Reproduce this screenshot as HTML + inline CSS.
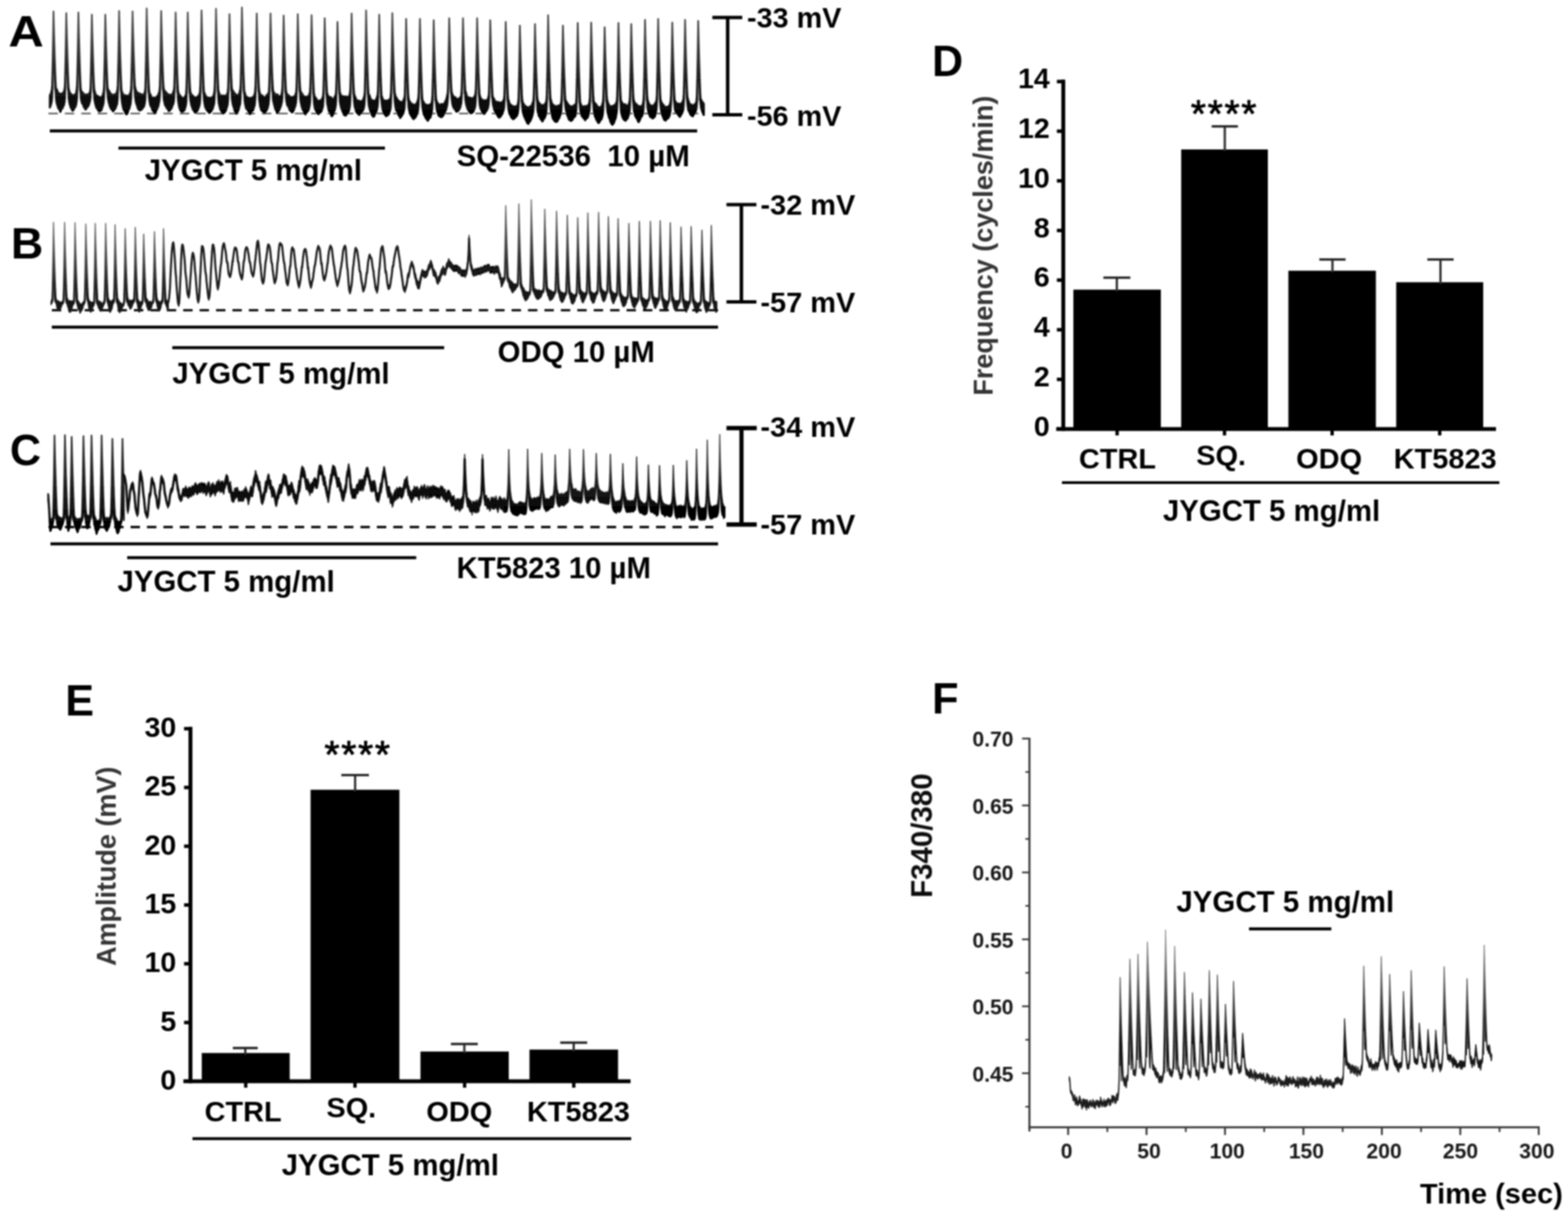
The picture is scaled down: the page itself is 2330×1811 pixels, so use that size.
<!DOCTYPE html>
<html lang="en"><head><meta charset="utf-8"><title>Figure</title>
<style>
html,body{margin:0;padding:0;background:#fff}
body{width:2330px;height:1811px;overflow:hidden}
svg{display:block;font-family:"Liberation Sans", sans-serif}
</style></head><body>
<svg width="2330" height="1811" viewBox="0 0 2330 1811">
<defs><filter id="soft" filterUnits="userSpaceOnUse" x="0" y="0" width="2330" height="1811"><feGaussianBlur stdDeviation="0.9"/></filter><linearGradient id="gA" gradientUnits="userSpaceOnUse" x1="0" y1="12" x2="0" y2="175"><stop offset="0" stop-color="#5a5a5a"/><stop offset="0.75" stop-color="#161616"/><stop offset="1" stop-color="#000"/></linearGradient><linearGradient id="gB1" gradientUnits="userSpaceOnUse" x1="0" y1="330" x2="0" y2="475"><stop offset="0" stop-color="#7a7a7a"/><stop offset="0.75" stop-color="#161616"/><stop offset="1" stop-color="#111"/></linearGradient><linearGradient id="gB3" gradientUnits="userSpaceOnUse" x1="0" y1="297" x2="0" y2="465"><stop offset="0" stop-color="#7a7a7a"/><stop offset="0.75" stop-color="#161616"/><stop offset="1" stop-color="#111"/></linearGradient><linearGradient id="gC1" gradientUnits="userSpaceOnUse" x1="0" y1="645" x2="0" y2="785"><stop offset="0" stop-color="#3a3a3a"/><stop offset="0.75" stop-color="#161616"/><stop offset="1" stop-color="#000"/></linearGradient><linearGradient id="gC3" gradientUnits="userSpaceOnUse" x1="0" y1="650" x2="0" y2="760"><stop offset="0" stop-color="#5a5a5a"/><stop offset="0.75" stop-color="#161616"/><stop offset="1" stop-color="#000"/></linearGradient><linearGradient id="gF" gradientUnits="userSpaceOnUse" x1="0" y1="1390" x2="0" y2="1605"><stop offset="0" stop-color="#9a9a9a"/><stop offset="0.75" stop-color="#161616"/><stop offset="1" stop-color="#1c1c1c"/></linearGradient></defs>
<rect width="2330" height="1811" fill="#fff"/>
<g id="fig" filter="url(#soft)">
<line x1="72" y1="168.6" x2="1040" y2="168.6" stroke="#555" stroke-width="2.4" stroke-dasharray="14 10.4"/>
<path d="M74.0 142.2L74.5 140.3L75.0 140.1L75.5 140.2L76.0 136.9L76.5 135.0L77.0 133.2L77.5 126.4L78.0 105.4L78.5 81.1L79.0 51.2L79.5 17.0L80.0 37.9L80.5 57.0L81.0 74.8L81.5 91.6L82.0 106.3L82.5 119.4L83.0 129.3L83.5 131.8L84.0 133.9L84.5 132.8L85.0 134.3L85.5 134.8L86.0 137.0L86.5 138.0L87.0 138.2L87.5 139.0L88.0 138.7L88.5 139.3L89.0 139.9L89.5 139.0L90.0 141.1L90.5 141.1L91.0 140.9L91.5 139.3L92.0 140.1L92.5 138.9L93.0 138.6L93.5 137.5L94.0 137.2L94.5 137.4L95.0 135.7L95.5 134.0L96.0 131.6L96.5 125.7L97.0 105.3L97.5 81.7L98.0 52.0L98.5 19.5L99.0 39.6L99.5 58.6L100.0 76.1L100.5 93.0L101.0 108.0L101.5 120.1L102.0 130.5L102.5 132.7L103.0 135.7L103.5 136.2L104.0 138.3L104.5 138.0L105.0 140.0L105.5 139.7L106.0 140.1L106.5 140.0L107.0 141.5L107.5 141.4L108.0 142.1L108.5 142.0L109.0 141.3L109.5 141.5L110.0 141.9L110.5 141.3L111.0 140.5L111.5 140.0L112.0 139.8L112.5 139.7L113.0 137.8L113.5 134.9L114.0 131.4L114.5 124.8L115.0 105.6L115.5 80.8L116.0 51.8L116.5 18.7L117.0 39.6L117.5 59.1L118.0 77.5L118.5 93.2L119.0 108.3L119.5 121.4L120.0 131.0L120.5 133.9L121.0 135.9L121.5 135.9L122.0 138.4L122.5 137.1L123.0 137.4L123.5 137.7L124.0 140.1L124.5 140.8L125.0 140.6L125.5 140.0L126.0 140.9L126.5 142.1L127.0 141.1L127.5 140.8L128.0 141.1L128.5 141.0L129.0 139.9L129.5 141.6L130.0 141.5L130.5 140.8L131.0 140.6L131.5 140.8L132.0 139.6L132.5 138.4L133.0 137.8L133.5 136.4L134.0 136.4L134.5 128.9L135.0 109.3L135.5 84.3L136.0 55.6L136.5 21.8L137.0 43.1L137.5 61.6L138.0 79.0L138.5 95.3L139.0 110.4L139.5 122.8L140.0 131.5L140.5 134.6L141.0 135.9L141.5 137.9L142.0 139.5L142.5 140.1L143.0 141.8L143.5 141.7L144.0 142.0L144.5 142.3L145.0 142.4L145.5 142.6L146.0 143.2L146.5 143.5L147.0 143.6L147.5 143.9L148.0 145.1L148.5 145.2L149.0 145.5L149.5 145.3L150.0 144.2L150.5 145.3L151.0 144.1L151.5 143.6L152.0 142.8L152.5 141.3L153.0 139.4L153.5 138.3L154.0 135.0L154.5 129.5L155.0 108.8L155.5 84.6L156.0 54.8L156.5 21.8L157.0 41.7L157.5 60.9L158.0 78.2L158.5 94.2L159.0 108.2L159.5 121.2L160.0 131.3L160.5 131.6L161.0 134.1L161.5 134.5L162.0 135.4L162.5 135.2L163.0 136.1L163.5 137.5L164.0 139.6L164.5 139.5L165.0 139.4L165.5 140.9L166.0 139.8L166.5 140.5L167.0 141.2L167.5 141.6L168.0 141.3L168.5 143.0L169.0 141.1L169.5 140.4L170.0 141.4L170.5 140.6L171.0 139.7L171.5 140.7L172.0 139.7L172.5 139.8L173.0 138.9L173.5 136.3L174.0 134.6L174.5 132.4L175.0 126.4L175.5 104.6L176.0 80.1L176.5 50.1L177.0 16.3L177.5 38.0L178.0 58.1L178.5 76.7L179.0 93.8L179.5 108.8L180.0 122.1L180.5 132.2L181.0 136.2L181.5 137.2L182.0 137.1L182.5 140.1L183.0 140.3L183.5 140.9L184.0 142.7L184.5 141.3L185.0 140.9L185.5 141.2L186.0 142.8L186.5 142.2L187.0 142.6L187.5 143.2L188.0 142.4L188.5 141.6L189.0 143.0L189.5 143.1L190.0 143.3L190.5 143.8L191.0 142.8L191.5 141.7L192.0 142.1L192.5 140.0L193.0 138.6L193.5 138.8L194.0 136.3L194.5 133.4L195.0 126.4L195.5 105.0L196.0 80.6L196.5 50.6L197.0 17.0L197.5 38.1L198.0 57.0L198.5 74.2L199.0 90.6L199.5 105.7L200.0 118.1L200.5 127.4L201.0 129.9L201.5 132.1L202.0 134.6L202.5 134.5L203.0 135.8L203.5 137.1L204.0 137.8L204.5 138.1L205.0 138.0L205.5 137.8L206.0 138.0L206.5 138.6L207.0 139.2L207.5 140.7L208.0 139.5L208.5 139.2L209.0 141.4L209.5 140.9L210.0 140.4L210.5 140.1L211.0 140.1L211.5 140.7L212.0 140.8L212.5 142.3L213.0 141.7L213.5 141.9L214.0 139.4L214.5 139.2L215.0 136.4L215.5 135.5L216.0 129.5L216.5 107.2L217.0 81.1L217.5 48.6L218.0 12.5L218.5 34.7L219.0 55.6L219.5 74.8L220.0 92.7L220.5 108.8L221.0 122.7L221.5 132.1L222.0 136.1L222.5 139.0L223.0 139.8L223.5 140.6L224.0 140.4L224.5 143.1L225.0 143.5L225.5 144.5L226.0 145.3L226.5 145.7L227.0 145.2L227.5 146.4L228.0 146.3L228.5 146.6L229.0 144.5L229.5 146.3L230.0 145.7L230.5 147.0L231.0 146.8L231.5 145.3L232.0 144.4L232.5 144.2L233.0 143.2L233.5 144.0L234.0 142.6L234.5 141.3L235.0 141.0L235.5 139.2L236.0 138.6L236.5 136.4L237.0 134.4L237.5 127.4L238.0 107.9L238.5 82.2L239.0 51.3L239.5 16.3L240.0 37.5L240.5 56.9L241.0 75.0L241.5 91.6L242.0 106.1L242.5 119.5L243.0 128.8L243.5 132.6L244.0 133.1L244.5 134.8L245.0 136.6L245.5 136.4L246.0 136.0L246.5 136.4L247.0 137.2L247.5 137.8L248.0 138.9L248.5 140.3L249.0 139.5L249.5 140.7L250.0 140.1L250.5 140.7L251.0 141.2L251.5 140.3L252.0 142.0L252.5 141.0L253.0 142.1L253.5 141.1L254.0 143.1L254.5 140.9L255.0 142.1L255.5 141.6L256.0 139.9L256.5 138.9L257.0 137.5L257.5 136.8L258.0 134.4L258.5 133.9L259.0 126.4L259.5 107.1L260.0 82.2L260.5 52.8L261.0 18.7L261.5 40.2L262.0 59.9L262.5 78.0L263.0 94.4L263.5 110.3L264.0 123.1L264.5 132.3L265.0 137.3L265.5 137.8L266.0 139.1L266.5 140.2L267.0 141.3L267.5 141.8L268.0 142.4L268.5 142.6L269.0 143.0L269.5 145.2L270.0 146.3L270.5 145.2L271.0 145.3L271.5 147.0L272.0 145.6L272.5 147.0L273.0 146.6L273.5 145.0L274.0 145.0L274.5 143.6L275.0 144.8L275.5 141.7L276.0 141.5L276.5 139.3L277.0 131.2L277.5 111.2L278.0 82.6L278.5 53.8L279.0 18.7L279.5 40.4L280.0 59.5L280.5 77.9L281.0 94.6L281.5 110.7L282.0 124.1L282.5 132.8L283.0 136.4L283.5 137.8L284.0 139.8L284.5 140.3L285.0 140.6L285.5 141.2L286.0 142.0L286.5 143.0L287.0 142.3L287.5 143.5L288.0 143.7L288.5 144.8L289.0 144.5L289.5 144.9L290.0 144.7L290.5 144.9L291.0 145.0L291.5 144.9L292.0 145.1L292.5 144.8L293.0 143.6L293.5 143.5L294.0 143.2L294.5 142.4L295.0 142.6L295.5 141.5L296.0 139.6L296.5 139.3L297.0 136.5L297.5 129.2L298.0 108.0L298.5 82.5L299.0 51.7L299.5 15.6L300.0 37.9L300.5 58.5L301.0 77.3L301.5 94.0L302.0 110.3L302.5 124.3L303.0 134.8L303.5 137.5L304.0 139.4L304.5 138.9L305.0 140.9L305.5 141.7L306.0 142.4L306.5 144.8L307.0 144.8L307.5 144.9L308.0 144.5L308.5 145.1L309.0 146.0L309.5 144.9L310.0 145.4L310.5 145.1L311.0 145.5L311.5 145.1L312.0 145.7L312.5 146.7L313.0 145.3L313.5 145.7L314.0 146.1L314.5 144.6L315.0 144.4L315.5 145.5L316.0 145.3L316.5 142.8L317.0 142.5L317.5 140.6L318.0 138.3L318.5 135.9L319.0 128.1L319.5 107.1L320.0 81.5L320.5 49.0L321.0 13.2L321.5 35.8L322.0 56.2L322.5 74.6L323.0 92.2L323.5 107.9L324.0 122.4L324.5 132.4L325.0 135.9L325.5 137.4L326.0 138.8L326.5 139.5L327.0 141.6L327.5 141.6L328.0 142.3L328.5 142.0L329.0 142.2L329.5 142.3L330.0 141.8L330.5 142.9L331.0 143.3L331.5 142.1L332.0 143.4L332.5 143.4L333.0 142.0L333.5 142.6L334.0 142.7L334.5 144.1L335.0 143.5L335.5 141.6L336.0 142.9L336.5 141.7L337.0 140.5L337.5 139.5L338.0 138.0L338.5 135.6L339.0 129.6L339.5 108.3L340.0 83.9L340.5 54.9L341.0 21.0L341.5 40.9L342.0 59.8L342.5 78.4L343.0 93.8L343.5 108.4L344.0 119.8L344.5 130.4L345.0 132.4L345.5 134.6L346.0 134.4L346.5 136.5L347.0 135.7L347.5 136.7L348.0 138.3L348.5 138.8L349.0 139.4L349.5 138.9L350.0 140.3L350.5 140.3L351.0 141.7L351.5 141.1L352.0 141.8L352.5 141.9L353.0 142.5L353.5 141.0L354.0 141.8L354.5 140.3L355.0 140.4L355.5 138.6L356.0 136.5L356.5 134.5L357.0 133.0L357.5 125.3L358.0 103.3L358.5 77.0L359.0 46.9L359.5 11.0L360.0 33.4L360.5 55.0L361.0 74.7L361.5 92.5L362.0 108.7L362.5 121.7L363.0 133.7L363.5 137.1L364.0 138.5L364.5 139.0L365.0 141.9L365.5 143.5L366.0 143.8L366.5 144.7L367.0 143.7L367.5 144.7L368.0 144.6L368.5 145.7L369.0 145.6L369.5 145.2L370.0 145.9L370.5 146.8L371.0 147.2L371.5 145.6L372.0 147.4L372.5 146.6L373.0 145.1L373.5 146.4L374.0 146.0L374.5 146.0L375.0 145.2L375.5 144.6L376.0 143.8L376.5 144.9L377.0 142.4L377.5 141.6L378.0 140.6L378.5 139.2L379.0 135.2L379.5 127.5L380.0 108.7L380.5 82.9L381.0 53.1L381.5 20.0L382.0 40.9L382.5 60.6L383.0 78.2L383.5 94.3L384.0 109.6L384.5 122.0L385.0 131.8L385.5 135.0L386.0 137.8L386.5 138.9L387.0 140.9L387.5 141.9L388.0 142.8L388.5 141.0L389.0 142.4L389.5 142.7L390.0 143.0L390.5 142.2L391.0 143.4L391.5 144.5L392.0 145.2L392.5 145.6L393.0 145.0L393.5 145.5L394.0 144.4L394.5 143.8L395.0 143.1L395.5 143.0L396.0 141.3L396.5 140.9L397.0 140.5L397.5 140.9L398.0 140.7L398.5 138.9L399.0 138.0L399.5 136.3L400.0 127.5L400.5 107.4L401.0 83.4L401.5 53.5L402.0 20.0L402.5 40.7L403.0 60.0L403.5 78.4L404.0 94.8L404.5 109.4L405.0 121.0L405.5 130.7L406.0 135.1L406.5 136.4L407.0 137.0L407.5 138.3L408.0 138.2L408.5 139.9L409.0 140.3L409.5 140.5L410.0 140.5L410.5 140.9L411.0 140.9L411.5 140.0L412.0 140.2L412.5 141.2L413.0 140.9L413.5 143.3L414.0 143.5L414.5 143.2L415.0 143.9L415.5 144.3L416.0 143.2L416.5 143.7L417.0 143.3L417.5 142.1L418.0 140.2L418.5 139.0L419.0 135.6L419.5 130.5L420.0 110.0L420.5 85.8L421.0 56.4L421.5 23.0L422.0 43.1L422.5 62.6L423.0 80.3L423.5 96.3L424.0 110.7L424.5 123.8L425.0 134.1L425.5 136.3L426.0 138.5L426.5 139.1L427.0 141.0L427.5 140.7L428.0 142.6L428.5 142.2L429.0 141.5L429.5 141.8L430.0 142.8L430.5 145.4L431.0 143.9L431.5 144.6L432.0 145.5L432.5 144.4L433.0 145.4L433.5 144.3L434.0 144.1L434.5 144.0L435.0 144.8L435.5 145.7L436.0 143.9L436.5 143.4L437.0 144.7L437.5 142.7L438.0 142.8L438.5 142.5L439.0 140.1L439.5 138.2L440.0 137.5L440.5 129.3L441.0 108.3L441.5 84.3L442.0 54.9L442.5 21.0L443.0 41.5L443.5 60.2L444.0 77.9L444.5 94.5L445.0 109.0L445.5 121.4L446.0 130.1L446.5 133.8L447.0 136.2L447.5 137.3L448.0 137.7L448.5 139.5L449.0 138.7L449.5 140.5L450.0 142.0L450.5 142.5L451.0 142.0L451.5 143.3L452.0 143.4L452.5 143.7L453.0 143.7L453.5 144.9L454.0 144.3L454.5 145.3L455.0 143.6L455.5 144.4L456.0 144.8L456.5 144.6L457.0 144.0L457.5 142.8L458.0 143.5L458.5 142.5L459.0 141.2L459.5 140.9L460.0 138.0L460.5 136.6L461.0 129.2L461.5 109.7L462.0 84.9L462.5 55.8L463.0 22.5L463.5 44.1L464.0 63.8L464.5 82.4L465.0 98.3L465.5 113.8L466.0 127.3L466.5 137.9L467.0 139.6L467.5 143.0L468.0 143.2L468.5 144.3L469.0 145.7L469.5 145.9L470.0 146.1L470.5 148.2L471.0 147.9L471.5 149.7L472.0 150.3L472.5 149.7L473.0 150.3L473.5 149.9L474.0 149.6L474.5 149.1L475.0 149.7L475.5 149.5L476.0 149.4L476.5 148.8L477.0 149.2L477.5 147.8L478.0 148.6L478.5 147.4L479.0 145.1L479.5 144.6L480.0 142.1L480.5 135.1L481.0 113.8L481.5 90.2L482.0 60.3L482.5 27.0L483.0 48.1L483.5 66.9L484.0 84.6L484.5 99.9L485.0 115.0L485.5 127.4L486.0 137.8L486.5 138.6L487.0 141.3L487.5 142.0L488.0 142.0L488.5 144.5L489.0 143.8L489.5 144.2L490.0 144.7L490.5 144.6L491.0 144.1L491.5 146.2L492.0 144.3L492.5 146.2L493.0 145.8L493.5 147.8L494.0 147.1L494.5 147.3L495.0 148.3L495.5 147.7L496.0 146.5L496.5 146.8L497.0 143.8L497.5 143.2L498.0 143.6L498.5 140.6L499.0 139.5L499.5 131.1L500.0 113.7L500.5 90.1L501.0 63.3L501.5 32.7L502.0 52.0L502.5 69.8L503.0 85.4L503.5 100.4L504.0 114.4L504.5 127.4L505.0 135.7L505.5 138.8L506.0 139.0L506.5 140.7L507.0 141.9L507.5 142.3L508.0 142.3L508.5 142.5L509.0 143.8L509.5 143.0L510.0 143.6L510.5 144.2L511.0 143.9L511.5 143.0L512.0 144.2L512.5 145.1L513.0 144.0L513.5 143.7L514.0 145.3L514.5 143.8L515.0 143.2L515.5 144.0L516.0 143.6L516.5 144.6L517.0 145.4L517.5 144.4L518.0 144.0L518.5 143.0L519.0 142.4L519.5 139.5L520.0 137.9L520.5 131.6L521.0 110.4L521.5 85.2L522.0 54.6L522.5 20.0L523.0 42.6L523.5 62.6L524.0 80.9L524.5 97.3L525.0 112.3L525.5 126.2L526.0 135.7L526.5 139.9L527.0 141.4L527.5 143.4L528.0 143.7L528.5 144.8L529.0 147.0L529.5 147.7L530.0 148.7L530.5 148.9L531.0 149.1L531.5 149.2L532.0 149.8L532.5 150.2L533.0 149.4L533.5 149.3L534.0 150.4L534.5 150.1L535.0 151.0L535.5 151.4L536.0 150.9L536.5 150.7L537.0 150.3L537.5 150.1L538.0 149.4L538.5 149.2L539.0 150.3L539.5 149.0L540.0 146.8L540.5 145.3L541.0 143.2L541.5 141.5L542.0 135.0L542.5 111.0L543.0 84.9L543.5 53.1L544.0 15.6L544.5 38.3L545.0 59.7L545.5 78.7L546.0 96.7L546.5 112.4L547.0 126.8L547.5 136.6L548.0 139.6L548.5 141.1L549.0 141.4L549.5 142.4L550.0 144.5L550.5 145.7L551.0 147.0L551.5 147.8L552.0 148.6L552.5 148.4L553.0 148.5L553.5 149.3L554.0 150.5L554.5 150.5L555.0 150.7L555.5 149.4L556.0 150.0L556.5 150.1L557.0 151.1L557.5 149.3L558.0 148.4L558.5 148.6L559.0 147.3L559.5 145.8L560.0 145.2L560.5 142.2L561.0 140.9L561.5 134.5L562.0 112.8L562.5 87.8L563.0 56.6L563.5 21.8L564.0 43.9L564.5 64.6L565.0 83.6L565.5 101.4L566.0 117.2L566.5 131.1L567.0 141.0L567.5 143.9L568.0 144.2L568.5 145.8L569.0 146.7L569.5 148.9L570.0 149.1L570.5 149.0L571.0 150.1L571.5 149.8L572.0 149.1L572.5 150.1L573.0 149.4L573.5 150.3L574.0 150.3L574.5 149.3L575.0 150.7L575.5 150.3L576.0 149.5L576.5 149.0L577.0 148.9L577.5 149.9L578.0 147.9L578.5 148.4L579.0 147.8L579.5 147.0L580.0 146.1L580.5 142.8L581.0 134.8L581.5 112.4L582.0 86.8L582.5 54.9L583.0 19.5L583.5 41.6L584.0 61.9L584.5 80.1L585.0 96.7L585.5 111.8L586.0 125.6L586.5 136.2L587.0 138.7L587.5 140.8L588.0 142.7L588.5 144.9L589.0 145.6L589.5 145.1L590.0 147.1L590.5 147.1L591.0 149.2L591.5 149.6L592.0 149.4L592.5 150.7L593.0 149.8L593.5 150.5L594.0 150.5L594.5 152.1L595.0 152.3L595.5 152.6L596.0 152.3L596.5 151.4L597.0 152.1L597.5 152.4L598.0 152.5L598.5 151.4L599.0 149.7L599.5 149.2L600.0 147.5L600.5 145.7L601.0 145.0L601.5 138.4L602.0 116.7L602.5 92.5L603.0 62.9L603.5 28.0L604.0 50.3L604.5 71.0L605.0 89.0L605.5 106.7L606.0 122.0L606.5 134.8L607.0 144.1L607.5 147.0L608.0 149.8L608.5 150.4L609.0 150.3L609.5 152.2L610.0 153.1L610.5 152.4L611.0 153.7L611.5 154.5L612.0 154.6L612.5 154.6L613.0 155.6L613.5 156.5L614.0 154.7L614.5 156.2L615.0 157.4L615.5 155.5L616.0 155.9L616.5 155.8L617.0 157.0L617.5 155.5L618.0 155.1L618.5 155.7L619.0 153.1L619.5 152.4L620.0 150.8L620.5 150.8L621.0 147.6L621.5 146.5L622.0 138.8L622.5 119.2L623.0 93.0L623.5 63.2L624.0 28.0L624.5 49.4L625.0 69.4L625.5 87.7L626.0 104.6L626.5 120.8L627.0 134.6L627.5 145.9L628.0 148.3L628.5 150.9L629.0 150.5L629.5 151.5L630.0 152.2L630.5 153.3L631.0 154.3L631.5 154.7L632.0 155.6L632.5 155.0L633.0 156.5L633.5 155.7L634.0 156.4L634.5 156.0L635.0 157.6L635.5 156.4L636.0 156.9L636.5 155.9L637.0 155.9L637.5 156.1L638.0 157.1L638.5 155.4L639.0 156.1L639.5 156.2L640.0 154.3L640.5 154.5L641.0 153.5L641.5 151.4L642.0 147.7L642.5 142.2L643.0 120.2L643.5 95.4L644.0 64.8L644.5 30.0L645.0 52.1L645.5 72.2L646.0 90.4L646.5 106.5L647.0 121.9L647.5 134.8L648.0 146.5L648.5 148.1L649.0 150.5L649.5 152.2L650.0 152.5L650.5 153.1L651.0 153.3L651.5 154.6L652.0 156.0L652.5 156.1L653.0 157.3L653.5 155.7L654.0 156.2L654.5 156.6L655.0 154.9L655.5 155.1L656.0 154.3L656.5 155.1L657.0 156.1L657.5 155.2L658.0 154.5L658.5 154.7L659.0 154.2L659.5 154.1L660.0 153.5L660.5 153.6L661.0 152.1L661.5 151.0L662.0 149.4L662.5 148.8L663.0 148.5L663.5 145.5L664.0 144.0L664.5 140.6L665.0 139.7L665.5 132.0L666.0 111.6L666.5 88.7L667.0 59.9L667.5 27.0L668.0 46.0L668.5 64.3L669.0 81.9L669.5 98.3L670.0 111.8L670.5 125.0L671.0 134.5L671.5 137.2L672.0 139.5L672.5 139.8L673.0 141.7L673.5 142.7L674.0 142.6L674.5 143.7L675.0 145.0L675.5 145.2L676.0 146.3L676.5 145.3L677.0 144.5L677.5 145.9L678.0 146.6L678.5 147.0L679.0 147.6L679.5 147.2L680.0 147.0L680.5 147.7L681.0 146.5L681.5 146.8L682.0 146.4L682.5 146.6L683.0 146.2L683.5 144.7L684.0 145.4L684.5 144.0L685.0 142.3L685.5 139.8L686.0 131.5L686.5 111.4L687.0 87.7L687.5 59.3L688.0 27.0L688.5 47.1L689.0 65.3L689.5 83.0L690.0 99.2L690.5 113.6L691.0 125.5L691.5 134.0L692.0 136.2L692.5 137.2L693.0 138.8L693.5 141.5L694.0 142.6L694.5 143.6L695.0 143.8L695.5 145.2L696.0 144.8L696.5 144.8L697.0 145.8L697.5 145.1L698.0 144.7L698.5 145.0L699.0 145.0L699.5 146.3L700.0 147.1L700.5 147.6L701.0 145.8L701.5 147.2L702.0 148.1L702.5 147.8L703.0 145.5L703.5 145.7L704.0 145.3L704.5 143.8L705.0 144.5L705.5 141.6L706.0 141.3L706.5 138.5L707.0 131.8L707.5 113.1L708.0 88.2L708.5 60.0L709.0 27.0L709.5 47.3L710.0 66.7L710.5 84.5L711.0 101.7L711.5 115.5L712.0 128.8L712.5 138.3L713.0 141.4L713.5 142.9L714.0 145.5L714.5 145.5L715.0 146.2L715.5 147.5L716.0 148.4L716.5 147.7L717.0 148.3L717.5 148.8L718.0 149.3L718.5 150.9L719.0 151.1L719.5 150.8L720.0 150.6L720.5 148.7L721.0 150.3L721.5 150.0L722.0 149.4L722.5 149.0L723.0 148.7L723.5 149.3L724.0 148.2L724.5 147.9L725.0 146.4L725.5 144.2L726.0 143.3L726.5 137.2L727.0 116.7L727.5 92.8L728.0 63.2L728.5 30.0L729.0 50.6L729.5 69.9L730.0 87.5L730.5 103.4L731.0 117.6L731.5 131.1L732.0 141.2L732.5 143.7L733.0 145.0L733.5 146.1L734.0 146.6L734.5 146.9L735.0 149.3L735.5 150.3L736.0 150.6L736.5 150.8L737.0 151.7L737.5 151.4L738.0 151.0L738.5 151.8L739.0 151.6L739.5 152.1L740.0 151.6L740.5 153.0L741.0 153.5L741.5 151.7L742.0 152.7L742.5 153.5L743.0 152.9L743.5 152.4L744.0 152.8L744.5 152.2L745.0 153.1L745.5 152.2L746.0 152.4L746.5 152.1L747.0 150.8L747.5 149.6L748.0 149.1L748.5 148.0L749.0 146.3L749.5 139.1L750.0 120.4L750.5 95.1L751.0 65.7L751.5 32.7L752.0 53.9L752.5 73.1L753.0 91.1L753.5 108.1L754.0 123.0L754.5 136.4L755.0 145.4L755.5 148.5L756.0 149.4L756.5 151.2L757.0 152.9L757.5 154.0L758.0 154.9L758.5 155.7L759.0 156.0L759.5 155.7L760.0 155.9L760.5 157.2L761.0 158.7L761.5 157.5L762.0 157.4L762.5 158.6L763.0 159.6L763.5 158.6L764.0 158.8L764.5 158.2L765.0 158.8L765.5 159.0L766.0 157.6L766.5 158.6L767.0 158.6L767.5 158.0L768.0 158.0L768.5 157.5L769.0 155.8L769.5 153.3L770.0 151.5L770.5 145.9L771.0 126.5L771.5 101.4L772.0 71.6L772.5 38.0L773.0 58.1L773.5 76.3L774.0 93.7L774.5 109.6L775.0 124.5L775.5 137.9L776.0 147.8L776.5 149.7L777.0 153.1L777.5 153.2L778.0 155.0L778.5 154.3L779.0 156.1L779.5 156.8L780.0 157.6L780.5 157.7L781.0 157.2L781.5 158.0L782.0 159.9L782.5 159.9L783.0 158.9L783.5 160.4L784.0 159.3L784.5 159.2L785.0 160.6L785.5 160.1L786.0 159.6L786.5 159.5L787.0 160.2L787.5 157.8L788.0 158.8L788.5 159.4L789.0 159.7L789.5 157.2L790.0 156.3L790.5 156.1L791.0 153.7L791.5 152.3L792.0 151.2L792.5 149.7L793.0 143.2L793.5 124.2L794.0 99.0L794.5 69.3L795.0 35.8L795.5 55.9L796.0 74.5L796.5 92.7L797.0 108.3L797.5 123.1L798.0 133.9L798.5 145.6L799.0 148.2L799.5 149.8L800.0 151.4L800.5 152.3L801.0 152.8L801.5 152.8L802.0 153.5L802.5 154.3L803.0 155.9L803.5 155.9L804.0 157.0L804.5 156.3L805.0 157.2L805.5 155.9L806.0 156.5L806.5 155.9L807.0 156.2L807.5 157.0L808.0 156.4L808.5 156.2L809.0 156.2L809.5 154.3L810.0 154.6L810.5 154.1L811.0 152.2L811.5 150.9L812.0 148.8L812.5 140.4L813.0 117.1L813.5 90.8L814.0 58.6L814.5 22.6L815.0 45.5L815.5 66.5L816.0 86.1L816.5 103.2L817.0 119.3L817.5 134.1L818.0 145.0L818.5 147.8L819.0 148.9L819.5 151.8L820.0 152.5L820.5 153.9L821.0 155.1L821.5 155.0L822.0 155.2L822.5 156.0L823.0 157.3L823.5 156.9L824.0 157.0L824.5 157.7L825.0 157.4L825.5 158.0L826.0 157.6L826.5 159.0L827.0 158.9L827.5 158.8L828.0 158.6L828.5 158.3L829.0 156.7L829.5 156.8L830.0 157.7L830.5 157.5L831.0 158.3L831.5 156.2L832.0 156.5L832.5 156.6L833.0 155.4L833.5 152.9L834.0 151.4L834.5 143.2L835.0 123.9L835.5 99.3L836.0 70.6L836.5 38.0L837.0 58.4L837.5 76.8L838.0 94.0L838.5 109.2L839.0 123.7L839.5 137.0L840.0 145.6L840.5 148.8L841.0 150.0L841.5 151.3L842.0 151.0L842.5 152.1L843.0 154.1L843.5 154.6L844.0 153.9L844.5 156.3L845.0 155.8L845.5 156.2L846.0 157.2L846.5 157.0L847.0 158.9L847.5 159.1L848.0 157.8L848.5 158.1L849.0 159.2L849.5 158.7L850.0 158.4L850.5 157.7L851.0 158.2L851.5 159.6L852.0 157.8L852.5 157.5L853.0 155.8L853.5 156.1L854.0 155.9L854.5 155.9L855.0 156.5L855.5 155.8L856.0 151.9L856.5 145.8L857.0 123.3L857.5 99.6L858.0 68.6L858.5 34.0L859.0 55.8L859.5 75.1L860.0 93.7L860.5 110.1L861.0 125.4L861.5 139.2L862.0 149.8L862.5 153.3L863.0 154.1L863.5 155.1L864.0 156.6L864.5 157.6L865.0 158.6L865.5 159.1L866.0 158.5L866.5 158.7L867.0 158.0L867.5 157.8L868.0 159.0L868.5 157.9L869.0 157.9L869.5 159.1L870.0 157.7L870.5 157.5L871.0 159.0L871.5 157.8L872.0 159.1L872.5 159.1L873.0 159.0L873.5 156.2L874.0 156.2L874.5 155.8L875.0 154.5L875.5 152.5L876.0 149.8L876.5 144.4L877.0 122.3L877.5 97.9L878.0 67.7L878.5 33.5L879.0 54.6L879.5 74.5L880.0 91.9L880.5 109.4L881.0 125.1L881.5 138.3L882.0 146.6L882.5 150.9L883.0 151.7L883.5 152.7L884.0 154.3L884.5 154.4L885.0 153.8L885.5 155.0L886.0 155.0L886.5 155.5L887.0 157.9L887.5 157.6L888.0 157.8L888.5 159.2L889.0 159.4L889.5 159.7L890.0 160.0L890.5 159.1L891.0 161.2L891.5 159.7L892.0 161.2L892.5 158.7L893.0 158.4L893.5 159.2L894.0 158.2L894.5 156.0L895.0 154.4L895.5 153.1L896.0 150.5L896.5 142.6L897.0 123.6L897.5 98.6L898.0 71.8L898.5 40.5L899.0 60.6L899.5 79.2L900.0 96.6L900.5 111.5L901.0 125.8L901.5 138.4L902.0 146.8L902.5 149.2L903.0 150.4L903.5 153.1L904.0 154.2L904.5 154.1L905.0 155.5L905.5 157.3L906.0 157.7L906.5 157.8L907.0 157.8L907.5 158.5L908.0 157.9L908.5 158.5L909.0 158.2L909.5 157.9L910.0 157.1L910.5 158.3L911.0 157.2L911.5 158.1L912.0 156.9L912.5 156.3L913.0 156.9L913.5 155.9L914.0 156.7L914.5 154.7L915.0 154.3L915.5 152.4L916.0 152.2L916.5 150.1L917.0 142.5L917.5 123.1L918.0 98.5L918.5 67.7L919.0 34.0L919.5 55.0L920.0 74.7L920.5 93.5L921.0 109.5L921.5 124.0L922.0 135.9L922.5 146.6L923.0 149.6L923.5 151.8L924.0 153.2L924.5 152.0L925.0 153.5L925.5 153.8L926.0 154.5L926.5 154.7L927.0 155.7L927.5 155.5L928.0 155.8L928.5 155.2L929.0 154.6L929.5 155.8L930.0 158.2L930.5 158.2L931.0 156.6L931.5 158.0L932.0 157.1L932.5 157.8L933.0 156.6L933.5 156.6L934.0 154.8L934.5 154.4L935.0 151.6L935.5 150.5L936.0 143.3L936.5 123.7L937.0 98.5L937.5 68.4L938.0 35.8L938.5 56.4L939.0 75.3L939.5 93.3L940.0 110.0L940.5 124.8L941.0 138.0L941.5 147.0L942.0 149.2L942.5 150.1L943.0 151.7L943.5 153.4L944.0 154.2L944.5 155.8L945.0 154.6L945.5 154.0L946.0 155.7L946.5 156.8L947.0 156.2L947.5 157.9L948.0 156.6L948.5 158.5L949.0 159.6L949.5 158.4L950.0 157.8L950.5 159.1L951.0 159.4L951.5 159.2L952.0 157.7L952.5 158.6L953.0 158.2L953.5 158.2L954.0 157.4L954.5 157.0L955.0 154.6L955.5 153.0L956.0 150.0L956.5 142.7L957.0 122.2L957.5 96.3L958.0 64.5L958.5 29.6L959.0 52.0L959.5 71.4L960.0 89.4L960.5 106.6L961.0 121.1L961.5 134.4L962.0 145.6L962.5 148.4L963.0 150.1L963.5 152.1L964.0 152.3L964.5 154.7L965.0 154.2L965.5 156.3L966.0 156.0L966.5 158.4L967.0 156.8L967.5 157.5L968.0 156.9L968.5 156.8L969.0 157.9L969.5 158.0L970.0 156.9L970.5 157.6L971.0 157.0L971.5 156.5L972.0 157.0L972.5 154.2L973.0 155.5L973.5 154.9L974.0 154.1L974.5 151.3L975.0 150.7L975.5 148.5L976.0 141.6L976.5 119.3L977.0 93.7L977.5 62.8L978.0 28.0L978.5 50.1L979.0 70.1L979.5 89.0L980.0 106.0L980.5 121.1L981.0 135.8L981.5 146.5L982.0 149.3L982.5 150.2L983.0 151.8L983.5 152.2L984.0 154.0L984.5 154.3L985.0 155.4L985.5 155.4L986.0 155.5L986.5 156.1L987.0 158.2L987.5 159.0L988.0 159.8L988.5 159.0L989.0 159.2L989.5 158.6L990.0 159.9L990.5 158.7L991.0 159.5L991.5 160.4L992.0 159.7L992.5 158.2L993.0 158.7L993.5 158.4L994.0 158.8L994.5 156.2L995.0 157.0L995.5 155.2L996.0 151.9L996.5 149.8L997.0 141.7L997.5 121.1L998.0 97.3L998.5 67.9L999.0 33.5L999.5 55.1L1000.0 75.2L1000.5 93.6L1001.0 109.5L1001.5 124.4L1002.0 136.6L1002.5 146.7L1003.0 149.4L1003.5 152.7L1004.0 151.9L1004.5 151.5L1005.0 153.6L1005.5 153.2L1006.0 153.4L1006.5 153.8L1007.0 154.8L1007.5 153.8L1008.0 154.9L1008.5 155.3L1009.0 153.9L1009.5 154.6L1010.0 154.2L1010.5 154.7L1011.0 156.3L1011.5 155.7L1012.0 153.8L1012.5 154.9L1013.0 152.7L1013.5 152.8L1014.0 151.5L1014.5 149.9L1015.0 149.4L1015.5 146.2L1016.0 140.1L1016.5 119.0L1017.0 92.7L1017.5 63.9L1018.0 29.6L1018.5 51.2L1019.0 71.4L1019.5 89.3L1020.0 105.5L1020.5 120.2L1021.0 133.7L1021.5 142.6L1022.0 146.1L1022.5 147.3L1023.0 149.3L1023.5 150.3L1024.0 152.3L1024.5 152.6L1025.0 155.3L1025.5 155.3L1026.0 155.8L1026.5 156.6L1027.0 156.4L1027.5 155.1L1028.0 156.5L1028.5 156.8L1029.0 157.0L1029.5 157.2L1030.0 156.9L1030.5 156.9L1031.0 155.3L1031.5 156.7L1032.0 156.2L1032.5 154.8L1033.0 155.2L1033.5 154.6L1034.0 152.4L1034.5 152.2L1035.0 148.2L1035.5 142.5L1036.0 120.9L1036.5 94.3L1037.0 65.6L1037.5 31.0L1038.0 52.2L1038.5 71.6L1039.0 89.7L1039.5 106.4L1040.0 121.8L1040.5 135.1L1041.0 144.9L1041.5 147.7L1042.0 147.8L1042.5 150.1L1043.0 150.0L1043.5 152.4L1044.0 151.4L1044.5 152.4L1045.0 152.3L1045.5 154.3L1046.0 154.4L1046.0 171.0L1045.5 169.7L1045.0 170.4L1044.5 167.7L1044.0 167.0L1043.5 166.5L1043.0 164.1L1042.5 162.0L1042.0 162.1L1041.5 158.9L1041.0 154.6L1040.5 150.9L1040.0 148.3L1039.5 133.1L1039.0 113.2L1038.5 90.0L1038.0 64.2L1037.5 35.0L1037.0 82.0L1036.5 120.2L1036.0 148.4L1035.5 156.4L1035.0 161.5L1034.5 163.5L1034.0 165.1L1033.5 166.8L1033.0 166.4L1032.5 168.6L1032.0 168.9L1031.5 169.3L1031.0 169.9L1030.5 171.6L1030.0 171.8L1029.5 173.0L1029.0 172.5L1028.5 172.6L1028.0 171.8L1027.5 171.7L1027.0 171.7L1026.5 169.9L1026.0 170.3L1025.5 169.7L1025.0 167.5L1024.5 166.7L1024.0 166.2L1023.5 165.2L1023.0 164.4L1022.5 162.9L1022.0 159.1L1021.5 155.6L1021.0 149.3L1020.5 146.4L1020.0 131.8L1019.5 112.4L1019.0 89.7L1018.5 63.1L1018.0 33.6L1017.5 80.1L1017.0 120.3L1016.5 146.7L1016.0 156.4L1015.5 162.3L1015.0 164.2L1014.5 165.7L1014.0 167.7L1013.5 168.1L1013.0 169.5L1012.5 170.5L1012.0 170.9L1011.5 170.8L1011.0 173.2L1010.5 172.3L1010.0 173.8L1009.5 173.3L1009.0 171.7L1008.5 171.8L1008.0 171.5L1007.5 170.4L1007.0 169.2L1006.5 168.7L1006.0 168.7L1005.5 168.1L1005.0 167.4L1004.5 166.4L1004.0 166.8L1003.5 163.7L1003.0 163.5L1002.5 159.6L1002.0 153.8L1001.5 150.3L1001.0 135.6L1000.5 116.5L1000.0 93.3L999.5 66.9L999.0 37.5L998.5 83.9L998.0 121.4L997.5 149.1L997.0 157.4L996.5 163.6L996.0 167.5L995.5 169.8L995.0 172.1L994.5 172.4L994.0 174.3L993.5 174.1L993.0 175.8L992.5 175.1L992.0 174.8L991.5 176.5L991.0 177.0L990.5 177.5L990.0 177.6L989.5 179.2L989.0 179.3L988.5 177.6L988.0 178.3L987.5 178.6L987.0 176.7L986.5 177.8L986.0 175.6L985.5 175.1L985.0 173.2L984.5 172.6L984.0 171.1L983.5 169.7L983.0 168.5L982.5 165.1L982.0 162.6L981.5 158.7L981.0 152.1L980.5 148.6L980.0 133.5L979.5 113.2L979.0 89.1L978.5 62.4L978.0 32.0L977.5 79.7L977.0 119.1L976.5 147.7L976.0 158.0L975.5 163.6L975.0 166.1L974.5 167.8L974.0 170.6L973.5 172.5L973.0 173.5L972.5 174.2L972.0 174.4L971.5 174.9L971.0 174.3L970.5 175.7L970.0 174.8L969.5 176.2L969.0 175.1L968.5 174.5L968.0 174.6L967.5 173.2L967.0 173.9L966.5 173.9L966.0 174.0L965.5 172.0L965.0 170.9L964.5 169.7L964.0 169.5L963.5 167.6L963.0 164.6L962.5 161.9L962.0 160.2L961.5 150.8L961.0 148.0L960.5 133.6L960.0 113.2L959.5 90.1L959.0 64.1L958.5 33.6L958.0 81.1L957.5 121.3L957.0 149.9L956.5 159.3L956.0 164.8L955.5 167.4L955.0 169.6L954.5 171.9L954.0 171.5L953.5 173.7L953.0 172.9L952.5 174.4L952.0 174.8L951.5 177.3L951.0 177.5L950.5 179.6L950.0 180.2L949.5 180.2L949.0 181.7L948.5 181.3L948.0 179.6L947.5 179.5L947.0 177.5L946.5 176.0L946.0 175.9L945.5 175.6L945.0 173.6L944.5 173.8L944.0 172.5L943.5 171.5L943.0 169.1L942.5 166.9L942.0 165.2L941.5 160.0L941.0 153.3L940.5 150.3L940.0 135.7L939.5 116.0L939.0 93.2L938.5 68.1L938.0 39.8L937.5 84.3L937.0 122.2L936.5 149.5L936.0 161.2L935.5 166.1L935.0 168.2L934.5 171.3L934.0 171.8L933.5 172.9L933.0 175.7L932.5 176.1L932.0 176.5L931.5 177.1L931.0 176.2L930.5 178.7L930.0 178.3L929.5 179.6L929.0 179.3L928.5 178.7L928.0 177.6L927.5 178.4L927.0 177.3L926.5 177.4L926.0 176.5L925.5 175.6L925.0 174.7L924.5 172.9L924.0 171.3L923.5 169.7L923.0 167.4L922.5 162.8L922.0 153.0L921.5 150.1L921.0 135.7L920.5 116.6L920.0 92.9L919.5 66.9L919.0 38.0L918.5 83.8L918.0 122.7L917.5 150.2L917.0 161.5L916.5 167.4L916.0 170.3L915.5 173.0L915.0 175.9L914.5 177.2L914.0 177.3L913.5 179.0L913.0 181.1L912.5 182.7L912.0 182.8L911.5 183.3L911.0 184.9L910.5 184.3L910.0 185.6L909.5 184.6L909.0 184.7L908.5 184.0L908.0 182.9L907.5 181.0L907.0 181.5L906.5 179.0L906.0 176.9L905.5 176.3L905.0 175.2L904.5 173.9L904.0 171.6L903.5 168.9L903.0 167.7L902.5 165.2L902.0 160.3L901.5 153.2L901.0 150.5L900.5 136.3L900.0 118.5L899.5 96.5L899.0 72.0L898.5 44.5L898.0 87.2L897.5 126.0L897.0 149.9L896.5 162.5L896.0 168.3L895.5 171.7L895.0 173.9L894.5 175.1L894.0 177.2L893.5 177.7L893.0 176.9L892.5 177.5L892.0 179.1L891.5 180.5L891.0 180.0L890.5 182.3L890.0 182.2L889.5 183.0L889.0 181.8L888.5 182.1L888.0 181.8L887.5 179.6L887.0 178.5L886.5 178.7L886.0 178.1L885.5 176.1L885.0 174.6L884.5 174.3L884.0 173.2L883.5 171.4L883.0 168.2L882.5 165.4L882.0 162.2L881.5 154.0L881.0 151.5L880.5 135.9L880.0 115.2L879.5 92.8L879.0 66.6L878.5 37.5L878.0 84.0L877.5 122.4L877.0 150.5L876.5 159.4L876.0 164.9L875.5 166.9L875.0 168.7L874.5 171.8L874.0 172.4L873.5 174.5L873.0 174.9L872.5 175.7L872.0 175.5L871.5 176.3L871.0 176.0L870.5 177.2L870.0 176.5L869.5 178.9L869.0 178.2L868.5 176.4L868.0 176.7L867.5 176.3L867.0 175.2L866.5 174.0L866.0 174.6L865.5 173.4L865.0 173.1L864.5 171.3L864.0 171.9L863.5 168.5L863.0 168.1L862.5 164.9L862.0 162.3L861.5 155.0L861.0 151.9L860.5 136.8L860.0 117.2L859.5 93.6L859.0 67.8L858.5 38.0L858.0 85.0L857.5 124.3L857.0 152.0L856.5 162.8L856.0 167.2L855.5 170.7L855.0 172.3L854.5 173.3L854.0 173.0L853.5 174.1L853.0 174.4L852.5 174.5L852.0 175.9L851.5 176.2L851.0 177.8L850.5 177.7L850.0 178.9L849.5 179.1L849.0 179.4L848.5 179.8L848.0 178.2L847.5 179.3L847.0 178.9L846.5 177.6L846.0 178.4L845.5 177.0L845.0 177.2L844.5 175.1L844.0 174.1L843.5 172.8L843.0 171.9L842.5 170.5L842.0 167.1L841.5 165.6L841.0 164.3L840.5 161.5L840.0 157.1L839.5 152.0L839.0 148.9L838.5 134.5L838.0 116.3L837.5 94.4L837.0 69.9L836.5 42.0L836.0 86.3L835.5 122.8L835.0 149.4L834.5 159.9L834.0 166.2L833.5 168.7L833.0 170.6L832.5 171.1L832.0 173.1L831.5 173.4L831.0 176.0L830.5 175.4L830.0 176.9L829.5 178.1L829.0 177.5L828.5 180.3L828.0 179.5L827.5 180.9L827.0 181.5L826.5 181.4L826.0 181.0L825.5 179.5L825.0 179.8L824.5 179.2L824.0 180.5L823.5 178.4L823.0 177.2L822.5 177.9L822.0 175.7L821.5 176.6L821.0 174.2L820.5 173.6L820.0 170.2L819.5 168.0L819.0 166.7L818.5 162.5L818.0 158.9L817.5 150.8L817.0 147.3L816.5 131.3L816.0 110.8L815.5 85.9L815.0 58.0L814.5 26.6L814.0 75.8L813.5 116.8L813.0 147.2L812.5 158.3L812.0 165.6L811.5 169.1L811.0 171.3L810.5 172.7L810.0 173.0L809.5 175.5L809.0 175.5L808.5 175.7L808.0 177.2L807.5 177.1L807.0 178.8L806.5 179.9L806.0 180.7L805.5 180.2L805.0 178.0L804.5 177.2L804.0 177.7L803.5 177.7L803.0 176.3L802.5 175.2L802.0 173.4L801.5 173.6L801.0 171.7L800.5 172.5L800.0 169.7L799.5 167.5L799.0 166.6L798.5 162.8L798.0 151.4L797.5 149.0L797.0 134.3L796.5 115.6L796.0 92.6L795.5 67.7L795.0 39.8L794.5 85.3L794.0 123.1L793.5 150.2L793.0 159.6L792.5 165.2L792.0 167.7L791.5 169.9L791.0 172.7L790.5 173.6L790.0 175.7L789.5 176.6L789.0 177.6L788.5 178.9L788.0 180.3L787.5 178.9L787.0 180.9L786.5 179.9L786.0 182.1L785.5 184.1L785.0 184.1L784.5 184.0L784.0 182.9L783.5 183.4L783.0 182.3L782.5 180.7L782.0 179.2L781.5 179.1L781.0 178.0L780.5 176.4L780.0 175.9L779.5 173.8L779.0 173.8L778.5 172.0L778.0 171.0L777.5 168.0L777.0 167.6L776.5 164.2L776.0 159.9L775.5 153.2L775.0 150.1L774.5 135.3L774.0 116.4L773.5 94.2L773.0 69.8L772.5 42.0L772.0 87.5L771.5 125.2L771.0 152.5L770.5 160.7L770.0 164.9L769.5 168.4L769.0 169.4L768.5 171.8L768.0 171.9L767.5 173.0L767.0 172.7L766.5 174.0L766.0 174.6L765.5 174.4L765.0 174.7L764.5 175.6L764.0 176.7L763.5 175.6L763.0 176.6L762.5 177.2L762.0 177.0L761.5 175.6L761.0 175.7L760.5 175.7L760.0 174.8L759.5 173.1L759.0 173.3L758.5 170.7L758.0 171.0L757.5 169.7L757.0 168.7L756.5 166.2L756.0 165.2L755.5 162.4L755.0 157.7L754.5 151.7L754.0 148.7L753.5 133.9L753.0 113.8L752.5 91.0L752.0 65.6L751.5 36.7L751.0 81.6L750.5 118.9L750.0 146.3L749.5 155.3L749.0 161.2L748.5 162.9L748.0 165.1L747.5 165.7L747.0 167.9L746.5 169.6L746.0 169.1L745.5 170.4L745.0 171.5L744.5 172.6L744.0 173.3L743.5 172.3L743.0 173.7L742.5 173.6L742.0 175.0L741.5 174.6L741.0 174.7L740.5 172.5L740.0 172.5L739.5 172.8L739.0 171.5L738.5 170.2L738.0 169.4L737.5 169.3L737.0 167.2L736.5 168.2L736.0 165.9L735.5 165.4L735.0 164.5L734.5 163.5L734.0 162.0L733.5 159.2L733.0 157.8L732.5 155.4L732.0 151.0L731.5 146.3L731.0 143.1L730.5 129.0L730.0 110.1L729.5 87.7L729.0 62.2L728.5 34.0L728.0 79.0L727.5 116.5L727.0 142.9L726.5 151.7L726.0 156.3L725.5 159.0L725.0 160.9L724.5 162.0L724.0 162.6L723.5 164.2L723.0 165.0L722.5 164.8L722.0 165.2L721.5 165.8L721.0 168.3L720.5 168.2L720.0 168.9L719.5 168.3L719.0 169.4L718.5 168.2L718.0 168.1L717.5 166.8L717.0 167.1L716.5 166.5L716.0 165.9L715.5 164.2L715.0 163.3L714.5 162.0L714.0 161.3L713.5 159.4L713.0 157.2L712.5 154.1L712.0 144.5L711.5 141.0L711.0 127.3L710.5 107.1L710.0 84.6L709.5 58.9L709.0 31.0L708.5 75.9L708.0 111.9L707.5 138.9L707.0 149.4L706.5 155.9L706.0 159.4L705.5 160.8L705.0 162.1L704.5 163.1L704.0 165.3L703.5 165.5L703.0 166.6L702.5 166.1L702.0 167.4L701.5 166.8L701.0 167.9L700.5 168.0L700.0 168.5L699.5 167.5L699.0 168.1L698.5 167.7L698.0 166.6L697.5 166.6L697.0 166.0L696.5 164.2L696.0 164.3L695.5 163.1L695.0 162.3L694.5 161.7L694.0 160.1L693.5 157.6L693.0 156.6L692.5 154.5L692.0 151.3L691.5 148.9L691.0 140.6L690.5 139.0L690.0 124.7L689.5 105.5L689.0 83.1L688.5 58.7L688.0 31.0L687.5 75.0L687.0 111.3L686.5 138.3L686.0 146.6L685.5 154.1L685.0 155.3L684.5 157.2L684.0 160.2L683.5 159.6L683.0 161.2L682.5 163.2L682.0 163.3L681.5 164.1L681.0 164.2L680.5 165.2L680.0 164.4L679.5 165.9L679.0 166.1L678.5 165.9L678.0 165.9L677.5 165.2L677.0 164.5L676.5 163.1L676.0 162.6L675.5 161.6L675.0 160.9L674.5 161.2L674.0 160.3L673.5 159.1L673.0 157.5L672.5 156.4L672.0 153.6L671.5 149.9L671.0 145.7L670.5 140.0L670.0 136.8L669.5 123.5L669.0 104.1L668.5 81.9L668.0 57.5L667.5 31.0L667.0 75.5L666.5 112.0L666.0 138.1L665.5 147.4L665.0 152.5L664.5 156.5L664.0 158.7L663.5 160.2L663.0 163.0L662.5 163.9L662.0 164.1L661.5 166.6L661.0 166.9L660.5 167.4L660.0 168.4L659.5 169.8L659.0 171.6L658.5 171.3L658.0 172.0L657.5 173.2L657.0 173.4L656.5 173.7L656.0 174.3L655.5 174.0L655.0 173.1L654.5 173.7L654.0 173.1L653.5 173.4L653.0 171.1L652.5 172.1L652.0 172.2L651.5 171.5L651.0 168.3L650.5 168.9L650.0 166.6L649.5 165.7L649.0 162.9L648.5 160.4L648.0 154.4L647.5 150.7L647.0 148.6L646.5 133.3L646.0 114.0L645.5 90.8L645.0 64.1L644.5 34.0L644.0 81.3L643.5 120.2L643.0 149.0L642.5 159.8L642.0 164.3L641.5 168.5L641.0 170.4L640.5 170.9L640.0 174.2L639.5 174.6L639.0 175.1L638.5 175.7L638.0 175.8L637.5 176.8L637.0 177.0L636.5 178.3L636.0 179.3L635.5 179.6L635.0 178.8L634.5 178.2L634.0 177.0L633.5 176.1L633.0 175.8L632.5 175.9L632.0 174.0L631.5 173.6L631.0 172.3L630.5 171.4L630.0 170.1L629.5 170.0L629.0 166.5L628.5 164.5L628.0 161.6L627.5 158.5L627.0 150.5L626.5 147.4L626.0 131.3L625.5 111.2L625.0 87.9L624.5 61.4L624.0 32.0L623.5 79.6L623.0 117.7L622.5 146.1L622.0 157.1L621.5 162.1L621.0 165.5L620.5 166.7L620.0 169.2L619.5 169.9L619.0 171.4L618.5 172.6L618.0 173.5L617.5 174.3L617.0 175.0L616.5 173.9L616.0 175.5L615.5 176.5L615.0 176.3L614.5 177.2L614.0 175.4L613.5 176.3L613.0 174.0L612.5 174.7L612.0 174.0L611.5 172.4L611.0 172.2L610.5 171.4L610.0 170.9L609.5 169.4L609.0 168.8L608.5 166.8L608.0 163.8L607.5 162.3L607.0 158.8L606.5 150.5L606.0 148.3L605.5 133.2L605.0 112.3L604.5 89.3L604.0 62.3L603.5 32.0L603.0 79.1L602.5 116.9L602.0 144.5L601.5 154.9L601.0 161.9L600.5 163.6L600.0 165.8L599.5 168.0L599.0 169.2L598.5 169.7L598.0 170.1L597.5 171.6L597.0 172.7L596.5 173.0L596.0 172.3L595.5 174.0L595.0 175.2L594.5 175.4L594.0 173.9L593.5 172.3L593.0 172.6L592.5 170.6L592.0 171.0L591.5 169.5L591.0 168.6L590.5 166.6L590.0 165.2L589.5 165.4L589.0 164.3L588.5 163.9L588.0 160.6L587.5 158.4L587.0 154.8L586.5 150.3L586.0 141.9L585.5 139.1L585.0 124.1L584.5 104.1L584.0 80.9L583.5 53.9L583.0 23.5L582.5 72.1L582.0 115.5L581.5 141.3L581.0 154.2L580.5 161.0L580.0 163.0L579.5 164.6L579.0 166.3L578.5 168.5L578.0 168.6L577.5 170.4L577.0 170.8L576.5 170.4L576.0 171.3L575.5 172.1L575.0 172.3L574.5 172.4L574.0 171.9L573.5 172.8L573.0 171.4L572.5 171.5L572.0 170.4L571.5 169.9L571.0 169.7L570.5 167.6L570.0 167.5L569.5 166.4L569.0 164.4L568.5 162.9L568.0 159.7L567.5 156.7L567.0 152.7L566.5 147.2L566.0 144.3L565.5 128.5L565.0 107.5L564.5 83.4L564.0 56.0L563.5 25.8L563.0 73.2L562.5 115.3L562.0 141.9L561.5 154.9L561.0 159.3L560.5 161.6L560.0 163.7L559.5 165.1L559.0 167.4L558.5 167.2L558.0 168.4L557.5 168.9L557.0 170.5L556.5 172.4L556.0 172.6L555.5 173.0L555.0 173.8L554.5 173.6L554.0 172.7L553.5 171.9L553.0 171.8L552.5 171.2L552.0 169.2L551.5 168.2L551.0 165.8L550.5 166.2L550.0 163.9L549.5 162.9L549.0 160.8L548.5 159.1L548.0 156.7L547.5 152.0L547.0 143.6L546.5 140.4L546.0 124.8L545.5 103.3L545.0 79.1L544.5 50.8L544.0 19.6L543.5 70.3L543.0 110.8L542.5 140.7L542.0 149.4L541.5 156.9L541.0 159.0L540.5 161.5L540.0 162.0L539.5 164.4L539.0 163.6L538.5 164.2L538.0 165.6L537.5 167.4L537.0 167.4L536.5 167.4L536.0 168.5L535.5 168.4L535.0 168.9L534.5 170.4L534.0 170.2L533.5 170.9L533.0 168.9L532.5 169.0L532.0 168.7L531.5 169.1L531.0 167.8L530.5 167.6L530.0 167.3L529.5 166.9L529.0 165.5L528.5 163.2L528.0 161.5L527.5 160.3L527.0 158.2L526.5 154.5L526.0 149.3L525.5 142.1L525.0 138.9L524.5 124.1L524.0 104.5L523.5 81.2L523.0 54.7L522.5 24.0L522.0 71.0L521.5 110.0L521.0 138.6L520.5 151.7L520.0 157.8L519.5 160.7L519.0 162.9L518.5 164.7L518.0 166.6L517.5 166.8L517.0 167.5L516.5 168.2L516.0 169.4L515.5 169.8L515.0 169.1L514.5 170.5L514.0 171.6L513.5 172.0L513.0 170.8L512.5 170.3L512.0 171.4L511.5 169.2L511.0 170.7L510.5 169.2L510.0 167.3L509.5 167.3L509.0 166.1L508.5 164.2L508.0 162.5L507.5 162.3L507.0 160.0L506.5 159.0L506.0 156.1L505.5 154.0L505.0 150.6L504.5 141.7L504.0 138.3L503.5 124.4L503.0 106.6L502.5 86.6L502.0 63.1L501.5 36.7L501.0 78.3L500.5 112.4L500.0 137.9L499.5 150.5L499.0 156.6L498.5 159.5L498.0 161.7L497.5 163.9L497.0 164.9L496.5 165.5L496.0 168.2L495.5 169.7L495.0 170.1L494.5 171.4L494.0 171.6L493.5 172.8L493.0 172.8L492.5 172.5L492.0 170.6L491.5 170.6L491.0 168.1L490.5 168.1L490.0 166.4L489.5 165.9L489.0 165.8L488.5 164.7L488.0 162.6L487.5 159.8L487.0 157.3L486.5 155.4L486.0 151.9L485.5 143.1L485.0 140.8L484.5 125.8L484.0 107.4L483.5 84.9L483.0 59.8L482.5 31.0L482.0 76.2L481.5 114.1L481.0 141.3L480.5 151.3L480.0 157.6L479.5 160.4L479.0 161.1L478.5 162.8L478.0 165.0L477.5 165.7L477.0 166.5L476.5 166.2L476.0 166.0L475.5 167.6L475.0 166.2L474.5 167.1L474.0 168.6L473.5 169.6L473.0 169.8L472.5 168.2L472.0 167.8L471.5 168.3L471.0 167.9L470.5 167.0L470.0 165.4L469.5 164.7L469.0 163.8L468.5 162.1L468.0 161.9L467.5 158.7L467.0 156.6L466.5 152.1L466.0 142.8L465.5 139.7L465.0 124.4L464.5 105.3L464.0 81.8L463.5 55.9L463.0 26.5L462.5 71.9L462.0 109.0L461.5 136.2L461.0 149.9L460.5 155.1L460.0 157.8L459.5 160.1L459.0 162.0L458.5 164.0L458.0 163.9L457.5 165.5L457.0 165.7L456.5 165.4L456.0 167.0L455.5 167.8L455.0 167.9L454.5 168.8L454.0 170.1L453.5 170.0L453.0 169.0L452.5 168.3L452.0 168.1L451.5 166.7L451.0 164.4L450.5 163.6L450.0 163.3L449.5 162.8L449.0 160.5L448.5 159.5L448.0 157.7L447.5 154.7L447.0 152.9L446.5 150.0L446.0 145.8L445.5 136.7L445.0 134.8L444.5 120.4L444.0 100.7L443.5 78.2L443.0 53.2L442.5 25.0L442.0 70.9L441.5 108.2L441.0 135.9L440.5 146.1L440.0 152.6L439.5 154.4L439.0 157.2L438.5 158.7L438.0 159.8L437.5 160.6L437.0 163.4L436.5 163.3L436.0 164.1L435.5 166.1L435.0 166.5L434.5 167.1L434.0 167.1L433.5 166.6L433.0 166.6L432.5 164.9L432.0 165.3L431.5 164.0L431.0 164.2L430.5 163.8L430.0 163.4L429.5 160.2L429.0 159.9L428.5 158.8L428.0 157.6L427.5 157.2L427.0 157.1L426.5 155.8L426.0 152.6L425.5 150.8L425.0 146.2L424.5 139.1L424.0 136.4L423.5 122.1L423.0 103.0L422.5 80.6L422.0 54.8L421.5 27.0L421.0 72.3L420.5 109.7L420.0 136.4L419.5 146.4L419.0 151.9L418.5 153.4L418.0 155.7L417.5 157.6L417.0 158.7L416.5 160.1L416.0 161.2L415.5 162.9L415.0 162.4L414.5 164.6L414.0 164.9L413.5 165.2L413.0 167.8L412.5 168.0L412.0 167.9L411.5 168.2L411.0 164.8L410.5 164.9L410.0 163.7L409.5 161.8L409.0 162.4L408.5 160.7L408.0 157.9L407.5 156.7L407.0 154.7L406.5 152.4L406.0 150.7L405.5 147.2L405.0 137.7L404.5 135.3L404.0 120.9L403.5 101.3L403.0 78.1L402.5 52.5L402.0 24.0L401.5 69.6L401.0 107.5L400.5 134.4L400.0 145.3L399.5 151.7L399.0 155.9L398.5 157.4L398.0 159.7L397.5 161.3L397.0 162.5L396.5 163.5L396.0 164.2L395.5 165.2L395.0 165.5L394.5 166.1L394.0 166.9L393.5 168.0L393.0 167.7L392.5 167.7L392.0 167.0L391.5 166.6L391.0 166.5L390.5 165.8L390.0 165.2L389.5 164.5L389.0 164.4L388.5 164.2L388.0 163.2L387.5 161.2L387.0 159.3L386.5 158.7L386.0 154.2L385.5 151.4L385.0 147.1L384.5 137.4L384.0 135.4L383.5 120.2L383.0 101.1L382.5 78.6L382.0 52.7L381.5 24.0L381.0 69.1L380.5 106.9L380.0 135.3L379.5 145.7L379.0 152.2L378.5 156.6L378.0 158.2L377.5 158.6L377.0 161.3L376.5 163.4L376.0 163.6L375.5 164.7L375.0 163.9L374.5 164.7L374.0 165.4L373.5 167.7L373.0 168.0L372.5 169.1L372.0 168.5L371.5 169.0L371.0 169.7L370.5 168.0L370.0 166.8L369.5 166.1L369.0 165.9L368.5 164.4L368.0 163.3L367.5 163.3L367.0 161.9L366.5 160.6L366.0 161.7L365.5 160.4L365.0 158.8L364.5 156.0L364.0 154.2L363.5 150.4L363.0 143.3L362.5 138.1L362.0 136.4L361.5 120.3L361.0 99.2L360.5 74.2L360.0 45.8L359.5 15.0L359.0 67.6L358.5 108.0L358.0 133.7L357.5 147.9L357.0 154.1L356.5 156.5L356.0 157.5L355.5 159.5L355.0 161.9L354.5 163.3L354.0 164.9L353.5 165.1L353.0 166.5L352.5 167.9L352.0 167.2L351.5 168.3L351.0 169.2L350.5 167.7L350.0 167.4L349.5 166.0L349.0 166.0L348.5 163.7L348.0 162.2L347.5 160.3L347.0 158.5L346.5 157.6L346.0 155.8L345.5 153.2L345.0 150.4L344.5 146.7L344.0 136.2L343.5 133.9L343.0 119.5L342.5 101.0L342.0 77.6L341.5 52.5L341.0 25.0L340.5 70.7L340.0 107.6L339.5 134.9L339.0 148.3L338.5 154.4L338.0 157.1L337.5 158.7L337.0 160.1L336.5 161.3L336.0 163.9L335.5 164.8L335.0 165.0L334.5 165.9L334.0 167.3L333.5 167.5L333.0 166.7L332.5 168.0L332.0 168.6L331.5 168.8L331.0 168.0L330.5 168.4L330.0 167.9L329.5 166.1L329.0 164.9L328.5 164.6L328.0 164.4L327.5 161.2L327.0 162.0L326.5 159.4L326.0 157.6L325.5 155.4L325.0 153.5L324.5 148.2L324.0 138.8L323.5 135.5L323.0 119.9L322.5 98.9L322.0 75.3L321.5 48.2L321.0 17.2L320.5 65.9L320.0 107.0L319.5 136.0L319.0 144.7L318.5 152.3L318.0 155.5L317.5 156.9L317.0 158.1L316.5 160.9L316.0 161.7L315.5 161.7L315.0 163.8L314.5 164.7L314.0 164.6L313.5 165.7L313.0 166.8L312.5 166.7L312.0 167.4L311.5 167.8L311.0 167.9L310.5 167.7L310.0 166.9L309.5 165.4L309.0 165.8L308.5 165.4L308.0 163.8L307.5 164.1L307.0 162.9L306.5 162.5L306.0 161.8L305.5 160.1L305.0 159.4L304.5 157.6L304.0 154.8L303.5 151.8L303.0 147.9L302.5 140.4L302.0 137.4L301.5 121.2L301.0 101.2L300.5 77.3L300.0 50.1L299.5 19.6L299.0 68.4L298.5 107.6L298.0 136.8L297.5 148.6L297.0 153.8L296.5 156.8L296.0 158.1L295.5 159.5L295.0 161.0L294.5 162.3L294.0 162.9L293.5 164.6L293.0 165.2L292.5 164.7L292.0 166.4L291.5 166.6L291.0 167.3L290.5 166.0L290.0 167.6L289.5 166.6L289.0 166.6L288.5 165.3L288.0 164.8L287.5 162.6L287.0 162.4L286.5 162.8L286.0 161.5L285.5 158.7L285.0 158.0L284.5 157.6L284.0 154.9L283.5 152.2L283.0 150.2L282.5 145.6L282.0 140.0L281.5 137.4L281.0 121.5L280.5 101.5L280.0 78.1L279.5 52.4L279.0 22.7L278.5 74.0L278.0 112.5L277.5 138.1L277.0 151.1L276.5 155.6L276.0 157.4L275.5 159.7L275.0 160.9L274.5 163.3L274.0 163.2L273.5 164.1L273.0 165.0L272.5 165.5L272.0 165.1L271.5 165.4L271.0 166.5L270.5 166.8L270.0 166.6L269.5 165.5L269.0 164.7L268.5 164.2L268.0 164.4L267.5 162.9L267.0 161.5L266.5 160.3L266.0 158.3L265.5 155.5L265.0 152.6L264.5 148.9L264.0 139.2L263.5 136.7L263.0 120.8L262.5 101.3L262.0 78.3L261.5 52.1L261.0 22.7L260.5 69.1L260.0 106.6L259.5 133.8L259.0 143.5L258.5 150.0L258.0 152.9L257.5 154.8L257.0 155.2L256.5 157.0L256.0 157.6L255.5 160.2L255.0 160.4L254.5 160.4L254.0 162.6L253.5 162.9L253.0 163.4L252.5 162.9L252.0 164.9L251.5 164.0L251.0 164.9L250.5 165.4L250.0 162.6L249.5 162.2L249.0 160.8L248.5 161.7L248.0 161.0L247.5 160.6L247.0 157.6L246.5 158.0L246.0 157.9L245.5 156.4L245.0 155.7L244.5 153.8L244.0 150.5L243.5 149.3L243.0 143.3L242.5 135.3L242.0 132.7L241.5 118.3L241.0 98.5L240.5 75.4L240.0 49.5L239.5 20.3L239.0 67.7L238.5 106.9L238.0 134.9L237.5 143.3L237.0 149.3L236.5 151.9L236.0 154.1L235.5 156.8L235.0 158.5L234.5 159.6L234.0 160.2L233.5 162.4L233.0 162.7L232.5 163.4L232.0 164.7L231.5 167.1L231.0 166.7L230.5 166.2L230.0 167.3L229.5 168.5L229.0 168.3L228.5 166.2L228.0 165.4L227.5 164.3L227.0 164.6L226.5 163.9L226.0 162.8L225.5 160.4L225.0 158.9L224.5 158.6L224.0 158.2L223.5 155.4L223.0 155.7L222.5 152.4L222.0 150.2L221.5 145.2L221.0 139.2L220.5 136.6L220.0 120.6L219.5 99.3L219.0 74.9L218.5 47.2L218.0 16.5L217.5 65.7L217.0 106.8L216.5 136.1L216.0 146.6L215.5 151.7L215.0 154.4L214.5 156.6L214.0 158.5L213.5 158.8L213.0 159.3L212.5 160.4L212.0 160.5L211.5 160.6L211.0 162.6L210.5 161.7L210.0 161.3L209.5 163.2L209.0 163.8L208.5 163.7L208.0 163.5L207.5 164.3L207.0 163.8L206.5 162.3L206.0 162.2L205.5 162.5L205.0 161.6L204.5 160.4L204.0 158.0L203.5 157.1L203.0 155.5L202.5 154.1L202.0 152.6L201.5 150.3L201.0 146.4L200.5 142.5L200.0 133.5L199.5 131.5L199.0 116.5L198.5 97.0L198.0 75.0L197.5 49.8L197.0 21.0L196.5 66.6L196.0 104.5L195.5 132.5L195.0 144.8L194.5 150.7L194.0 155.2L193.5 156.7L193.0 157.7L192.5 161.3L192.0 161.9L191.5 162.0L191.0 163.5L190.5 164.9L190.0 167.3L189.5 168.6L189.0 169.2L188.5 169.6L188.0 170.1L187.5 170.0L187.0 169.3L186.5 168.8L186.0 167.6L185.5 165.6L185.0 164.5L184.5 164.3L184.0 163.9L183.5 162.7L183.0 160.7L182.5 159.6L182.0 156.2L181.5 154.4L181.0 150.4L180.5 146.1L180.0 137.6L179.5 134.8L179.0 119.9L178.5 99.7L178.0 76.2L177.5 49.8L177.0 20.3L176.5 66.2L176.0 104.2L175.5 131.7L175.0 145.3L174.5 150.9L174.0 155.1L173.5 156.1L173.0 157.1L172.5 158.6L172.0 160.7L171.5 161.0L171.0 161.9L170.5 162.9L170.0 163.2L169.5 163.4L169.0 164.6L168.5 164.2L168.0 165.7L167.5 164.9L167.0 163.8L166.5 163.1L166.0 162.3L165.5 162.6L165.0 160.8L164.5 161.2L164.0 160.1L163.5 157.6L163.0 158.1L162.5 155.0L162.0 153.9L161.5 152.5L161.0 149.6L160.5 147.7L160.0 143.2L159.5 136.6L159.0 134.0L158.5 120.1L158.0 101.0L157.5 78.9L157.0 53.4L156.5 25.8L156.0 70.8L155.5 108.6L155.0 135.4L154.5 146.7L154.0 152.6L153.5 154.9L153.0 157.0L152.5 158.7L152.0 159.8L151.5 160.9L151.0 163.4L150.5 162.4L150.0 164.6L149.5 164.1L149.0 164.5L148.5 165.4L148.0 165.9L147.5 164.2L147.0 164.7L146.5 165.2L146.0 163.5L145.5 163.6L145.0 162.4L144.5 160.8L144.0 161.4L143.5 160.0L143.0 159.9L142.5 157.7L142.0 156.0L141.5 154.8L141.0 151.7L140.5 149.9L140.0 146.0L139.5 138.0L139.0 136.0L138.5 121.0L138.0 101.6L137.5 79.5L137.0 54.7L136.5 25.8L136.0 71.4L135.5 108.1L135.0 135.2L134.5 144.5L134.0 149.5L133.5 150.9L133.0 153.0L132.5 154.7L132.0 155.7L131.5 157.8L131.0 157.8L130.5 158.4L130.0 158.5L129.5 159.6L129.0 160.7L128.5 160.9L128.0 161.9L127.5 162.8L127.0 161.6L126.5 162.4L126.0 161.2L125.5 159.9L125.0 159.7L124.5 159.0L124.0 157.9L123.5 155.2L123.0 155.2L122.5 154.4L122.0 153.9L121.5 152.5L121.0 150.5L120.5 148.6L120.0 144.5L119.5 136.7L119.0 134.0L118.5 119.1L118.0 100.3L117.5 77.1L117.0 51.4L116.5 22.7L116.0 67.7L115.5 104.7L115.0 132.3L114.5 145.3L114.0 150.6L113.5 154.0L113.0 156.6L112.5 157.5L112.0 159.0L111.5 159.5L111.0 160.2L110.5 161.4L110.0 161.9L109.5 163.3L109.0 163.2L108.5 164.3L108.0 164.7L107.5 163.1L107.0 163.8L106.5 161.1L106.0 160.7L105.5 160.9L105.0 160.0L104.5 157.7L104.0 156.7L103.5 154.7L103.0 152.9L102.5 149.3L102.0 146.5L101.5 135.2L101.0 133.3L100.5 118.4L100.0 98.5L99.5 76.3L99.0 51.1L98.5 23.5L98.0 67.7L97.5 107.5L97.0 132.1L96.5 147.0L96.0 151.6L95.5 154.2L95.0 156.5L94.5 157.0L94.0 158.4L93.5 158.8L93.0 161.2L92.5 159.9L92.0 161.0L91.5 161.8L91.0 162.6L90.5 164.8L90.0 166.0L89.5 166.4L89.0 164.3L88.5 162.4L88.0 162.9L87.5 161.1L87.0 161.6L86.5 160.9L86.0 159.2L85.5 157.6L85.0 155.9L84.5 154.6L84.0 152.5L83.5 149.5L83.0 143.7L82.5 135.0L82.0 132.5L81.5 117.9L81.0 97.9L80.5 75.3L80.0 49.8L79.5 21.0L79.0 67.4L78.5 105.5L78.0 133.2L77.5 144.4L77.0 150.4L76.5 152.4L76.0 154.9L75.5 155.6L75.0 158.4L74.5 158.6L74.0 159.9Z" fill="url(#gA)" stroke="url(#gA)" stroke-width="2.7" stroke-linejoin="round"/>
<line x1="74" y1="194.5" x2="1036" y2="194.5" stroke="#000" stroke-width="4.5"/>
<line x1="176" y1="220" x2="572" y2="220" stroke="#000" stroke-width="4.5"/>
<text transform="translate(12.6 69) scale(1.12 1)" font-size="65" font-weight="bold" fill="#000">A</text>
<text x="215" y="267.5" font-size="43.7" text-anchor="start" fill="#000" font-weight="bold">JYGCT 5 mg/ml</text>
<text x="678.5" y="247" font-size="43.8" text-anchor="start" fill="#000" font-weight="bold">SQ-22536&#160;&#160;10 µM</text>
<line x1="1058.5" y1="26" x2="1103" y2="26" stroke="#000" stroke-width="5"/>
<line x1="1081.3" y1="26" x2="1081.3" y2="170.4" stroke="#000" stroke-width="5.2"/>
<line x1="1058.5" y1="170.4" x2="1103" y2="170.4" stroke="#000" stroke-width="5"/>
<text x="1110" y="40.5" font-size="42.8" text-anchor="start" fill="#000" font-weight="bold">-33 mV</text>
<text x="1110" y="187" font-size="42.8" text-anchor="start" fill="#000" font-weight="bold">-56 mV</text>
<line x1="77" y1="460.8" x2="1067" y2="460.8" stroke="#000" stroke-width="3.2" stroke-dasharray="14 10.4"/>
<path d="M76.0 447.8L76.5 446.8L77.0 445.0L77.5 443.2L78.0 427.4L78.5 399.8L79.0 367.7L79.5 330.5L80.0 351.1L80.5 369.5L81.0 387.3L81.5 403.6L82.0 418.4L82.5 432.0L83.0 442.1L83.5 443.9L84.0 445.6L84.5 447.1L85.0 446.7L85.5 449.0L86.0 447.9L86.5 447.3L87.0 447.1L87.5 449.0L88.0 448.6L88.5 449.1L89.0 448.8L89.5 449.0L90.0 449.8L90.5 450.4L91.0 448.7L91.5 448.6L92.0 449.8L92.5 448.8L93.0 448.0L93.5 446.2L94.0 444.4L94.5 427.9L95.0 399.8L95.5 367.6L96.0 330.5L96.5 351.1L97.0 370.1L97.5 387.7L98.0 404.9L98.5 420.3L99.0 433.5L99.5 443.4L100.0 443.1L100.5 444.2L101.0 446.1L101.5 447.0L102.0 447.4L102.5 447.9L103.0 446.8L103.5 446.8L104.0 446.7L104.5 447.1L105.0 447.7L105.5 447.5L106.0 449.0L106.5 449.5L107.0 447.3L107.5 448.9L108.0 448.2L108.5 448.2L109.0 446.8L109.5 445.7L110.0 429.3L110.5 402.1L111.0 369.3L111.5 331.0L112.0 351.7L112.5 370.9L113.0 388.6L113.5 404.8L114.0 420.4L114.5 434.1L115.0 445.6L115.5 446.7L116.0 446.9L116.5 447.4L117.0 448.8L117.5 449.2L118.0 450.7L118.5 451.5L119.0 451.8L119.5 451.6L120.0 451.4L120.5 452.8L121.0 452.0L121.5 452.8L122.0 451.1L122.5 452.1L123.0 449.3L123.5 450.4L124.0 449.1L124.5 448.0L125.0 447.6L125.5 445.3L126.0 428.9L126.5 402.6L127.0 369.8L127.5 333.0L128.0 352.9L128.5 370.7L129.0 387.5L129.5 403.5L130.0 417.4L130.5 431.2L131.0 441.1L131.5 443.7L132.0 445.7L132.5 446.3L133.0 447.9L133.5 447.5L134.0 448.8L134.5 448.5L135.0 449.3L135.5 449.0L136.0 449.2L136.5 449.0L137.0 449.2L137.5 449.4L138.0 449.5L138.5 450.3L139.0 449.7L139.5 447.5L140.0 430.5L140.5 403.2L141.0 369.9L141.5 332.0L142.0 352.6L142.5 371.4L143.0 389.2L143.5 406.4L144.0 421.4L144.5 433.9L145.0 445.5L145.5 447.5L146.0 447.6L146.5 448.6L147.0 447.0L147.5 449.0L148.0 448.3L148.5 449.7L149.0 448.5L149.5 448.2L150.0 448.9L150.5 450.5L151.0 450.8L151.5 451.5L152.0 452.0L152.5 450.6L153.0 450.1L153.5 450.1L154.0 448.6L154.5 447.1L155.0 445.5L155.5 429.2L156.0 402.1L156.5 368.8L157.0 332.0L157.5 351.7L158.0 370.1L158.5 387.7L159.0 403.9L159.5 419.8L160.0 432.6L160.5 441.0L161.0 445.0L161.5 444.1L162.0 446.8L162.5 446.3L163.0 447.2L163.5 447.5L164.0 447.3L164.5 448.7L165.0 447.6L165.5 448.8L166.0 448.9L166.5 448.9L167.0 446.0L167.5 447.4L168.0 446.4L168.5 445.0L169.0 443.9L169.5 429.2L170.0 402.1L170.5 369.9L171.0 334.0L171.5 354.0L172.0 372.1L172.5 389.5L173.0 406.1L173.5 420.7L174.0 433.6L174.5 442.1L175.0 443.7L175.5 446.2L176.0 446.3L176.5 446.3L177.0 447.6L177.5 449.6L178.0 450.1L178.5 449.8L179.0 450.2L179.5 449.7L180.0 451.9L180.5 451.5L181.0 453.3L181.5 452.2L182.0 451.8L182.5 452.0L183.0 450.8L183.5 449.8L184.0 447.5L184.5 431.6L185.0 405.9L185.5 375.4L186.0 340.0L186.5 359.0L187.0 376.2L187.5 392.3L188.0 406.8L188.5 420.7L189.0 433.0L189.5 440.7L190.0 442.9L190.5 444.8L191.0 445.2L191.5 445.9L192.0 446.3L192.5 447.6L193.0 446.5L193.5 446.3L194.0 447.2L194.5 446.5L195.0 447.5L195.5 446.5L196.0 446.0L196.5 446.6L197.0 446.3L197.5 447.0L198.0 446.0L198.5 444.5L199.0 443.2L199.5 428.7L200.0 402.9L200.5 372.6L201.0 338.0L201.5 356.9L202.0 375.2L202.5 392.1L203.0 407.8L203.5 421.9L204.0 434.3L204.5 443.3L205.0 446.1L205.5 446.2L206.0 446.1L206.5 447.0L207.0 448.8L207.5 448.9L208.0 451.0L208.5 449.0L209.0 449.5L209.5 448.9L210.0 448.1L210.5 448.7L211.0 448.1L211.5 446.5L212.0 431.8L212.5 408.1L213.0 379.9L213.5 348.0L214.0 365.2L214.5 381.0L215.0 395.9L215.5 409.7L216.0 422.4L216.5 433.7L217.0 442.7L217.5 443.0L218.0 444.0L218.5 444.8L219.0 445.0L219.5 447.0L220.0 448.0L220.5 448.3L221.0 448.6L221.5 449.2L222.0 448.8L222.5 449.7L223.0 447.5L223.5 450.0L224.0 448.6L224.5 449.2L225.0 450.2L225.5 449.4L226.0 449.1L226.5 447.7L227.0 446.8L227.5 444.7L228.0 430.8L228.5 406.4L229.0 377.3L229.5 344.5L230.0 362.3L230.5 378.7L231.0 394.2L231.5 409.1L232.0 422.4L232.5 434.0L233.0 441.9L233.5 443.3L234.0 445.8L234.5 446.8L235.0 447.0L235.5 447.5L236.0 447.9L236.5 448.0L237.0 448.6L237.5 449.4L238.0 449.1L238.5 449.2L239.0 449.7L239.5 447.0L240.0 447.5L240.5 445.9L241.0 444.8L241.5 429.5L242.0 404.8L242.5 374.9L243.0 340.0L243.5 358.9L244.0 376.9L244.5 393.6L245.0 409.1L245.5 423.3L246.0 435.5L246.5 444.6L247.0 445.9L247.5 446.3L248.0 447.9L248.5 447.2L249.0 449.1L249.5 447.8L250.0 448.0L250.0 461.0L249.5 460.8L249.0 458.8L248.5 458.7L248.0 456.4L247.5 455.2L247.0 454.4L246.5 452.1L246.0 451.8L245.5 450.8L245.0 449.0L244.5 443.0L244.0 416.7L243.5 383.0L243.0 344.0L242.5 413.3L242.0 447.2L241.5 449.1L241.0 450.6L240.5 450.6L240.0 451.2L239.5 453.9L239.0 456.9L238.5 457.6L238.0 460.0L237.5 460.2L237.0 460.9L236.5 461.2L236.0 461.9L235.5 460.8L235.0 459.8L234.5 457.4L234.0 456.4L233.5 453.4L233.0 450.7L232.5 449.4L232.0 448.4L231.5 446.8L231.0 440.8L230.5 416.4L230.0 385.3L229.5 348.5L229.0 413.7L228.5 446.5L228.0 449.3L227.5 450.2L227.0 451.2L226.5 451.3L226.0 452.3L225.5 455.1L225.0 457.1L224.5 456.8L224.0 458.1L223.5 459.2L223.0 457.9L222.5 460.4L222.0 460.4L221.5 460.6L221.0 461.0L220.5 461.1L220.0 460.0L219.5 457.4L219.0 457.2L218.5 456.1L218.0 454.0L217.5 450.8L217.0 449.6L216.5 449.0L216.0 448.3L215.5 447.2L215.0 442.3L214.5 418.5L214.0 388.1L213.5 352.0L213.0 416.1L212.5 448.0L212.0 450.2L211.5 452.0L211.0 452.5L210.5 452.4L210.0 454.5L209.5 457.3L209.0 457.7L208.5 459.5L208.0 460.8L207.5 462.5L207.0 463.5L206.5 463.1L206.0 460.6L205.5 458.0L205.0 456.9L204.5 452.7L204.0 451.0L203.5 449.8L203.0 448.3L202.5 442.4L202.0 415.7L201.5 381.5L201.0 342.0L200.5 411.7L200.0 446.1L199.5 448.6L199.0 449.1L198.5 449.2L198.0 449.8L197.5 451.5L197.0 452.6L196.5 454.2L196.0 454.8L195.5 457.2L195.0 456.4L194.5 457.5L194.0 458.6L193.5 459.2L193.0 458.0L192.5 456.0L192.0 455.5L191.5 454.7L191.0 454.2L190.5 453.7L190.0 450.8L189.5 449.5L189.0 449.5L188.5 448.5L188.0 447.1L187.5 442.3L187.0 416.4L186.5 383.4L186.0 344.0L185.5 414.3L185.0 448.8L184.5 451.3L184.0 453.3L183.5 454.5L183.0 454.5L182.5 455.0L182.0 456.4L181.5 457.6L181.0 459.7L180.5 459.7L180.0 459.6L179.5 461.7L179.0 462.8L178.5 462.8L178.0 464.1L177.5 464.3L177.0 462.0L176.5 460.4L176.0 459.8L175.5 457.2L175.0 454.0L174.5 451.3L174.0 450.6L173.5 449.5L173.0 447.8L172.5 441.1L172.0 413.7L171.5 379.1L171.0 338.0L170.5 410.1L170.0 446.4L169.5 449.5L169.0 449.9L168.5 449.8L168.0 450.3L167.5 453.3L167.0 454.5L166.5 458.1L166.0 459.5L165.5 459.0L165.0 461.8L164.5 461.5L164.0 462.6L163.5 464.1L163.0 462.3L162.5 460.6L162.0 458.7L161.5 456.2L161.0 454.2L160.5 451.8L160.0 450.1L159.5 449.3L159.0 446.8L158.5 440.7L158.0 412.8L157.5 377.5L157.0 336.0L156.5 410.1L156.0 447.7L155.5 450.1L155.0 451.6L154.5 452.0L154.0 452.6L153.5 454.5L153.0 455.6L152.5 456.9L152.0 458.0L151.5 459.5L151.0 460.3L150.5 460.9L150.0 461.5L149.5 462.3L149.0 462.0L148.5 460.8L148.0 460.4L147.5 458.3L147.0 458.2L146.5 457.7L146.0 455.0L145.5 454.4L145.0 453.3L144.5 451.6L144.0 451.2L143.5 449.7L143.0 442.8L142.5 414.6L142.0 378.6L141.5 336.0L141.0 411.6L140.5 449.3L140.0 451.7L139.5 453.6L139.0 454.7L138.5 455.0L138.0 456.1L137.5 457.3L137.0 458.5L136.5 459.1L136.0 461.6L135.5 462.4L135.0 463.7L134.5 463.2L134.0 462.3L133.5 461.9L133.0 460.7L132.5 460.1L132.0 456.4L131.5 453.9L131.0 450.9L130.5 448.5L130.0 446.6L129.5 445.8L129.0 440.0L128.5 412.9L128.0 378.4L127.5 337.0L127.0 410.6L126.5 447.6L126.0 449.6L125.5 451.3L125.0 452.5L124.5 451.9L124.0 452.3L123.5 455.6L123.0 457.8L122.5 458.9L122.0 459.4L121.5 461.5L121.0 461.8L120.5 462.0L120.0 462.7L119.5 464.1L119.0 465.1L118.5 462.7L118.0 461.2L117.5 460.3L117.0 460.2L116.5 458.8L116.0 457.5L115.5 455.8L115.0 453.4L114.5 451.8L114.0 450.3L113.5 448.2L113.0 442.2L112.5 414.1L112.0 377.8L111.5 335.0L111.0 411.1L110.5 448.3L110.0 450.5L109.5 451.9L109.0 451.8L108.5 452.2L108.0 453.6L107.5 455.9L107.0 457.0L106.5 459.1L106.0 460.3L105.5 461.0L105.0 462.9L104.5 463.6L104.0 463.4L103.5 464.0L103.0 462.7L102.5 461.4L102.0 459.2L101.5 457.6L101.0 456.0L100.5 455.2L100.0 452.0L99.5 451.1L99.0 450.9L98.5 449.8L98.0 447.7L97.5 440.7L97.0 412.8L96.5 376.9L96.0 334.5L95.5 408.9L95.0 445.3L94.5 448.8L94.0 450.5L93.5 451.2L93.0 451.9L92.5 452.0L92.0 452.8L91.5 454.2L91.0 456.3L90.5 457.5L90.0 456.8L89.5 458.1L89.0 459.2L88.5 460.6L88.0 460.0L87.5 460.8L87.0 461.7L86.5 460.7L86.0 458.5L85.5 458.8L85.0 457.8L84.5 455.9L84.0 452.5L83.5 450.6L83.0 449.8L82.5 449.5L82.0 448.0L81.5 446.6L81.0 440.5L80.5 412.3L80.0 377.0L79.5 334.5L79.0 409.0L78.5 445.5L78.0 448.4L77.5 449.3L77.0 450.0L76.5 450.8L76.0 452.4Z" fill="url(#gB1)" stroke="url(#gB1)" stroke-width="1.9" stroke-linejoin="round"/>
<path d="M249.0 448.0L249.5 448.0L250.0 445.9L250.5 444.7L251.0 441.3L251.5 437.8L252.0 431.3L252.5 426.4L253.0 415.2L253.5 404.2L254.0 395.9L254.5 386.1L255.0 378.1L255.5 370.3L256.0 366.3L256.5 361.9L257.0 360.3L257.5 359.2L258.0 362.1L258.5 366.9L259.0 373.3L259.5 379.9L260.0 387.8L260.5 396.7L261.0 404.7L261.5 408.4L262.0 416.5L262.5 424.4L263.0 430.0L263.5 436.5L264.0 442.3L264.5 447.2L265.0 448.3L265.5 449.8L266.0 448.5L266.5 443.6L267.0 433.7L267.5 423.0L268.0 412.1L268.5 403.9L269.0 390.3L269.5 377.8L270.0 369.4L270.5 363.8L271.0 362.4L271.5 363.2L272.0 364.5L272.5 367.8L273.0 372.4L273.5 377.2L274.0 381.2L274.5 386.8L275.0 394.9L275.5 403.2L276.0 407.1L276.5 410.3L277.0 414.5L277.5 421.8L278.0 427.6L278.5 432.5L279.0 434.7L279.5 435.7L280.0 436.9L280.5 437.7L281.0 435.9L281.5 431.2L282.0 424.2L282.5 417.7L283.0 411.2L283.5 405.4L284.0 398.5L284.5 390.2L285.0 384.6L285.5 379.5L286.0 376.5L286.5 374.6L287.0 375.8L287.5 377.0L288.0 379.6L288.5 383.6L289.0 388.8L289.5 396.3L290.0 402.3L290.5 405.5L291.0 411.2L291.5 418.8L292.0 424.8L292.5 431.2L293.0 435.5L293.5 441.1L294.0 443.3L294.5 444.9L295.0 443.9L295.5 442.9L296.0 438.1L296.5 430.9L297.0 419.8L297.5 408.4L298.0 402.0L298.5 391.2L299.0 379.5L299.5 371.2L300.0 364.9L300.5 364.7L301.0 365.2L301.5 365.9L302.0 367.6L302.5 370.9L303.0 375.9L303.5 382.0L304.0 387.4L304.5 394.5L305.0 400.3L305.5 404.2L306.0 405.5L306.5 410.5L307.0 416.4L307.5 420.5L308.0 425.4L308.5 429.7L309.0 433.9L309.5 438.1L310.0 440.1L310.5 440.2L311.0 438.7L311.5 434.9L312.0 428.6L312.5 420.9L313.0 410.6L313.5 400.1L314.0 392.7L314.5 383.6L315.0 373.8L315.5 368.1L316.0 362.8L316.5 363.0L317.0 362.7L317.5 365.3L318.0 367.1L318.5 371.9L319.0 377.8L319.5 386.4L320.0 394.4L320.5 399.9L321.0 404.1L321.5 409.3L322.0 413.7L322.5 418.2L323.0 423.0L323.5 425.5L324.0 425.0L324.5 423.6L325.0 420.4L325.5 416.8L326.0 412.5L326.5 408.1L327.0 402.9L327.5 398.1L328.0 393.1L328.5 391.6L329.0 386.3L329.5 380.7L330.0 374.1L330.5 369.5L331.0 364.6L331.5 363.6L332.0 361.4L332.5 360.6L333.0 360.7L333.5 363.0L334.0 366.1L334.5 368.8L335.0 370.5L335.5 373.9L336.0 377.4L336.5 383.4L337.0 387.4L337.5 388.6L338.0 388.6L338.5 393.1L339.0 398.6L339.5 402.8L340.0 405.9L340.5 406.9L341.0 407.6L341.5 408.9L342.0 408.9L342.5 407.5L343.0 405.4L343.5 402.3L344.0 399.6L344.5 395.3L345.0 392.2L345.5 386.6L346.0 387.1L346.5 381.1L347.0 378.1L347.5 374.0L348.0 371.6L348.5 368.6L349.0 366.9L349.5 367.2L350.0 367.2L350.5 368.0L351.0 367.8L351.5 370.2L352.0 372.1L352.5 377.2L353.0 380.9L353.5 387.0L354.0 388.1L354.5 388.9L355.0 392.4L355.5 397.7L356.0 401.7L356.5 403.7L357.0 406.6L357.5 407.0L358.0 409.0L358.5 410.2L359.0 411.6L359.5 412.3L360.0 410.3L360.5 406.9L361.0 401.4L361.5 395.1L362.0 388.7L362.5 386.2L363.0 385.4L363.5 380.0L364.0 374.7L364.5 370.7L365.0 369.1L365.5 367.0L366.0 366.7L366.5 366.5L367.0 367.1L367.5 367.6L368.0 369.4L368.5 372.1L369.0 375.0L369.5 377.6L370.0 381.7L370.5 385.6L371.0 387.8L371.5 388.3L372.0 390.7L372.5 394.3L373.0 397.9L373.5 401.9L374.0 403.3L374.5 405.1L375.0 405.7L375.5 407.1L376.0 408.1L376.5 407.3L377.0 405.0L377.5 401.4L378.0 398.2L378.5 393.0L379.0 387.5L379.5 385.2L380.0 379.2L380.5 375.4L381.0 370.3L381.5 364.9L382.0 360.7L382.5 357.5L383.0 357.6L383.5 356.9L384.0 360.2L384.5 363.1L385.0 369.8L385.5 374.4L386.0 382.5L386.5 389.2L387.0 391.2L387.5 396.8L388.0 401.8L388.5 407.7L389.0 411.6L389.5 415.0L390.0 415.6L390.5 417.1L391.0 416.4L391.5 417.1L392.0 414.8L392.5 411.6L393.0 406.0L393.5 400.6L394.0 395.0L394.5 388.7L395.0 386.6L395.5 383.8L396.0 380.0L396.5 375.5L397.0 372.9L397.5 367.7L398.0 364.6L398.5 362.2L399.0 363.4L399.5 362.7L400.0 363.9L400.5 365.0L401.0 367.5L401.5 370.7L402.0 374.8L402.5 380.5L403.0 385.7L403.5 389.0L404.0 389.4L404.5 391.8L405.0 398.3L405.5 401.2L406.0 405.2L406.5 407.8L407.0 412.0L407.5 414.8L408.0 417.2L408.5 416.5L409.0 415.7L409.5 414.5L410.0 412.7L410.5 410.6L411.0 405.2L411.5 401.0L412.0 393.2L412.5 388.2L413.0 386.1L413.5 380.6L414.0 373.4L414.5 368.5L415.0 364.4L415.5 361.3L416.0 360.3L416.5 360.4L417.0 361.2L417.5 361.9L418.0 361.7L418.5 362.6L419.0 363.7L419.5 366.8L420.0 371.9L420.5 376.2L421.0 381.1L421.5 384.9L422.0 388.7L422.5 389.2L423.0 393.6L423.5 398.6L424.0 402.3L424.5 405.5L425.0 409.9L425.5 413.9L426.0 417.8L426.5 417.9L427.0 419.4L427.5 419.8L428.0 419.6L428.5 416.1L429.0 413.0L429.5 407.9L430.0 403.6L430.5 398.2L431.0 394.8L431.5 394.2L432.0 387.0L432.5 379.3L433.0 373.0L433.5 368.7L434.0 367.2L434.5 366.6L435.0 368.1L435.5 368.3L436.0 369.2L436.5 369.6L437.0 374.1L437.5 378.3L438.0 383.2L438.5 387.3L439.0 392.5L439.5 396.9L440.0 398.0L440.5 402.9L441.0 406.5L441.5 410.3L442.0 412.9L442.5 415.3L443.0 418.2L443.5 420.4L444.0 422.0L444.5 422.7L445.0 420.5L445.5 419.1L446.0 415.3L446.5 413.7L447.0 408.5L447.5 405.0L448.0 400.3L448.5 394.8L449.0 395.8L449.5 389.4L450.0 385.7L450.5 379.8L451.0 377.1L451.5 373.0L452.0 371.2L452.5 369.6L453.0 369.3L453.5 369.4L454.0 369.1L454.5 370.9L455.0 372.7L455.5 377.5L456.0 380.6L456.5 386.6L457.0 390.0L457.5 397.5L458.0 395.9L458.5 402.7L459.0 406.0L459.5 412.0L460.0 414.6L460.5 417.5L461.0 419.6L461.5 421.4L462.0 423.2L462.5 422.4L463.0 420.3L463.5 417.0L464.0 414.9L464.5 414.2L465.0 411.6L465.5 408.9L466.0 403.7L466.5 401.5L467.0 397.0L467.5 393.8L468.0 393.2L468.5 389.9L469.0 386.2L469.5 382.7L470.0 378.9L470.5 374.6L471.0 371.8L471.5 369.4L472.0 367.7L472.5 365.5L473.0 364.4L473.5 365.7L474.0 365.9L474.5 368.1L475.0 368.1L475.5 371.8L476.0 376.1L476.5 382.1L477.0 387.0L477.5 390.8L478.0 389.5L478.5 394.8L479.0 399.2L479.5 403.5L480.0 406.7L480.5 410.0L481.0 412.1L481.5 411.8L482.0 413.1L482.5 412.0L483.0 411.4L483.5 408.5L484.0 407.2L484.5 404.5L485.0 402.6L485.5 398.7L486.0 395.3L486.5 390.7L487.0 389.6L487.5 383.6L488.0 378.4L488.5 374.2L489.0 370.9L489.5 368.9L490.0 367.2L490.5 364.9L491.0 363.9L491.5 364.8L492.0 366.2L492.5 366.3L493.0 367.8L493.5 370.8L494.0 375.7L494.5 379.3L495.0 384.4L495.5 387.1L496.0 392.1L496.5 393.0L497.0 397.1L497.5 400.7L498.0 404.9L498.5 407.5L499.0 412.2L499.5 413.9L500.0 415.9L500.5 418.0L501.0 420.4L501.5 420.8L502.0 419.0L502.5 417.3L503.0 415.7L503.5 413.3L504.0 412.0L504.5 409.0L505.0 407.0L505.5 402.8L506.0 400.1L506.5 396.5L507.0 395.1L507.5 390.5L508.0 387.8L508.5 384.1L509.0 379.3L509.5 374.7L510.0 371.1L510.5 368.7L511.0 367.1L511.5 365.6L512.0 364.8L512.5 364.1L513.0 364.5L513.5 365.9L514.0 370.4L514.5 377.2L515.0 385.2L515.5 391.4L516.0 397.0L516.5 398.5L517.0 405.2L517.5 411.2L518.0 418.3L518.5 423.8L519.0 427.9L519.5 429.3L520.0 430.5L520.5 429.9L521.0 428.1L521.5 424.7L522.0 422.8L522.5 420.2L523.0 416.0L523.5 409.4L524.0 403.3L524.5 396.3L525.0 393.9L525.5 390.3L526.0 384.9L526.5 380.4L527.0 375.9L527.5 372.3L528.0 368.7L528.5 367.2L529.0 368.6L529.5 368.7L530.0 369.8L530.5 369.9L531.0 372.8L531.5 376.3L532.0 380.2L532.5 383.6L533.0 386.4L533.5 391.4L534.0 397.2L534.5 401.6L535.0 401.6L535.5 402.5L536.0 406.0L536.5 410.9L537.0 413.9L537.5 417.3L538.0 418.1L538.5 422.1L539.0 425.5L539.5 428.0L540.0 427.7L540.5 426.9L541.0 425.7L541.5 425.2L542.0 423.2L542.5 421.7L543.0 418.2L543.5 414.9L544.0 410.6L544.5 406.6L545.0 403.6L545.5 403.9L546.0 398.5L546.5 392.9L547.0 387.8L547.5 385.5L548.0 382.9L548.5 380.0L549.0 377.6L549.5 377.4L550.0 379.1L550.5 380.3L551.0 381.4L551.5 381.4L552.0 382.9L552.5 385.5L553.0 390.1L553.5 393.7L554.0 396.5L554.5 400.0L555.0 401.1L555.5 407.4L556.0 410.5L556.5 413.4L557.0 417.1L557.5 421.0L558.0 424.9L558.5 425.3L559.0 425.7L559.5 427.0L560.0 429.4L560.5 429.2L561.0 427.2L561.5 422.2L562.0 418.1L562.5 411.4L563.0 405.9L563.5 398.3L564.0 397.1L564.5 389.7L565.0 383.9L565.5 377.4L566.0 372.7L566.5 368.0L567.0 367.3L567.5 365.4L568.0 365.4L568.5 364.8L569.0 367.3L569.5 370.6L570.0 374.7L570.5 377.4L571.0 381.6L571.5 386.0L572.0 392.9L572.5 399.1L573.0 403.1L573.5 401.6L574.0 404.4L574.5 408.8L575.0 413.3L575.5 417.5L576.0 420.4L576.5 422.3L577.0 424.4L577.5 424.1L578.0 423.8L578.5 423.5L579.0 423.1L579.5 423.0L580.0 419.1L580.5 417.5L581.0 412.6L581.5 411.0L582.0 406.8L582.5 403.3L583.0 398.4L583.5 394.1L584.0 394.5L584.5 393.1L585.0 388.0L585.5 385.0L586.0 381.0L586.5 379.1L587.0 375.9L587.5 374.6L588.0 371.1L588.5 369.2L589.0 366.8L589.5 367.1L590.0 365.3L590.5 364.8L591.0 365.7L591.5 369.0L592.0 372.0L592.5 375.8L593.0 378.9L593.5 382.0L594.0 386.3L594.5 389.6L595.0 395.0L595.5 397.8L596.0 400.0L596.5 404.4L597.0 408.2L597.5 410.3L598.0 413.9L598.5 417.6L599.0 421.7L599.5 424.9L600.0 425.7L600.5 426.3L601.0 426.3L601.5 428.1L602.0 427.0L602.5 426.3L603.0 423.6L603.5 422.7L604.0 420.3L604.5 418.9L605.0 415.8L605.5 412.1L606.0 407.7L606.5 405.3L607.0 406.3L607.5 407.1L608.0 403.2L608.5 401.8L609.0 397.5L609.5 396.0L610.0 392.9L610.5 391.5L611.0 389.9L611.5 388.3L612.0 388.0L612.5 388.9L613.0 390.8L613.5 392.5L614.0 392.8L614.5 394.3L615.0 396.7L615.5 400.3L616.0 403.1L616.5 405.9L617.0 405.3L617.5 406.8L618.0 409.8L618.5 413.6L619.0 414.4L619.5 414.7L620.0 416.0L620.5 418.1L621.0 418.9L621.5 417.9L622.0 418.1L622.5 418.8L623.0 419.1L623.5 417.0L624.0 414.2L624.5 411.8L625.0 410.1L625.5 408.1L626.0 405.2L626.5 403.6L627.0 401.7L627.5 400.2L628.0 401.0L628.5 402.2L629.0 401.8L629.5 402.2L630.0 402.7L630.5 404.9L631.0 403.5L631.5 403.3L632.0 402.5L632.5 403.7L633.0 404.1L633.5 402.8L634.0 402.2L634.5 401.0L635.0 401.1L635.5 398.8L636.0 396.7L636.5 394.2L637.0 393.7L637.5 392.5L638.0 392.4L638.5 391.5L639.0 389.8L639.5 388.2L640.0 386.7L640.5 386.8L641.0 389.1L641.5 390.0L642.0 391.8L642.5 393.0L643.0 395.1L643.5 398.3L644.0 401.1L644.5 401.8L645.0 401.0L645.5 400.6L646.0 401.9L646.5 402.6L647.0 404.2L647.5 404.2L648.0 406.1L648.5 408.3L649.0 411.3L649.5 411.8L650.0 413.2L650.5 413.5L651.0 413.7L651.5 412.1L652.0 410.3L652.5 410.2L653.0 409.2L653.5 409.7L654.0 407.1L654.5 405.3L655.0 403.2L655.5 401.3L656.0 400.9L656.5 399.0L657.0 400.3L657.5 398.4L658.0 397.3L658.5 395.3L659.0 397.1L659.5 398.1L660.0 399.8L660.5 399.0L661.0 400.1L661.5 400.2L662.0 400.0L662.5 396.9L663.0 394.2L663.5 392.2L664.0 390.9L664.5 389.9L665.0 389.5L665.5 389.3L666.0 387.1L666.5 385.0L667.0 384.4L667.5 385.8L668.0 387.7L668.5 389.0L669.0 389.0L669.5 388.6L670.0 388.8L670.5 390.4L671.0 391.1L671.5 391.7L672.0 392.0L672.5 393.1L673.0 393.6L673.5 393.8L674.0 394.5L674.5 394.4L675.0 394.9L675.5 394.7L676.0 394.0L676.5 393.6L677.0 393.7L677.5 394.0L678.0 394.2L678.5 394.3L679.0 394.4L679.5 394.1L680.0 394.7L680.5 395.0L681.0 397.2L681.5 398.0L682.0 397.6L682.5 396.5L683.0 396.4L683.5 397.1L684.0 398.8L684.5 399.2L685.0 401.3L685.5 400.6L686.0 401.0L686.5 400.5L687.0 401.5L687.5 402.4L688.0 402.0L688.5 401.2L689.0 401.0L689.5 400.6L690.0 401.4L690.5 401.6L691.0 403.1L691.5 403.2L692.0 400.8L692.5 400.6L693.0 399.2L693.5 398.7L694.0 394.9L694.5 391.8L695.0 387.6L695.5 383.5L696.0 376.3L696.5 365.6L697.0 349.5L697.5 360.4L698.0 369.6L698.5 376.6L699.0 383.8L699.5 388.7L700.0 391.3L700.5 392.3L701.0 393.5L701.5 395.6L702.0 398.3L702.5 399.6L703.0 400.4L703.5 400.4L704.0 401.2L704.5 401.5L705.0 400.7L705.5 399.1L706.0 399.4L706.5 399.7L707.0 400.3L707.5 399.0L708.0 400.3L708.5 399.2L709.0 399.3L709.5 398.3L710.0 398.4L710.5 398.2L711.0 399.1L711.5 398.8L712.0 398.3L712.5 397.5L713.0 398.4L713.5 399.4L714.0 398.6L714.5 397.4L715.0 396.3L715.5 397.2L716.0 397.6L716.5 397.4L717.0 397.1L717.5 397.1L718.0 396.3L718.5 395.1L719.0 395.6L719.5 395.1L720.0 395.7L720.5 394.1L721.0 395.6L721.5 394.0L722.0 394.7L722.5 394.8L723.0 394.4L723.5 395.0L724.0 393.1L724.5 392.9L725.0 392.5L725.5 393.3L726.0 393.3L726.5 392.8L727.0 392.8L727.5 395.1L728.0 395.9L728.5 397.0L729.0 396.2L729.5 396.2L730.0 396.3L730.5 396.1L731.0 396.4L731.5 395.8L732.0 396.6L732.5 395.5L733.0 395.4L733.5 395.5L734.0 397.2L734.5 398.5L735.0 397.5L735.5 396.7L736.0 395.4L736.5 395.3L737.0 394.7L737.5 395.4L738.0 396.9L738.5 396.1L739.0 395.2L739.5 394.7L740.0 395.6L740.5 396.4L741.0 398.3L741.5 400.0L742.0 404.9L742.5 404.2L743.0 406.5L743.5 406.6L744.0 410.5L744.5 412.8L745.0 414.1L745.5 412.9L746.0 412.6L746.0 421.8L745.5 422.1L745.0 423.3L744.5 421.9L744.0 419.7L743.5 415.8L743.0 415.6L742.5 413.3L742.0 414.1L741.5 409.2L741.0 407.5L740.5 405.6L740.0 404.8L739.5 403.8L739.0 404.3L738.5 405.3L738.0 406.0L737.5 404.5L737.0 403.8L736.5 404.4L736.0 404.5L735.5 405.8L735.0 406.7L734.5 407.6L734.0 406.3L733.5 404.6L733.0 404.5L732.5 404.6L732.0 405.7L731.5 404.9L731.0 405.5L730.5 405.2L730.0 405.4L729.5 405.3L729.0 405.3L728.5 406.1L728.0 405.0L727.5 404.1L727.0 401.9L726.5 401.9L726.0 402.3L725.5 402.4L725.0 401.5L724.5 401.9L724.0 402.2L723.5 404.0L723.0 403.4L722.5 403.8L722.0 403.7L721.5 403.1L721.0 404.6L720.5 403.2L720.0 404.8L719.5 404.1L719.0 404.6L718.5 404.1L718.0 405.3L717.5 406.1L717.0 406.1L716.5 406.4L716.0 406.6L715.5 406.2L715.0 405.3L714.5 406.4L714.0 407.6L713.5 408.4L713.0 407.4L712.5 406.5L712.0 407.2L711.5 407.8L711.0 408.0L710.5 407.2L710.0 407.4L709.5 407.3L709.0 408.2L708.5 408.1L708.0 409.2L707.5 408.0L707.0 409.3L706.5 408.6L706.0 408.3L705.5 408.1L705.0 409.6L704.5 410.4L704.0 410.2L703.5 409.3L703.0 409.3L702.5 408.5L702.0 407.2L701.5 404.5L701.0 402.4L700.5 401.2L700.0 400.2L699.5 397.6L699.0 392.7L698.5 385.5L698.0 378.5L697.5 369.3L697.0 358.4L696.5 374.4L696.0 385.2L695.5 392.3L695.0 396.5L694.5 400.6L694.0 403.8L693.5 407.6L693.0 408.1L692.5 409.4L692.0 409.6L691.5 412.1L691.0 412.0L690.5 410.5L690.0 410.2L689.5 409.4L689.0 409.8L688.5 410.0L688.0 410.9L687.5 411.2L687.0 410.3L686.5 409.3L686.0 409.8L685.5 409.4L685.0 410.1L684.5 408.0L684.0 407.6L683.5 405.9L683.0 405.2L682.5 405.3L682.0 406.3L681.5 406.8L681.0 406.0L680.5 403.7L680.0 403.4L679.5 402.9L679.0 403.2L678.5 403.0L678.0 403.0L677.5 402.8L677.0 402.5L676.5 402.4L676.0 402.8L675.5 403.4L675.0 403.6L674.5 403.2L674.0 403.2L673.5 402.5L673.0 402.3L672.5 401.8L672.0 400.7L671.5 400.4L671.0 399.8L670.5 399.1L670.0 397.5L669.5 397.3L669.0 397.7L668.5 397.7L668.0 396.4L667.5 394.5L667.0 393.1L666.5 393.7L666.0 395.8L665.5 397.9L665.0 398.1L664.5 398.6L664.0 399.5L663.5 400.9L663.0 402.9L662.5 405.6L662.0 408.6L661.5 408.9L661.0 408.7L660.5 407.6L660.0 408.4L659.5 406.7L659.0 405.7L658.5 403.9L658.0 405.9L657.5 407.0L657.0 408.9L656.5 407.6L656.0 409.5L655.5 409.9L655.0 411.8L654.5 413.9L654.0 415.7L653.5 418.3L653.0 417.8L652.5 418.8L652.0 418.9L651.5 420.7L651.0 422.3L650.5 422.0L650.0 421.7L649.5 420.4L649.0 419.9L648.5 416.9L648.0 414.6L647.5 412.7L647.0 412.7L646.5 411.1L646.0 410.5L645.5 409.2L645.0 409.5L644.5 410.4L644.0 409.6L643.5 406.8L643.0 403.6L642.5 401.5L642.0 400.4L641.5 398.5L641.0 397.6L640.5 395.3L640.0 395.2L639.5 396.6L639.0 398.3L638.5 399.9L638.0 400.9L637.5 400.9L637.0 402.1L636.5 402.6L636.0 405.2L635.5 407.3L635.0 409.6L634.5 409.5L634.0 410.7L633.5 411.2L633.0 412.5L632.5 412.1L632.0 410.9L631.5 411.8L631.0 411.9L630.5 413.3L630.0 411.1L629.5 410.7L629.0 410.2L628.5 410.6L628.0 409.4L627.5 408.6L627.0 410.1L626.5 412.0L626.0 413.6L625.5 416.5L625.0 418.5L624.5 421.9L624.0 424.4L623.5 427.2L623.0 429.3L622.5 429.0L622.0 428.3L621.5 428.0L621.0 428.9L620.5 428.0L620.0 425.6L619.5 424.0L619.0 423.4L618.5 422.2L618.0 418.0L617.5 414.7L617.0 413.2L616.5 413.8L616.0 410.5L615.5 407.2L615.0 403.2L614.5 400.5L614.0 398.8L613.5 398.5L613.0 396.6L612.5 394.6L612.0 393.6L611.5 393.8L611.0 395.3L610.5 396.7L610.0 398.0L609.5 401.0L609.0 402.5L608.5 406.9L608.0 408.5L607.5 412.6L607.0 411.7L606.5 410.5L606.0 413.1L605.5 417.8L605.0 421.7L604.5 425.0L604.0 426.6L603.5 429.1L603.0 430.2L602.5 432.9L602.0 433.6L601.5 434.6L601.0 432.8L600.5 432.6L600.0 431.8L599.5 430.9L599.0 427.4L598.5 423.0L598.0 419.0L597.5 414.9L597.0 412.3L596.5 408.0L596.0 403.1L595.5 400.9L595.0 398.0L594.5 392.6L594.0 389.3L593.5 385.0L593.0 381.9L592.5 378.8L592.0 375.0L591.5 371.9L591.0 368.7L590.5 367.8L590.0 368.3L589.5 370.0L589.0 369.8L588.5 372.1L588.0 374.1L587.5 377.6L587.0 378.9L586.5 382.1L586.0 384.0L585.5 388.0L585.0 390.9L584.5 396.1L584.0 397.5L583.5 397.1L583.0 401.5L582.5 406.8L582.0 410.7L581.5 415.3L581.0 417.3L580.5 422.4L580.0 424.3L579.5 428.5L579.0 428.8L578.5 429.3L578.0 429.6L577.5 430.0L577.0 430.2L576.5 427.9L576.0 425.8L575.5 422.5L575.0 417.9L574.5 413.1L574.0 408.2L573.5 404.9L573.0 406.4L572.5 402.0L572.0 395.9L571.5 388.9L571.0 384.5L570.5 380.3L570.0 377.6L569.5 373.6L569.0 370.3L568.5 367.7L568.0 368.3L567.5 368.3L567.0 370.2L566.5 370.9L566.0 375.7L565.5 380.4L565.0 386.8L564.5 392.7L564.0 400.0L563.5 401.4L563.0 409.7L562.5 415.9L562.0 423.3L561.5 427.8L561.0 433.3L560.5 435.3L560.0 435.5L559.5 433.2L559.0 431.9L558.5 431.3L558.0 430.6L557.5 426.4L557.0 422.1L556.5 418.0L556.0 414.7L555.5 411.1L555.0 404.3L554.5 403.2L554.0 399.4L553.5 396.7L553.0 393.1L552.5 388.5L552.0 385.8L551.5 384.4L551.0 384.3L550.5 383.2L550.0 382.1L549.5 380.3L549.0 380.5L548.5 382.9L548.0 385.9L547.5 388.4L547.0 390.7L546.5 395.9L546.0 401.4L545.5 407.2L545.0 406.8L544.5 410.3L544.0 414.7L543.5 419.5L543.0 423.1L542.5 427.0L542.0 428.8L541.5 431.0L541.0 431.7L540.5 433.0L540.0 433.7L539.5 433.9L539.0 431.3L538.5 427.7L538.0 423.5L537.5 422.4L537.0 418.6L536.5 415.1L536.0 409.8L535.5 405.9L535.0 404.8L534.5 404.6L534.0 400.1L533.5 394.3L533.0 389.3L532.5 386.5L532.0 383.1L531.5 379.2L531.0 375.7L530.5 372.8L530.0 372.7L529.5 371.6L529.0 371.5L528.5 370.1L528.0 371.6L527.5 375.2L527.0 378.8L526.5 383.3L526.0 387.7L525.5 393.2L525.0 396.8L524.5 399.2L524.0 406.8L523.5 413.5L523.0 420.8L522.5 425.4L522.0 428.6L521.5 430.8L521.0 434.2L520.5 436.0L520.0 436.6L519.5 435.4L519.0 433.9L518.5 429.7L518.0 423.5L517.5 415.7L517.0 408.9L516.5 401.5L516.0 399.9L515.5 394.3L515.0 388.0L514.5 380.0L514.0 373.3L513.5 368.8L513.0 367.3L512.5 367.0L512.0 367.6L511.5 368.4L511.0 369.9L510.5 371.6L510.0 374.0L509.5 377.5L509.0 382.2L508.5 387.0L508.0 390.7L507.5 393.4L507.0 398.0L506.5 399.4L506.0 403.0L505.5 406.1L505.0 410.7L504.5 413.0L504.0 416.4L503.5 418.0L503.0 420.6L502.5 422.4L502.0 424.2L501.5 426.1L501.0 425.6L500.5 423.1L500.0 420.8L499.5 418.6L499.0 416.5L498.5 411.5L498.0 408.4L497.5 403.8L497.0 400.0L496.5 395.9L496.0 394.9L495.5 390.0L495.0 387.2L494.5 382.1L494.0 378.5L493.5 373.6L493.0 370.7L492.5 369.1L492.0 369.0L491.5 367.6L491.0 366.7L490.5 367.7L490.0 370.1L489.5 371.7L489.0 373.8L488.5 377.1L488.0 381.2L487.5 386.4L487.0 392.5L486.5 393.5L486.0 398.2L485.5 401.5L485.0 405.7L484.5 408.0L484.0 411.1L483.5 412.7L483.0 415.8L482.5 416.5L482.0 417.6L481.5 416.3L481.0 416.4L480.5 414.0L480.0 410.5L479.5 406.8L479.0 402.1L478.5 397.6L478.0 392.3L477.5 393.6L477.0 389.8L476.5 384.9L476.0 379.0L475.5 374.7L475.0 371.0L474.5 371.0L474.0 368.7L473.5 368.5L473.0 367.2L472.5 368.3L472.0 370.5L471.5 372.3L471.0 374.6L470.5 377.4L470.0 381.7L469.5 385.5L469.0 389.0L468.5 392.7L468.0 396.0L467.5 396.6L467.0 399.8L466.5 404.5L466.0 407.2L465.5 412.8L465.0 415.8L464.5 418.7L464.0 419.6L463.5 422.0L463.0 425.4L462.5 427.7L462.0 428.5L461.5 426.7L461.0 424.9L460.5 422.5L460.0 419.3L459.5 416.3L459.0 409.7L458.5 405.9L458.0 398.7L457.5 400.3L457.0 392.8L456.5 389.4L456.0 383.4L455.5 380.3L455.0 375.5L454.5 373.7L454.0 371.9L453.5 372.2L453.0 372.1L452.5 372.4L452.0 374.0L451.5 375.8L451.0 379.9L450.5 382.6L450.0 388.5L449.5 392.2L449.0 398.6L448.5 397.6L448.0 403.2L447.5 408.5L447.0 412.4L446.5 418.0L446.0 420.0L445.5 424.0L445.0 425.6L444.5 428.0L444.0 427.3L443.5 425.7L443.0 423.3L442.5 420.2L442.0 417.5L441.5 414.5L441.0 410.3L440.5 406.1L440.0 400.8L439.5 399.6L439.0 395.2L438.5 390.1L438.0 385.9L437.5 381.1L437.0 376.8L436.5 372.4L436.0 371.9L435.5 371.1L435.0 370.8L434.5 369.4L434.0 370.0L433.5 371.5L433.0 375.8L432.5 382.0L432.0 389.8L431.5 396.9L431.0 397.5L430.5 400.9L430.0 407.0L429.5 411.8L429.0 417.3L428.5 420.9L428.0 424.5L427.5 424.8L427.0 424.3L426.5 422.8L426.0 422.5L425.5 418.3L425.0 414.0L424.5 409.2L424.0 405.6L423.5 401.5L423.0 396.3L422.5 391.9L422.0 391.4L421.5 387.6L421.0 383.8L420.5 379.0L420.0 374.7L419.5 369.5L419.0 366.4L418.5 365.3L418.0 364.4L417.5 364.7L417.0 363.9L416.5 363.1L416.0 363.0L415.5 364.1L415.0 367.1L414.5 371.3L414.0 376.1L413.5 383.3L413.0 388.8L412.5 390.9L412.0 396.0L411.5 403.9L411.0 408.7L410.5 414.5L410.0 417.0L409.5 419.1L409.0 420.5L408.5 421.2L408.0 421.9L407.5 419.2L407.0 416.2L406.5 411.7L406.0 408.7L405.5 404.3L405.0 401.0L404.5 394.5L404.0 392.1L403.5 391.7L403.0 388.4L402.5 383.2L402.0 377.5L401.5 373.4L401.0 370.2L400.5 367.8L400.0 366.6L399.5 365.4L399.0 366.1L398.5 364.9L398.0 367.3L397.5 370.4L397.0 375.6L396.5 378.2L396.0 382.7L395.5 386.5L395.0 389.3L394.5 391.4L394.0 397.7L393.5 403.8L393.0 409.7L392.5 415.7L392.0 419.3L391.5 421.8L391.0 421.4L390.5 422.1L390.0 420.5L389.5 419.6L389.0 415.8L388.5 411.4L388.0 404.8L387.5 399.5L387.0 393.8L386.5 391.9L386.0 385.2L385.5 377.1L385.0 372.5L384.5 365.8L384.0 362.9L383.5 359.6L383.0 360.3L382.5 360.2L382.0 363.4L381.5 367.6L381.0 372.9L380.5 378.1L380.0 381.9L379.5 387.9L379.0 390.1L378.5 395.7L378.0 400.9L377.5 404.5L377.0 408.4L376.5 411.0L376.0 411.8L375.5 410.8L375.0 409.4L374.5 408.6L374.0 406.5L373.5 404.9L373.0 400.5L372.5 396.9L372.0 393.4L371.5 390.9L371.0 390.4L370.5 388.3L370.0 384.3L369.5 380.3L369.0 377.6L368.5 374.7L368.0 372.0L367.5 370.2L367.0 369.8L366.5 369.1L366.0 369.3L365.5 369.7L365.0 371.7L364.5 373.4L364.0 377.3L363.5 382.7L363.0 388.0L362.5 388.9L362.0 391.4L361.5 397.7L361.0 404.4L360.5 410.3L360.0 414.0L359.5 416.2L359.0 415.7L358.5 414.2L358.0 413.0L357.5 410.7L357.0 410.1L356.5 406.9L356.0 404.5L355.5 400.3L355.0 395.0L354.5 391.6L354.0 390.7L353.5 389.7L353.0 383.5L352.5 379.8L352.0 374.7L351.5 372.8L351.0 370.4L350.5 370.7L350.0 369.9L349.5 369.8L349.0 369.5L348.5 371.3L348.0 374.3L347.5 376.7L347.0 380.7L346.5 383.7L346.0 389.7L345.5 389.2L345.0 394.8L344.5 397.9L344.0 402.4L343.5 405.4L343.0 408.8L342.5 411.1L342.0 412.6L341.5 412.6L341.0 411.2L340.5 410.3L340.0 409.1L339.5 405.6L339.0 401.2L338.5 395.7L338.0 391.2L337.5 391.3L337.0 390.0L336.5 386.0L336.0 380.0L335.5 376.5L335.0 373.1L334.5 371.4L334.0 368.7L333.5 365.6L333.0 363.3L332.5 363.2L332.0 364.0L331.5 366.2L331.0 367.2L330.5 372.1L330.0 376.7L329.5 383.3L329.0 388.9L328.5 394.2L328.0 395.7L327.5 400.7L327.0 406.2L326.5 412.0L326.0 416.9L325.5 421.6L325.0 425.6L324.5 429.0L324.0 430.4L323.5 430.9L323.0 428.2L322.5 423.0L322.0 418.0L321.5 413.0L321.0 407.1L320.5 402.5L320.0 397.0L319.5 389.0L319.0 380.3L318.5 374.5L318.0 369.6L317.5 367.8L317.0 365.2L316.5 365.5L316.0 365.3L315.5 370.6L315.0 376.2L314.5 386.1L314.0 395.2L313.5 402.7L313.0 414.4L312.5 425.8L312.0 434.3L311.5 440.5L311.0 444.3L310.5 445.9L310.0 445.8L309.5 443.8L309.0 439.5L308.5 435.3L308.0 431.0L307.5 425.6L307.0 420.9L306.5 414.3L306.0 408.7L305.5 407.1L305.0 402.7L304.5 396.9L304.0 389.8L303.5 384.4L303.0 378.3L302.5 373.3L302.0 370.0L301.5 368.3L301.0 367.5L300.5 367.1L300.0 367.3L299.5 373.6L299.0 381.8L298.5 393.6L298.0 404.7L297.5 411.9L297.0 424.6L296.5 436.5L296.0 443.7L295.5 448.4L295.0 449.4L294.5 450.5L294.0 448.9L293.5 446.6L293.0 441.0L292.5 436.7L292.0 430.1L291.5 423.3L291.0 415.0L290.5 408.5L290.0 405.0L289.5 398.6L289.0 391.1L288.5 385.9L288.0 381.9L287.5 379.3L287.0 378.0L286.5 376.9L286.0 378.7L285.5 381.7L285.0 386.9L284.5 392.4L284.0 400.8L283.5 408.4L283.0 414.8L282.5 422.2L282.0 429.5L281.5 436.7L281.0 441.3L280.5 443.2L280.0 442.3L279.5 441.1L279.0 440.2L278.5 438.0L278.0 433.0L277.5 426.6L277.0 418.7L276.5 413.7L276.0 410.0L275.5 405.8L275.0 397.1L274.5 389.0L274.0 383.4L273.5 379.4L273.0 374.6L272.5 370.0L272.0 366.7L271.5 365.4L271.0 364.6L270.5 366.0L270.0 371.6L269.5 380.0L269.0 392.4L268.5 406.5L268.0 415.6L267.5 427.8L267.0 439.1L266.5 448.9L266.0 453.8L265.5 455.1L265.0 453.7L264.5 452.5L264.0 447.6L263.5 441.8L263.0 435.3L262.5 429.2L262.0 420.5L261.5 411.4L261.0 407.3L260.5 398.8L260.0 389.9L259.5 382.0L259.0 375.4L258.5 369.0L258.0 364.1L257.5 361.3L257.0 362.3L256.5 363.9L256.0 368.4L255.5 372.3L255.0 380.2L254.5 388.1L254.0 397.9L253.5 407.1L253.0 419.2L252.5 431.4L252.0 436.5L251.5 443.0L251.0 446.5L250.5 449.9L250.0 451.1L249.5 453.2L249.0 453.2Z" fill="#000" stroke="#1a1a1a" stroke-width="1.5" stroke-linejoin="round"/>
<path d="M249.0 450.6L249.5 450.6L250.0 448.5L250.5 447.3L251.0 443.9L251.5 440.4L252.0 433.9L252.5 428.9L253.0 417.2L253.5 405.7L254.0 396.9L254.5 387.1L255.0 379.1L255.5 371.3L256.0 367.4L256.5 362.9L257.0 361.3L257.5 360.2L258.0 363.1L258.5 367.9L259.0 374.3L259.5 380.9L260.0 388.8L260.5 397.7L261.0 406.0L261.5 409.9L262.0 418.5L262.5 426.8L263.0 432.7L263.5 439.1L264.0 445.0L264.5 449.8L265.0 451.0L265.5 452.4L266.0 451.1L266.5 446.2L267.0 436.4L267.5 425.4L268.0 413.9L268.5 405.2L269.0 391.4L269.5 378.9L270.0 370.5L270.5 364.9L271.0 363.5L271.5 364.3L272.0 365.6L272.5 368.9L273.0 373.5L273.5 378.3L274.0 382.3L274.5 387.9L275.0 396.0L275.5 404.5L276.0 408.6L276.5 412.0L277.0 416.6L277.5 424.2L278.0 430.3L278.5 435.3L279.0 437.5L279.5 438.4L280.0 439.6L280.5 440.4L281.0 438.6L281.5 434.0L282.0 426.8L282.5 420.0L283.0 413.0L283.5 406.9L284.0 399.6L284.5 391.3L285.0 385.7L285.5 380.6L286.0 377.6L286.5 375.8L287.0 376.9L287.5 378.1L288.0 380.8L288.5 384.7L289.0 389.9L289.5 397.5L290.0 403.7L290.5 407.0L291.0 413.1L291.5 421.1L292.0 427.4L292.5 433.9L293.0 438.3L293.5 443.8L294.0 446.1L294.5 447.7L295.0 446.7L295.5 445.7L296.0 440.9L296.5 433.7L297.0 422.2L297.5 410.1L298.0 403.3L298.5 392.4L299.0 380.7L299.5 372.4L300.0 366.1L300.5 365.9L301.0 366.4L301.5 367.1L302.0 368.8L302.5 372.1L303.0 377.1L303.5 383.2L304.0 388.6L304.5 395.7L305.0 401.5L305.5 405.6L306.0 407.1L306.5 412.4L307.0 418.7L307.5 423.1L308.0 428.2L308.5 432.5L309.0 436.7L309.5 441.0L310.0 443.0L310.5 443.1L311.0 441.5L311.5 437.7L312.0 431.5L312.5 423.3L313.0 412.5L313.5 401.4L314.0 394.0L314.5 384.9L315.0 375.0L315.5 369.4L316.0 364.1L316.5 364.2L317.0 364.0L317.5 366.5L318.0 368.4L318.5 373.2L319.0 379.1L319.5 387.7L320.0 395.7L320.5 401.2L321.0 405.6L321.5 411.2L322.0 415.9L322.5 420.6L323.0 425.6L323.5 428.2L324.0 427.7L324.5 426.3L325.0 423.0L325.5 419.2L326.0 414.7L326.5 410.0L327.0 404.6L327.5 399.4L328.0 394.4L328.5 392.9L329.0 387.6L329.5 382.0L330.0 375.4L330.5 370.8L331.0 365.9L331.5 364.9L332.0 362.7L332.5 361.9L333.0 362.0L333.5 364.3L334.0 367.4L334.5 370.1L335.0 371.8L335.5 375.2L336.0 378.7L336.5 384.7L337.0 388.7L337.5 389.9L338.0 389.9L338.5 394.4L339.0 399.9L339.5 404.2L340.0 407.5L340.5 408.6L341.0 409.4L341.5 410.7L342.0 410.8L342.5 409.3L343.0 407.1L343.5 403.8L344.0 401.0L344.5 396.6L345.0 393.5L345.5 387.9L346.0 388.4L346.5 382.4L347.0 379.4L347.5 375.4L348.0 372.9L348.5 370.0L349.0 368.2L349.5 368.5L350.0 368.6L350.5 369.3L351.0 369.1L351.5 371.5L352.0 373.4L352.5 378.5L353.0 382.2L353.5 388.3L354.0 389.4L354.5 390.2L355.0 393.7L355.5 399.0L356.0 403.1L356.5 405.3L357.0 408.3L357.5 408.8L358.0 411.0L358.5 412.2L359.0 413.7L359.5 414.2L360.0 412.2L360.5 408.6L361.0 402.9L361.5 396.4L362.0 390.1L362.5 387.6L363.0 386.7L363.5 381.3L364.0 376.0L364.5 372.0L365.0 370.4L365.5 368.4L366.0 368.0L366.5 367.8L367.0 368.5L367.5 368.9L368.0 370.7L368.5 373.4L369.0 376.3L369.5 379.0L370.0 383.0L370.5 387.0L371.0 389.1L371.5 389.6L372.0 392.1L372.5 395.6L373.0 399.2L373.5 403.4L374.0 404.9L374.5 406.8L375.0 407.5L375.5 409.0L376.0 409.9L376.5 409.2L377.0 406.7L377.5 402.9L378.0 399.6L378.5 394.4L379.0 388.8L379.5 386.6L380.0 380.5L380.5 376.8L381.0 371.6L381.5 366.2L382.0 362.1L382.5 358.9L383.0 358.9L383.5 358.2L384.0 361.5L384.5 364.5L385.0 371.2L385.5 375.8L386.0 383.9L386.5 390.5L387.0 392.5L387.5 398.1L388.0 403.3L388.5 409.5L389.0 413.7L389.5 417.3L390.0 418.1L390.5 419.6L391.0 418.9L391.5 419.4L392.0 417.0L392.5 413.6L393.0 407.8L393.5 402.2L394.0 396.4L394.5 390.0L395.0 387.9L395.5 385.1L396.0 381.3L396.5 376.8L397.0 374.2L397.5 369.0L398.0 365.9L398.5 363.6L399.0 364.8L399.5 364.0L400.0 365.2L400.5 366.4L401.0 368.8L401.5 372.1L402.0 376.2L402.5 381.9L403.0 387.1L403.5 390.3L404.0 390.8L404.5 393.2L405.0 399.7L405.5 402.8L406.0 407.0L406.5 409.8L407.0 414.1L407.5 417.0L408.0 419.6L408.5 418.8L409.0 418.1L409.5 416.8L410.0 414.9L410.5 412.6L411.0 406.9L411.5 402.5L412.0 394.6L412.5 389.6L413.0 387.5L413.5 381.9L414.0 374.8L414.5 369.9L415.0 365.8L415.5 362.7L416.0 361.6L416.5 361.7L417.0 362.6L417.5 363.3L418.0 363.1L418.5 363.9L419.0 365.1L419.5 368.2L420.0 373.3L420.5 377.6L421.0 382.5L421.5 386.3L422.0 390.1L422.5 390.5L423.0 395.0L423.5 400.1L424.0 404.0L424.5 407.3L425.0 411.9L425.5 416.1L426.0 420.2L426.5 420.4L427.0 421.9L427.5 422.3L428.0 422.0L428.5 418.5L429.0 415.1L429.5 409.9L430.0 405.3L430.5 399.6L431.0 396.1L431.5 395.6L432.0 388.4L432.5 380.7L433.0 374.4L433.5 370.1L434.0 368.6L434.5 368.0L435.0 369.5L435.5 369.7L436.0 370.5L436.5 371.0L437.0 375.5L437.5 379.7L438.0 384.5L438.5 388.7L439.0 393.8L439.5 398.3L440.0 399.4L440.5 404.5L441.0 408.4L441.5 412.4L442.0 415.2L442.5 417.8L443.0 420.7L443.5 423.0L444.0 424.7L444.5 425.3L445.0 423.0L445.5 421.6L446.0 417.7L446.5 415.9L447.0 410.4L447.5 406.7L448.0 401.8L448.5 396.2L449.0 397.2L449.5 390.8L450.0 387.1L450.5 381.2L451.0 378.5L451.5 374.4L452.0 372.6L452.5 371.0L453.0 370.7L453.5 370.8L454.0 370.5L454.5 372.3L455.0 374.1L455.5 378.9L456.0 382.0L456.5 388.0L457.0 391.4L457.5 398.9L458.0 397.3L458.5 404.3L459.0 407.8L459.5 414.1L460.0 417.0L460.5 420.0L461.0 422.2L461.5 424.1L462.0 425.8L462.5 425.1L463.0 422.9L463.5 419.5L464.0 417.2L464.5 416.5L465.0 413.7L465.5 410.9L466.0 405.4L466.5 403.0L467.0 398.4L467.5 395.2L468.0 394.6L468.5 391.3L469.0 387.6L469.5 384.1L470.0 380.3L470.5 376.0L471.0 373.2L471.5 370.9L472.0 369.1L472.5 366.9L473.0 365.8L473.5 367.1L474.0 367.3L474.5 369.5L475.0 369.6L475.5 373.3L476.0 377.6L476.5 383.5L477.0 388.4L477.5 392.2L478.0 390.9L478.5 396.2L479.0 400.7L479.5 405.1L480.0 408.6L480.5 412.0L481.0 414.3L481.5 414.1L482.0 415.4L482.5 414.3L483.0 413.6L483.5 410.6L484.0 409.2L484.5 406.2L485.0 404.2L485.5 400.1L486.0 396.8L486.5 392.1L487.0 391.1L487.5 385.0L488.0 379.8L488.5 375.7L489.0 372.4L489.5 370.3L490.0 368.6L490.5 366.3L491.0 365.3L491.5 366.2L492.0 367.6L492.5 367.7L493.0 369.3L493.5 372.2L494.0 377.1L494.5 380.7L495.0 385.8L495.5 388.6L496.0 393.5L496.5 394.5L497.0 398.5L497.5 402.2L498.0 406.6L498.5 409.5L499.0 414.3L499.5 416.2L500.0 418.4L500.5 420.5L501.0 423.0L501.5 423.5L502.0 421.6L502.5 419.8L503.0 418.2L503.5 415.6L504.0 414.2L504.5 411.0L505.0 408.9L505.5 404.4L506.0 401.5L506.5 398.0L507.0 396.6L507.5 391.9L508.0 389.3L508.5 385.5L509.0 380.8L509.5 376.1L510.0 372.5L510.5 370.1L511.0 368.5L511.5 367.0L512.0 366.2L512.5 365.6L513.0 365.9L513.5 367.4L514.0 371.8L514.5 378.6L515.0 386.6L515.5 392.8L516.0 398.5L516.5 400.0L517.0 407.0L517.5 413.5L518.0 420.9L518.5 426.7L519.0 430.9L519.5 432.4L520.0 433.5L520.5 432.9L521.0 431.1L521.5 427.7L522.0 425.7L522.5 422.8L523.0 418.4L523.5 411.5L524.0 405.1L524.5 397.7L525.0 395.3L525.5 391.7L526.0 386.3L526.5 381.8L527.0 377.4L527.5 373.7L528.0 370.1L528.5 368.6L529.0 370.0L529.5 370.1L530.0 371.2L530.5 371.4L531.0 374.3L531.5 377.8L532.0 381.7L532.5 385.0L533.0 387.9L533.5 392.9L534.0 398.6L534.5 403.1L535.0 403.2L535.5 404.2L536.0 407.9L536.5 413.0L537.0 416.3L537.5 419.8L538.0 420.8L538.5 424.9L539.0 428.4L539.5 430.9L540.0 430.7L540.5 430.0L541.0 428.7L541.5 428.1L542.0 426.0L542.5 424.4L543.0 420.7L543.5 417.2L544.0 412.6L544.5 408.4L545.0 405.2L545.5 405.5L546.0 400.0L546.5 394.4L547.0 389.3L547.5 386.9L548.0 384.4L548.5 381.5L549.0 379.1L549.5 378.8L550.0 380.6L550.5 381.7L551.0 382.8L551.5 382.9L552.0 384.4L552.5 387.0L553.0 391.6L553.5 395.2L554.0 398.0L554.5 401.6L555.0 402.7L555.5 409.3L556.0 412.6L556.5 415.7L557.0 419.6L557.5 423.7L558.0 427.7L558.5 428.3L559.0 428.8L559.5 430.1L560.0 432.4L560.5 432.2L561.0 430.3L561.5 425.0L562.0 420.7L562.5 413.6L563.0 407.8L563.5 399.8L564.0 398.6L564.5 391.2L565.0 385.4L565.5 378.9L566.0 374.2L566.5 369.5L567.0 368.7L567.5 366.8L568.0 366.8L568.5 366.2L569.0 368.8L569.5 372.1L570.0 376.2L570.5 378.9L571.0 383.0L571.5 387.5L572.0 394.4L572.5 400.6L573.0 404.8L573.5 403.2L574.0 406.3L574.5 410.9L575.0 415.6L575.5 420.0L576.0 423.1L576.5 425.1L577.0 427.3L577.5 427.0L578.0 426.7L578.5 426.4L579.0 425.9L579.5 425.8L580.0 421.7L580.5 419.9L581.0 414.9L581.5 413.2L582.0 408.8L582.5 405.0L583.0 400.0L583.5 395.6L584.0 396.0L584.5 394.6L585.0 389.4L585.5 386.5L586.0 382.5L586.5 380.6L587.0 377.4L587.5 376.1L588.0 372.6L588.5 370.7L589.0 368.3L589.5 368.6L590.0 366.8L590.5 366.3L591.0 367.2L591.5 370.4L592.0 373.5L592.5 377.3L593.0 380.4L593.5 383.5L594.0 387.8L594.5 391.1L595.0 396.5L595.5 399.3L596.0 401.5L596.5 406.2L597.0 410.2L597.5 412.6L598.0 416.5L598.5 420.3L599.0 424.5L599.5 427.9L600.0 428.7L600.5 429.4L601.0 429.6L601.5 431.3L602.0 430.3L602.5 429.6L603.0 426.9L603.5 425.9L604.0 423.5L604.5 422.0L605.0 418.7L605.5 415.0L606.0 410.4L606.5 407.9L607.0 409.0L607.5 409.8L608.0 405.9L608.5 404.4L609.0 400.0L609.5 398.5L610.0 395.5L610.5 394.1L611.0 392.6L611.5 391.0L612.0 390.8L612.5 391.7L613.0 393.7L613.5 395.5L614.0 395.8L614.5 397.4L615.0 400.0L615.5 403.8L616.0 406.8L616.5 409.8L617.0 409.2L617.5 410.7L618.0 413.9L618.5 417.9L619.0 418.9L619.5 419.4L620.0 420.8L620.5 423.0L621.0 423.9L621.5 423.0L622.0 423.2L622.5 423.9L623.0 424.2L623.5 422.1L624.0 419.3L624.5 416.9L625.0 414.3L625.5 412.3L626.0 409.4L626.5 407.8L627.0 405.9L627.5 404.4L628.0 405.2L628.5 406.4L629.0 406.0L629.5 406.5L630.0 406.9L630.5 409.1L631.0 407.7L631.5 407.6L632.0 406.7L632.5 407.9L633.0 408.3L633.5 407.0L634.0 406.4L634.5 405.3L635.0 405.4L635.5 403.0L636.0 400.9L636.5 398.4L637.0 397.9L637.5 396.7L638.0 396.7L638.5 395.7L639.0 394.0L639.5 392.4L640.0 390.9L640.5 391.0L641.0 393.3L641.5 394.2L642.0 396.1L642.5 397.3L643.0 399.3L643.5 402.6L644.0 405.3L644.5 406.1L645.0 405.3L645.5 404.9L646.0 406.2L646.5 406.9L647.0 408.4L647.5 408.5L648.0 410.3L648.5 412.6L649.0 415.6L649.5 416.1L650.0 417.4L650.5 417.7L651.0 418.0L651.5 416.4L652.0 414.6L652.5 414.5L653.0 413.5L653.5 414.0L654.0 411.4L654.5 409.6L655.0 407.5L655.5 405.6L656.0 405.2L656.5 403.3L657.0 404.6L657.5 402.7L658.0 401.6L658.5 399.6L659.0 401.4L659.5 402.4L660.0 404.1L660.5 403.3L661.0 404.4L661.5 404.5L662.0 404.3L662.5 401.2L663.0 398.6L663.5 396.6L664.0 395.2L664.5 394.3L665.0 393.8L665.5 393.6L666.0 391.5L666.5 389.3L667.0 388.8L667.5 390.2L668.0 392.0L668.5 393.3L669.0 393.4L669.5 393.0L670.0 393.2L670.5 394.7L671.0 395.4L671.5 396.0L672.0 396.3L672.5 397.5L673.0 397.9L673.5 398.1L674.0 398.8L674.5 398.8L675.0 399.2L675.5 399.0L676.0 398.4L676.5 398.0L677.0 398.1L677.5 398.4L678.0 398.6L678.5 398.7L679.0 398.8L679.5 398.5L680.0 399.1L680.5 399.3L681.0 401.6L681.5 402.4L682.0 402.0L682.5 400.9L683.0 400.8L683.5 401.5L684.0 403.2L684.5 403.6L685.0 405.7L685.5 405.0L686.0 405.4L686.5 404.9L687.0 405.9L687.5 406.8L688.0 406.4L688.5 405.6L689.0 405.4L689.5 405.0L690.0 405.8L690.5 406.0L691.0 407.5L691.5 407.7L692.0 405.2L692.5 405.0L693.0 403.7L693.5 403.2L694.0 399.4L694.5 396.2L695.0 392.0L695.5 387.9L696.0 380.8L696.5 370.0L697.0 354.0L697.5 364.8L698.0 374.1L698.5 381.0L699.0 388.2L699.5 393.1L700.0 395.8L700.5 396.7L701.0 398.0L701.5 400.0L702.0 402.7L702.5 404.0L703.0 404.9L703.5 404.8L704.0 405.7L704.5 405.9L705.0 405.1L705.5 403.6L706.0 403.8L706.5 404.1L707.0 404.8L707.5 403.5L708.0 404.7L708.5 403.7L709.0 403.8L709.5 402.8L710.0 402.9L710.5 402.7L711.0 403.6L711.5 403.3L712.0 402.7L712.5 402.0L713.0 402.9L713.5 403.9L714.0 403.1L714.5 401.9L715.0 400.8L715.5 401.7L716.0 402.1L716.5 401.9L717.0 401.6L717.5 401.6L718.0 400.8L718.5 399.6L719.0 400.1L719.5 399.6L720.0 400.2L720.5 398.6L721.0 400.1L721.5 398.5L722.0 399.2L722.5 399.3L723.0 398.9L723.5 399.5L724.0 397.6L724.5 397.4L725.0 397.0L725.5 397.8L726.0 397.8L726.5 397.4L727.0 397.3L727.5 399.6L728.0 400.5L728.5 401.6L729.0 400.7L729.5 400.7L730.0 400.8L730.5 400.7L731.0 401.0L731.5 400.4L732.0 401.2L732.5 400.1L733.0 400.0L733.5 400.1L734.0 401.7L734.5 403.1L735.0 402.1L735.5 401.2L736.0 399.9L736.5 399.8L737.0 399.2L737.5 399.9L738.0 401.5L738.5 400.7L739.0 399.7L739.5 399.3L740.0 400.2L740.5 401.0L741.0 402.9L741.5 404.6L742.0 409.5L742.5 408.7L743.0 411.1L743.5 411.2L744.0 415.1L744.5 417.4L745.0 418.7L745.5 417.5L746.0 417.2" fill="none" stroke="#1a1a1a" stroke-width="3.0" stroke-linejoin="round" stroke-linecap="round"/>
<path d="M745.0 413.1L745.5 413.4L746.0 414.7L746.5 414.0L747.0 413.4L747.5 413.0L748.0 413.3L748.5 413.4L749.0 412.5L749.5 410.9L750.0 395.9L750.5 370.5L751.0 340.1L751.5 305.6L752.0 323.5L752.5 340.6L753.0 356.5L753.5 371.6L754.0 385.5L754.5 398.1L755.0 408.8L755.5 413.4L756.0 412.9L756.5 413.8L757.0 415.7L757.5 417.5L758.0 416.1L758.5 417.2L759.0 417.4L759.5 417.7L760.0 418.5L760.5 419.7L761.0 418.9L761.5 419.7L762.0 420.4L762.5 421.4L763.0 421.9L763.5 422.8L764.0 421.9L764.5 423.1L765.0 423.0L765.5 423.4L766.0 421.8L766.5 422.2L767.0 423.2L767.5 422.7L768.0 422.6L768.5 421.2L769.0 419.5L769.5 402.7L770.0 374.4L770.5 341.5L771.0 303.0L771.5 322.7L772.0 341.0L772.5 359.0L773.0 376.2L773.5 391.8L774.0 405.6L774.5 417.9L775.0 423.0L775.5 422.9L776.0 424.8L776.5 426.2L777.0 426.8L777.5 427.5L778.0 428.3L778.5 428.9L779.0 430.7L779.5 431.6L780.0 432.1L780.5 433.0L781.0 434.1L781.5 434.7L782.0 433.2L782.5 435.4L783.0 435.4L783.5 435.0L784.0 433.8L784.5 434.1L785.0 434.9L785.5 434.9L786.0 434.7L786.5 433.8L787.0 432.5L787.5 430.4L788.0 410.9L788.5 378.4L789.0 340.5L789.5 297.0L790.0 319.1L790.5 339.9L791.0 359.3L791.5 377.9L792.0 394.3L792.5 408.9L793.0 421.7L793.5 428.1L794.0 428.6L794.5 428.6L795.0 429.4L795.5 430.0L796.0 429.9L796.5 430.7L797.0 431.8L797.5 430.4L798.0 431.5L798.5 431.5L799.0 431.9L799.5 431.2L800.0 431.9L800.5 431.4L801.0 430.7L801.5 431.4L802.0 432.2L802.5 432.0L803.0 433.6L803.5 432.2L804.0 431.8L804.5 432.0L805.0 433.3L805.5 432.9L806.0 432.2L806.5 430.8L807.0 429.5L807.5 428.3L808.0 411.4L808.5 382.7L809.0 349.1L809.5 311.0L810.0 331.2L810.5 349.6L811.0 367.0L811.5 383.2L812.0 398.4L812.5 411.9L813.0 423.3L813.5 428.0L814.0 428.7L814.5 428.6L815.0 429.7L815.5 431.6L816.0 431.5L816.5 432.5L817.0 431.2L817.5 431.0L818.0 432.2L818.5 432.9L819.0 432.3L819.5 432.2L820.0 433.8L820.5 434.4L821.0 434.2L821.5 433.8L822.0 433.8L822.5 434.3L823.0 433.9L823.5 434.6L824.0 433.7L824.5 432.0L825.0 429.9L825.5 413.9L826.0 385.3L826.5 351.9L827.0 314.0L827.5 333.4L828.0 351.9L828.5 369.3L829.0 385.5L829.5 400.8L830.0 414.1L830.5 423.3L831.0 428.6L831.5 430.6L832.0 431.7L832.5 432.3L833.0 433.6L833.5 434.4L834.0 433.9L834.5 435.0L835.0 435.3L835.5 435.9L836.0 434.6L836.5 435.9L837.0 436.3L837.5 436.5L838.0 435.5L838.5 435.9L839.0 435.5L839.5 436.3L840.0 435.8L840.5 434.0L841.0 432.6L841.5 416.6L842.0 389.1L842.5 356.7L843.0 320.0L843.5 339.1L844.0 357.0L844.5 373.5L845.0 389.2L845.5 404.0L846.0 416.6L846.5 425.9L847.0 432.0L847.5 433.4L848.0 434.2L848.5 435.3L849.0 436.4L849.5 436.1L850.0 436.1L850.5 436.0L851.0 438.2L851.5 437.8L852.0 437.9L852.5 438.5L853.0 438.6L853.5 438.4L854.0 437.9L854.5 437.8L855.0 437.6L855.5 437.5L856.0 435.9L856.5 434.5L857.0 418.5L857.5 391.8L858.0 359.8L858.5 323.5L859.0 341.8L859.5 359.0L860.0 375.4L860.5 390.4L861.0 404.3L861.5 416.9L862.0 425.9L862.5 431.1L863.0 430.7L863.5 432.1L864.0 432.3L864.5 433.0L865.0 434.1L865.5 435.1L866.0 434.1L866.5 436.0L867.0 436.2L867.5 435.5L868.0 435.2L868.5 436.2L869.0 435.4L869.5 435.3L870.0 435.7L870.5 435.0L871.0 434.3L871.5 432.1L872.0 415.9L872.5 387.7L873.0 354.4L873.5 316.5L874.0 336.3L874.5 354.6L875.0 372.3L875.5 388.4L876.0 403.2L876.5 416.1L877.0 427.5L877.5 432.1L878.0 433.2L878.5 433.7L879.0 435.0L879.5 435.1L880.0 434.3L880.5 435.1L881.0 435.5L881.5 436.9L882.0 436.0L882.5 436.4L883.0 435.8L883.5 436.7L884.0 436.0L884.5 435.9L885.0 434.6L885.5 434.1L886.0 434.5L886.5 433.6L887.0 432.3L887.5 431.0L888.0 414.8L888.5 386.8L889.0 353.5L889.5 315.7L890.0 334.6L890.5 352.6L891.0 369.7L891.5 385.7L892.0 400.4L892.5 413.1L893.0 423.5L893.5 428.5L894.0 428.3L894.5 430.1L895.0 430.8L895.5 431.3L896.0 431.7L896.5 431.8L897.0 433.0L897.5 432.7L898.0 433.2L898.5 433.4L899.0 435.2L899.5 434.8L900.0 435.3L900.5 433.9L901.0 433.6L901.5 432.3L902.0 430.6L902.5 414.7L903.0 388.5L903.5 357.6L904.0 322.0L904.5 340.4L905.0 357.8L905.5 374.2L906.0 389.3L906.5 403.7L907.0 416.1L907.5 425.3L908.0 430.4L908.5 431.6L909.0 432.8L909.5 432.9L910.0 434.7L910.5 433.7L911.0 435.7L911.5 436.6L912.0 435.7L912.5 437.0L913.0 436.0L913.5 437.5L914.0 436.0L914.5 436.6L915.0 435.5L915.5 436.4L916.0 435.7L916.5 434.3L917.0 418.4L917.5 392.6L918.0 360.8L918.5 325.0L919.0 343.6L919.5 361.6L920.0 378.1L920.5 393.6L921.0 407.8L921.5 420.6L922.0 430.3L922.5 435.2L923.0 435.8L923.5 437.4L924.0 438.8L924.5 438.5L925.0 440.7L925.5 439.9L926.0 440.7L926.5 441.3L927.0 442.3L927.5 441.6L928.0 442.0L928.5 443.0L929.0 443.4L929.5 441.8L930.0 442.9L930.5 442.3L931.0 442.0L931.5 441.1L932.0 439.9L932.5 437.8L933.0 422.9L933.5 397.2L934.0 366.6L934.5 332.0L935.0 350.4L935.5 367.2L936.0 383.1L936.5 397.5L937.0 411.2L937.5 423.9L938.0 434.2L938.5 437.6L939.0 439.6L939.5 440.9L940.0 441.0L940.5 442.8L941.0 442.3L941.5 442.9L942.0 442.7L942.5 442.5L943.0 443.8L943.5 443.9L944.0 442.9L944.5 444.7L945.0 442.8L945.5 444.1L946.0 443.0L946.5 444.0L947.0 444.3L947.5 443.4L948.0 441.8L948.5 425.6L949.0 398.6L949.5 365.6L950.0 329.0L950.5 348.1L951.0 366.4L951.5 383.8L952.0 399.0L952.5 413.1L953.0 426.2L953.5 437.1L954.0 441.2L954.5 441.9L955.0 443.6L955.5 442.6L956.0 444.4L956.5 444.8L957.0 444.8L957.5 443.8L958.0 445.6L958.5 445.2L959.0 446.3L959.5 445.5L960.0 446.6L960.5 446.8L961.0 446.8L961.5 445.3L962.0 445.1L962.5 445.5L963.0 445.1L963.5 443.9L964.0 442.5L964.5 440.9L965.0 424.8L965.5 398.0L966.0 366.1L966.5 329.0L967.0 348.4L967.5 366.2L968.0 382.3L968.5 397.6L969.0 411.6L969.5 424.2L970.0 434.4L970.5 438.8L971.0 440.0L971.5 441.4L972.0 441.4L972.5 442.0L973.0 442.9L973.5 442.7L974.0 443.2L974.5 442.6L975.0 443.0L975.5 443.4L976.0 444.5L976.5 443.2L977.0 443.6L977.5 443.6L978.0 443.2L978.5 442.4L979.0 440.7L979.5 425.3L980.0 397.8L980.5 365.4L981.0 328.0L981.5 347.2L982.0 365.1L982.5 381.9L983.0 398.3L983.5 412.6L984.0 426.2L984.5 436.8L985.0 441.0L985.5 442.2L986.0 444.3L986.5 444.0L987.0 445.7L987.5 445.1L988.0 445.5L988.5 446.4L989.0 447.8L989.5 447.9L990.0 447.7L990.5 447.5L991.0 448.3L991.5 447.8L992.0 447.3L992.5 447.5L993.0 447.1L993.5 445.5L994.0 443.3L994.5 427.2L995.0 400.0L995.5 367.8L996.0 331.0L996.5 350.6L997.0 368.5L997.5 385.2L998.0 400.3L998.5 415.0L999.0 427.4L999.5 438.1L1000.0 442.4L1000.5 441.9L1001.0 443.5L1001.5 445.9L1002.0 445.3L1002.5 446.8L1003.0 446.4L1003.5 446.4L1004.0 447.9L1004.5 448.2L1005.0 448.0L1005.5 448.0L1006.0 446.7L1006.5 447.2L1007.0 447.7L1007.5 446.7L1008.0 446.8L1008.5 447.3L1009.0 446.9L1009.5 445.4L1010.0 444.1L1010.5 428.9L1011.0 403.4L1011.5 372.5L1012.0 337.5L1012.5 356.2L1013.0 373.5L1013.5 388.9L1014.0 403.7L1014.5 417.9L1015.0 430.5L1015.5 441.1L1016.0 443.8L1016.5 445.5L1017.0 445.7L1017.5 446.2L1018.0 447.5L1018.5 446.7L1019.0 447.8L1019.5 448.8L1020.0 447.8L1020.5 448.7L1021.0 449.6L1021.5 448.5L1022.0 448.1L1022.5 449.1L1023.0 448.4L1023.5 447.6L1024.0 448.5L1024.5 447.4L1025.0 445.3L1025.5 429.7L1026.0 403.2L1026.5 372.3L1027.0 336.7L1027.5 355.1L1028.0 372.1L1028.5 388.8L1029.0 404.2L1029.5 417.9L1030.0 430.2L1030.5 441.0L1031.0 444.4L1031.5 444.6L1032.0 446.9L1032.5 447.3L1033.0 447.4L1033.5 448.5L1034.0 449.6L1034.5 449.1L1035.0 450.2L1035.5 450.0L1036.0 450.9L1036.5 452.2L1037.0 452.4L1037.5 452.0L1038.0 450.7L1038.5 449.6L1039.0 449.7L1039.5 449.7L1040.0 448.9L1040.5 447.8L1041.0 446.8L1041.5 431.7L1042.0 406.4L1042.5 376.1L1043.0 342.0L1043.5 359.1L1044.0 375.9L1044.5 391.5L1045.0 405.9L1045.5 419.1L1046.0 429.6L1046.5 441.0L1047.0 445.9L1047.5 446.0L1048.0 447.9L1048.5 448.0L1049.0 447.3L1049.5 448.2L1050.0 448.7L1050.5 448.9L1051.0 448.6L1051.5 449.0L1052.0 451.0L1052.5 450.5L1053.0 449.7L1053.5 450.4L1054.0 450.1L1054.5 449.0L1055.0 447.5L1055.5 431.3L1056.0 403.8L1056.5 371.4L1057.0 335.0L1057.5 353.9L1058.0 371.5L1058.5 388.3L1059.0 403.5L1059.5 417.4L1060.0 430.2L1060.5 440.4L1061.0 445.7L1061.5 446.8L1062.0 447.3L1062.5 448.2L1063.0 447.7L1063.5 447.7L1064.0 448.1L1064.5 448.6L1065.0 448.2L1065.0 462.5L1064.5 463.1L1064.0 464.0L1063.5 462.0L1063.0 460.5L1062.5 460.5L1062.0 459.6L1061.5 457.9L1061.0 455.9L1060.5 451.4L1060.0 450.9L1059.5 449.8L1059.0 448.6L1058.5 439.9L1058.0 412.4L1057.5 378.5L1057.0 339.0L1056.5 412.3L1056.0 448.8L1055.5 452.0L1055.0 453.5L1054.5 453.9L1054.0 455.1L1053.5 456.7L1053.0 457.7L1052.5 460.4L1052.0 460.8L1051.5 460.3L1051.0 462.7L1050.5 462.2L1050.0 463.4L1049.5 464.0L1049.0 461.0L1048.5 461.3L1048.0 459.1L1047.5 457.7L1047.0 455.6L1046.5 451.8L1046.0 450.1L1045.5 449.2L1045.0 447.7L1044.5 439.4L1044.0 413.8L1043.5 382.1L1043.0 346.0L1042.5 414.0L1042.0 448.3L1041.5 450.9L1041.0 452.5L1040.5 452.4L1040.0 452.6L1039.5 454.4L1039.0 455.6L1038.5 457.0L1038.0 459.5L1037.5 460.4L1037.0 461.8L1036.5 463.6L1036.0 464.3L1035.5 463.5L1035.0 464.3L1034.5 463.9L1034.0 462.7L1033.5 460.6L1033.0 460.0L1032.5 458.2L1032.0 457.2L1031.5 455.1L1031.0 452.6L1030.5 451.3L1030.0 450.2L1029.5 449.3L1029.0 447.8L1028.5 438.6L1028.0 411.6L1027.5 378.9L1027.0 340.7L1026.5 411.8L1026.0 446.8L1025.5 449.8L1025.0 451.1L1024.5 452.2L1024.0 452.9L1023.5 454.3L1023.0 456.7L1022.5 457.7L1022.0 457.9L1021.5 460.2L1021.0 459.7L1020.5 460.9L1020.0 463.6L1019.5 463.1L1019.0 462.0L1018.5 460.2L1018.0 459.6L1017.5 458.2L1017.0 457.8L1016.5 456.8L1016.0 454.6L1015.5 451.3L1015.0 450.3L1014.5 448.8L1014.0 446.6L1013.5 438.1L1013.0 412.4L1012.5 379.7L1012.0 341.5L1011.5 411.5L1011.0 446.3L1010.5 448.6L1010.0 449.9L1009.5 450.1L1009.0 450.7L1008.5 452.9L1008.0 453.6L1007.5 454.2L1007.0 455.4L1006.5 457.8L1006.0 458.4L1005.5 458.2L1005.0 459.2L1004.5 460.2L1004.0 461.9L1003.5 460.6L1003.0 460.3L1002.5 458.6L1002.0 458.9L1001.5 457.0L1001.0 455.5L1000.5 453.2L1000.0 450.6L999.5 448.8L999.0 448.2L998.5 447.6L998.0 445.6L997.5 437.0L997.0 409.5L996.5 375.3L996.0 335.0L995.5 408.8L995.0 445.3L994.5 448.0L994.0 449.3L993.5 450.5L993.0 451.7L992.5 453.5L992.0 454.9L991.5 457.7L991.0 458.7L990.5 458.0L990.0 459.4L989.5 460.0L989.0 461.8L988.5 461.2L988.0 459.3L987.5 458.4L987.0 458.8L986.5 456.6L986.0 455.1L985.5 453.2L985.0 450.1L984.5 447.8L984.0 447.0L983.5 445.2L983.0 443.7L982.5 433.8L982.0 406.2L981.5 371.9L981.0 332.0L980.5 406.4L980.0 443.2L979.5 446.1L979.0 446.8L978.5 447.4L978.0 447.2L977.5 451.0L977.0 451.9L976.5 452.2L976.0 453.2L975.5 454.9L975.0 455.4L974.5 457.2L974.0 457.8L973.5 458.1L973.0 456.5L972.5 455.9L972.0 453.6L971.5 451.9L971.0 450.7L970.5 448.6L970.0 445.8L969.5 444.8L969.0 443.8L968.5 442.4L968.0 433.6L967.5 406.8L967.0 372.8L966.5 333.0L966.0 406.7L965.5 442.8L965.0 445.4L964.5 446.9L964.0 447.4L963.5 447.9L963.0 450.3L962.5 452.0L962.0 452.7L961.5 454.1L961.0 456.1L960.5 455.4L960.0 456.7L959.5 457.0L959.0 458.9L958.5 459.3L958.0 458.1L957.5 458.5L957.0 458.5L956.5 456.6L956.0 455.0L955.5 454.0L955.0 453.8L954.5 451.8L954.0 449.3L953.5 447.8L953.0 447.0L952.5 445.7L952.0 444.4L951.5 435.7L951.0 407.4L950.5 372.8L950.0 333.0L949.5 406.7L949.0 444.0L948.5 446.4L948.0 447.9L947.5 448.3L947.0 448.9L946.5 449.6L946.0 452.1L945.5 452.0L945.0 452.3L944.5 453.7L944.0 455.2L943.5 456.8L943.0 456.7L942.5 457.4L942.0 456.2L941.5 456.0L941.0 454.0L940.5 454.6L940.0 453.6L939.5 450.8L939.0 449.3L938.5 447.9L938.0 444.4L937.5 443.7L937.0 442.2L936.5 440.4L936.0 432.3L935.5 406.2L935.0 373.9L934.5 336.0L934.0 405.5L933.5 440.2L933.0 442.7L932.5 443.6L932.0 444.6L931.5 444.9L931.0 447.5L930.5 449.8L930.0 451.2L929.5 451.1L929.0 453.6L928.5 452.8L928.0 453.4L927.5 455.1L927.0 455.1L926.5 455.4L926.0 454.3L925.5 453.5L925.0 453.7L924.5 450.9L924.0 449.7L923.5 448.5L923.0 446.8L922.5 444.3L922.0 442.0L921.5 440.8L921.0 439.5L920.5 437.7L920.0 428.6L919.5 401.6L919.0 367.8L918.5 329.0L918.0 400.8L917.5 436.7L917.0 438.7L916.5 440.2L916.0 440.5L915.5 440.5L915.0 442.9L914.5 444.1L914.0 445.3L913.5 446.4L913.0 447.6L912.5 448.3L912.0 450.0L911.5 451.1L911.0 450.5L910.5 448.7L910.0 447.7L909.5 447.1L909.0 444.4L908.5 443.7L908.0 440.1L907.5 437.2L907.0 436.3L906.5 435.2L906.0 433.2L905.5 424.4L905.0 397.5L904.5 364.3L904.0 326.0L903.5 397.3L903.0 432.3L902.5 434.8L902.0 436.5L901.5 437.1L901.0 438.2L900.5 440.9L900.0 442.7L899.5 443.2L899.0 445.7L898.5 444.6L898.0 446.0L897.5 447.8L897.0 448.2L896.5 446.9L896.0 446.2L895.5 446.0L895.0 443.9L894.5 441.4L894.0 440.2L893.5 438.2L893.0 435.2L892.5 434.4L892.0 433.7L891.5 432.0L891.0 422.7L890.5 394.5L890.0 359.8L889.5 319.7L889.0 395.4L888.5 433.1L888.0 436.0L887.5 437.2L887.0 437.3L886.5 437.6L886.0 439.9L885.5 440.4L885.0 442.2L884.5 444.9L884.0 444.5L883.5 446.0L883.0 449.0L882.5 447.8L882.0 450.0L881.5 449.9L881.0 450.3L880.5 449.0L880.0 447.9L879.5 446.5L879.0 446.5L878.5 445.8L878.0 444.4L877.5 441.4L877.0 438.4L876.5 437.4L876.0 436.7L875.5 434.9L875.0 425.5L874.5 396.7L874.0 361.6L873.5 320.5L873.0 396.6L872.5 434.3L872.0 437.3L871.5 438.3L871.0 439.3L870.5 440.0L870.0 442.1L869.5 443.2L869.0 443.9L868.5 445.0L868.0 446.2L867.5 447.5L867.0 447.1L866.5 449.9L866.0 449.0L865.5 448.5L865.0 448.6L864.5 445.7L864.0 444.8L863.5 443.6L863.0 441.5L862.5 438.7L862.0 437.4L861.5 437.2L861.0 436.1L860.5 434.6L860.0 426.0L859.5 399.1L859.0 365.9L858.5 327.5L858.0 399.9L857.5 436.0L857.0 438.9L856.5 440.4L856.0 440.7L855.5 441.4L855.0 442.8L854.5 445.3L854.0 447.6L853.5 447.5L853.0 447.6L852.5 449.9L852.0 450.9L851.5 451.4L851.0 451.2L850.5 450.5L850.0 450.9L849.5 450.2L849.0 449.4L848.5 446.3L848.0 445.1L847.5 443.4L847.0 441.7L846.5 438.3L846.0 437.5L845.5 436.7L845.0 434.6L844.5 425.5L844.0 398.1L843.5 363.9L843.0 324.0L842.5 397.9L842.0 434.5L841.5 437.5L841.0 438.7L840.5 439.0L840.0 439.7L839.5 440.9L839.0 443.0L838.5 444.1L838.0 444.0L837.5 446.0L837.0 447.3L836.5 448.2L836.0 448.4L835.5 448.9L835.0 449.2L834.5 448.3L834.0 447.3L833.5 447.4L833.0 446.3L832.5 444.8L832.0 443.1L831.5 441.4L831.0 438.4L830.5 436.1L830.0 435.6L829.5 434.4L829.0 432.3L828.5 422.8L828.0 394.2L827.5 358.8L827.0 318.0L826.5 394.2L826.0 432.1L825.5 435.3L825.0 436.1L824.5 437.0L824.0 437.7L823.5 439.1L823.0 440.0L822.5 441.4L822.0 441.3L821.5 442.4L821.0 444.3L820.5 443.8L820.0 443.6L819.5 444.6L819.0 445.3L818.5 445.2L818.0 446.3L817.5 445.4L817.0 445.9L816.5 444.0L816.0 443.6L815.5 441.4L815.0 440.2L814.5 439.1L814.0 438.9L813.5 435.0L813.0 434.2L812.5 433.3L812.0 431.8L811.5 429.8L811.0 420.3L810.5 391.8L810.0 356.5L809.5 315.0L809.0 391.2L808.5 429.3L808.0 432.8L807.5 434.5L807.0 434.5L806.5 434.8L806.0 435.5L805.5 436.6L805.0 437.8L804.5 439.8L804.0 440.6L803.5 441.6L803.0 440.3L802.5 442.3L802.0 441.5L801.5 442.2L801.0 443.9L800.5 444.1L800.0 443.9L799.5 444.1L799.0 444.7L798.5 443.0L798.0 444.3L797.5 442.2L797.0 442.3L796.5 442.4L796.0 440.8L795.5 439.3L795.0 438.7L794.5 438.2L794.0 435.3L793.5 435.0L793.0 434.0L792.5 433.1L792.0 432.3L791.5 430.7L791.0 419.8L790.5 387.6L790.0 347.5L789.5 301.0L789.0 388.1L788.5 431.2L788.0 435.1L787.5 437.3L787.0 438.1L786.5 438.2L786.0 438.7L785.5 440.5L785.0 441.5L784.5 442.7L784.0 443.3L783.5 444.5L783.0 444.3L782.5 445.4L782.0 444.8L781.5 446.2L781.0 446.7L780.5 446.3L780.0 444.8L779.5 443.2L779.0 443.4L778.5 441.8L778.0 439.6L777.5 439.4L777.0 437.4L776.5 434.5L776.0 433.2L775.5 431.0L775.0 429.3L774.5 429.0L774.0 427.2L773.5 425.6L773.0 423.4L772.5 412.9L772.0 383.6L771.5 348.2L771.0 307.0L770.5 384.1L770.0 421.6L769.5 424.3L769.0 425.7L768.5 426.3L768.0 426.7L767.5 425.9L767.0 428.1L766.5 428.2L766.0 430.0L765.5 430.0L765.0 431.1L764.5 431.4L764.0 431.9L763.5 432.1L763.0 432.9L762.5 433.9L762.0 433.6L761.5 434.8L761.0 432.3L760.5 432.3L760.0 432.1L759.5 429.3L759.0 429.3L758.5 427.8L758.0 428.0L757.5 426.9L757.0 424.2L756.5 423.5L756.0 419.7L755.5 419.2L755.0 418.9L754.5 417.8L754.0 416.4L753.5 414.5L753.0 405.6L752.5 379.5L752.0 347.1L751.5 309.6L751.0 379.0L750.5 413.4L750.0 415.6L749.5 416.7L749.0 417.2L748.5 419.0L748.0 419.1L747.5 421.4L747.0 422.2L746.5 422.6L746.0 425.2L745.5 424.5L745.0 426.1Z" fill="url(#gB3)" stroke="url(#gB3)" stroke-width="1.9" stroke-linejoin="round"/>
<line x1="77" y1="486" x2="1067" y2="486" stroke="#000" stroke-width="4.5"/>
<line x1="256" y1="516.5" x2="660" y2="516.5" stroke="#000" stroke-width="4.5"/>
<text transform="translate(16.2 384) scale(1.04 1)" font-size="64" font-weight="bold" fill="#000">B</text>
<text x="256" y="570" font-size="43.7" text-anchor="start" fill="#000" font-weight="bold">JYGCT 5 mg/ml</text>
<text x="739.5" y="538" font-size="43.6" text-anchor="start" fill="#000" font-weight="bold">ODQ 10 µM</text>
<line x1="1079.5" y1="304" x2="1124" y2="304" stroke="#000" stroke-width="5"/>
<line x1="1101.7" y1="304" x2="1101.7" y2="448.5" stroke="#000" stroke-width="5.2"/>
<line x1="1079.5" y1="448.5" x2="1124" y2="448.5" stroke="#000" stroke-width="5"/>
<text x="1130" y="319" font-size="43" text-anchor="start" fill="#000" font-weight="bold">-32 mV</text>
<text x="1130" y="464" font-size="43" text-anchor="start" fill="#000" font-weight="bold">-57 mV</text>
<line x1="72" y1="783" x2="1060" y2="783" stroke="#000" stroke-width="3.6" stroke-dasharray="14 10.4"/>
<path d="M71.5 733.9L72.0 735.5L72.5 743.0L73.0 749.7L73.5 758.9L74.0 766.2L74.5 770.5L75.0 772.2L75.5 773.4L76.0 772.4L76.5 771.3L77.0 772.1L77.5 772.4L78.0 770.2L78.5 770.5L79.0 766.3L79.5 743.3L80.0 715.9L80.5 683.2L81.0 647.0L81.5 667.6L82.0 687.7L82.5 704.9L83.0 721.7L83.5 736.2L84.0 750.7L84.5 760.6L85.0 765.4L85.5 765.1L86.0 766.3L86.5 767.3L87.0 768.2L87.5 769.0L88.0 768.9L88.5 768.4L89.0 768.5L89.5 770.8L90.0 769.9L90.5 771.3L91.0 770.9L91.5 770.0L92.0 771.0L92.5 770.4L93.0 770.1L93.5 770.7L94.0 768.6L94.5 765.1L95.0 743.3L95.5 715.3L96.0 682.9L96.5 646.5L97.0 666.5L97.5 686.7L98.0 705.0L98.5 721.2L99.0 734.9L99.5 748.1L100.0 760.2L100.5 767.3L101.0 767.8L101.5 767.9L102.0 769.0L102.5 768.0L103.0 770.4L103.5 768.9L104.0 767.7L104.5 761.9L105.0 742.3L105.5 715.8L106.0 684.3L106.5 649.0L107.0 670.0L107.5 689.1L108.0 706.4L108.5 722.9L109.0 738.3L109.5 752.2L110.0 762.9L110.5 768.4L111.0 768.2L111.5 769.9L112.0 768.7L112.5 769.9L113.0 771.1L113.5 772.5L114.0 772.3L114.5 771.4L115.0 772.1L115.5 773.1L116.0 771.5L116.5 771.2L117.0 770.7L117.5 771.4L118.0 771.3L118.5 772.5L119.0 771.2L119.5 770.4L120.0 770.9L120.5 770.9L121.0 770.5L121.5 768.4L122.0 764.8L122.5 743.3L123.0 715.7L123.5 683.2L124.0 648.0L124.5 667.8L125.0 686.1L125.5 703.6L126.0 719.7L126.5 733.9L127.0 748.3L127.5 758.2L128.0 762.6L128.5 764.5L129.0 765.1L129.5 767.0L130.0 766.4L130.5 767.5L131.0 766.4L131.5 767.9L132.0 768.3L132.5 766.9L133.0 766.3L133.5 765.7L134.0 763.0L134.5 741.9L135.0 714.7L135.5 683.0L136.0 647.0L136.5 666.7L137.0 685.7L137.5 703.4L138.0 720.4L138.5 735.9L139.0 749.7L139.5 760.7L140.0 766.0L140.5 766.3L141.0 768.7L141.5 768.6L142.0 770.3L142.5 772.0L143.0 774.2L143.5 774.8L144.0 773.7L144.5 774.2L145.0 775.1L145.5 775.2L146.0 773.8L146.5 774.1L147.0 773.2L147.5 774.0L148.0 774.0L148.5 772.7L149.0 768.9L149.5 746.5L150.0 717.1L150.5 684.6L151.0 647.0L151.5 667.9L152.0 686.6L152.5 703.8L153.0 720.6L153.5 736.4L154.0 751.5L154.5 763.5L155.0 768.1L155.5 768.1L156.0 770.3L156.5 770.4L157.0 771.9L157.5 772.0L158.0 771.9L158.5 771.5L159.0 769.0L159.5 770.6L160.0 770.8L160.5 771.7L161.0 771.4L161.5 770.2L162.0 771.1L162.5 771.4L163.0 769.7L163.5 767.9L164.0 767.5L164.5 765.7L165.0 762.4L165.5 741.6L166.0 715.5L166.5 685.7L167.0 652.0L167.5 672.3L168.0 690.4L168.5 708.1L169.0 723.9L169.5 738.6L170.0 752.0L170.5 760.4L171.0 767.5L171.5 767.3L172.0 768.9L172.5 770.3L173.0 770.9L173.5 773.5L174.0 772.9L174.5 774.4L175.0 774.7L175.5 775.1L176.0 776.9L176.5 777.0L177.0 775.4L177.5 776.0L178.0 775.9L178.5 774.4L179.0 774.3L179.5 772.2L180.0 768.1L180.5 747.0L181.0 719.4L181.5 688.0L182.0 652.0L182.5 672.7L183.0 691.5L183.5 708.6L184.0 724.9L184.0 772.7L183.5 763.2L183.0 734.7L182.5 698.6L182.0 656.0L181.5 728.4L181.0 772.2L180.5 775.5L180.0 776.8L179.5 777.8L179.0 780.3L178.5 783.4L178.0 784.0L177.5 785.5L177.0 787.1L176.5 790.3L176.0 790.4L175.5 790.0L175.0 792.6L174.5 791.9L174.0 791.7L173.5 789.1L173.0 787.7L172.5 785.1L172.0 782.6L171.5 781.6L171.0 779.0L170.5 773.4L170.0 773.0L169.5 771.5L169.0 769.7L168.5 760.4L168.0 731.9L167.5 697.2L167.0 656.0L166.5 724.4L166.0 766.1L165.5 768.9L165.0 770.8L164.5 771.1L164.0 773.9L163.5 776.4L163.0 777.9L162.5 781.7L162.0 782.5L161.5 783.5L161.0 784.8L160.5 785.1L160.0 785.9L159.5 787.7L159.0 788.5L158.5 788.9L158.0 787.5L157.5 787.0L157.0 786.2L156.5 785.5L156.0 784.0L155.5 780.7L155.0 780.0L154.5 775.2L154.0 774.2L153.5 772.0L153.0 770.1L152.5 760.4L152.0 731.3L151.5 694.6L151.0 651.0L150.5 726.5L150.0 771.8L149.5 776.0L149.0 777.9L148.5 778.5L148.0 781.1L147.5 782.6L147.0 784.8L146.5 787.0L146.0 786.4L145.5 787.2L145.0 788.3L144.5 790.4L144.0 791.6L143.5 793.4L143.0 791.2L142.5 789.0L142.0 786.2L141.5 786.0L141.0 782.1L140.5 780.9L140.0 779.5L139.5 773.3L139.0 771.7L138.5 770.4L138.0 768.4L137.5 758.3L137.0 729.1L136.5 692.7L136.0 651.0L135.5 723.6L135.0 767.7L134.5 770.5L134.0 771.8L133.5 773.7L133.0 775.7L132.5 779.3L132.0 780.2L131.5 781.3L131.0 784.1L130.5 784.8L130.0 785.0L129.5 785.1L129.0 783.1L128.5 781.9L128.0 778.6L127.5 775.0L127.0 770.2L126.5 769.5L126.0 766.9L125.5 757.6L125.0 728.8L124.5 693.4L124.0 652.0L123.5 723.2L123.0 767.9L122.5 771.5L122.0 773.5L121.5 774.0L121.0 775.1L120.5 775.5L120.0 779.3L119.5 780.6L119.0 781.8L118.5 784.5L118.0 784.4L117.5 784.7L117.0 785.8L116.5 786.5L116.0 789.2L115.5 790.2L115.0 790.8L114.5 788.3L114.0 788.2L113.5 786.4L113.0 784.6L112.5 784.5L112.0 781.8L111.5 781.6L111.0 779.1L110.5 777.8L110.0 774.1L109.5 774.1L109.0 772.7L108.5 770.8L108.0 761.2L107.5 732.4L107.0 696.0L106.5 653.0L106.0 724.8L105.5 768.7L105.0 770.9L104.5 773.8L104.0 779.0L103.5 783.3L103.0 785.3L102.5 785.6L102.0 787.3L101.5 788.9L101.0 786.2L100.5 784.8L100.0 778.3L99.5 771.5L99.0 770.7L98.5 769.9L98.0 760.8L97.5 730.8L97.0 692.9L96.5 650.5L96.0 724.1L95.5 769.2L95.0 772.4L94.5 774.1L94.0 774.4L93.5 777.8L93.0 779.5L92.5 780.0L92.0 781.3L91.5 783.5L91.0 783.5L90.5 785.4L90.0 786.9L89.5 786.8L89.0 787.0L88.5 785.1L88.0 785.1L87.5 784.2L87.0 784.4L86.5 782.7L86.0 782.2L85.5 778.9L85.0 779.4L84.5 773.0L84.0 773.0L83.5 771.1L83.0 770.3L82.5 760.6L82.0 731.6L81.5 693.9L81.0 651.0L80.5 724.3L80.0 769.7L79.5 772.3L79.0 775.2L78.5 778.1L78.0 780.3L77.5 783.4L77.0 783.7L76.5 784.6L76.0 786.5L75.5 788.4L75.0 788.3L74.5 789.0L74.0 780.4L73.5 773.6L73.0 761.8L72.5 753.3L72.0 747.1L71.5 743.4Z" fill="url(#gC1)" stroke="url(#gC1)" stroke-width="2.6" stroke-linejoin="round"/>
<path d="M183.5 703.2L184.0 705.6L184.5 705.0L185.0 707.1L185.5 706.2L186.0 709.0L186.5 711.2L187.0 716.3L187.5 719.3L188.0 726.6L188.5 734.5L189.0 743.4L189.5 749.9L190.0 757.4L190.5 753.2L191.0 749.3L191.5 743.7L192.0 741.8L192.5 738.3L193.0 728.3L193.5 725.9L194.0 724.6L194.5 725.5L195.0 720.0L195.5 718.4L196.0 718.5L196.5 717.3L197.0 715.8L197.5 716.3L198.0 719.5L198.5 727.3L199.0 727.8L199.5 729.3L200.0 733.5L200.5 741.4L201.0 746.3L201.5 752.9L202.0 754.5L202.5 757.2L203.0 758.1L203.5 760.2L204.0 762.9L204.5 762.5L205.0 755.9L205.5 747.2L206.0 735.6L206.5 729.3L207.0 719.4L207.5 711.5L208.0 703.8L208.5 699.6L209.0 698.6L209.5 703.1L210.0 706.0L210.5 707.5L211.0 711.6L211.5 714.7L212.0 719.2L212.5 724.7L213.0 730.5L213.5 734.1L214.0 737.3L214.5 742.2L215.0 748.6L215.5 752.0L216.0 757.3L216.5 759.7L217.0 759.6L217.5 761.7L218.0 763.6L218.5 765.3L219.0 763.8L219.5 762.6L220.0 758.2L220.5 750.5L221.0 745.2L221.5 740.8L222.0 732.0L222.5 731.8L223.0 731.9L223.5 731.2L224.0 727.5L224.5 720.2L225.0 714.4L225.5 709.0L226.0 708.6L226.5 710.7L227.0 712.7L227.5 715.1L228.0 715.3L228.5 716.2L229.0 717.8L229.5 722.3L230.0 723.1L230.5 730.5L231.0 732.8L231.5 734.2L232.0 734.3L232.5 736.8L233.0 741.1L233.5 745.6L234.0 747.5L234.5 750.8L235.0 750.8L235.5 750.1L236.0 746.3L236.5 741.2L237.0 735.5L237.5 726.7L238.0 726.6L238.5 720.2L239.0 715.0L239.5 710.2L240.0 706.0L240.5 708.3L241.0 710.8L241.5 712.8L242.0 711.6L242.5 710.8L243.0 712.6L243.5 715.6L244.0 720.4L244.5 725.5L245.0 730.2L245.5 731.6L246.0 732.9L246.5 736.6L247.0 739.1L247.5 743.2L248.0 742.8L248.5 747.0L249.0 747.9L249.5 748.5L250.0 746.8L250.5 746.7L251.0 746.1L251.5 744.2L252.0 738.5L252.5 733.8L253.0 730.7L253.5 729.8L254.0 725.5L254.5 725.2L255.0 725.8L255.5 725.4L256.0 724.8L256.5 722.4L257.0 718.4L257.5 715.1L258.0 711.6L258.5 710.4L259.0 706.1L259.5 703.9L260.0 706.1L260.5 708.5L261.0 706.4L261.5 704.8L262.0 707.4L262.5 710.2L263.0 715.6L263.5 717.4L264.0 724.3L264.5 725.9L265.0 723.4L265.5 730.6L266.0 733.8L266.5 736.9L267.0 733.9L267.5 737.2L268.0 736.7L268.5 740.3L269.0 737.6L269.5 736.5L270.0 735.2L270.5 733.4L271.0 730.8L271.5 726.9L272.0 725.4L272.5 726.7L273.0 726.6L273.5 725.7L274.0 726.7L274.5 725.7L275.0 725.0L275.5 724.1L276.0 722.0L276.5 723.1L277.0 725.1L277.5 725.4L278.0 727.6L278.5 726.4L279.0 726.7L279.5 726.0L280.0 726.6L280.5 725.1L281.0 723.2L281.5 725.3L282.0 725.9L282.5 726.1L283.0 724.1L283.5 724.3L284.0 724.5L284.5 724.4L285.0 723.9L285.5 721.7L286.0 721.5L286.5 723.0L287.0 723.1L287.5 722.8L288.0 723.6L288.5 721.1L289.0 720.2L289.5 718.5L290.0 718.7L290.5 717.0L291.0 718.1L291.5 719.3L292.0 719.8L292.5 720.9L293.0 722.7L293.5 722.7L294.0 720.6L294.5 722.0L295.0 719.3L295.5 720.0L296.0 718.0L296.5 719.0L297.0 718.0L297.5 719.5L298.0 720.8L298.5 719.3L299.0 717.1L299.5 716.8L300.0 717.5L300.5 718.4L301.0 717.6L301.5 718.0L302.0 719.7L302.5 718.9L303.0 718.1L303.5 717.5L304.0 719.9L304.5 718.6L305.0 718.5L305.5 720.9L306.0 722.6L306.5 723.1L307.0 722.4L307.5 721.0L308.0 720.1L308.5 718.4L309.0 717.4L309.5 716.2L310.0 715.8L310.5 716.0L311.0 717.8L311.5 721.3L312.0 725.0L312.5 725.4L313.0 725.5L313.5 723.3L314.0 718.8L314.5 718.9L315.0 721.7L315.5 721.3L316.0 721.0L316.5 716.8L317.0 720.2L317.5 719.3L318.0 720.4L318.5 720.4L319.0 721.0L319.5 724.4L320.0 721.9L320.5 721.0L321.0 719.4L321.5 717.3L322.0 719.7L322.5 714.8L323.0 716.9L323.5 716.4L324.0 717.9L324.5 716.4L325.0 712.4L325.5 715.5L326.0 715.6L326.5 716.6L327.0 718.1L327.5 718.0L328.0 718.7L328.5 714.7L329.0 715.4L329.5 716.9L330.0 717.8L330.5 714.4L331.0 716.4L331.5 716.9L332.0 721.9L332.5 719.6L333.0 718.6L333.5 714.7L334.0 714.1L334.5 711.8L335.0 709.7L335.5 708.5L336.0 705.2L336.5 705.7L337.0 705.2L337.5 707.2L338.0 706.5L338.5 708.2L339.0 710.1L339.5 715.1L340.0 719.4L340.5 720.3L341.0 721.3L341.5 717.4L342.0 719.0L342.5 715.3L343.0 723.2L343.5 725.8L344.0 728.3L344.5 731.5L345.0 733.0L345.5 732.5L346.0 730.5L346.5 731.6L347.0 733.5L347.5 732.6L348.0 731.0L348.5 725.2L349.0 728.4L349.5 727.7L350.0 729.5L350.5 724.8L351.0 724.5L351.5 726.1L352.0 726.0L352.5 725.0L353.0 724.1L353.5 727.2L354.0 731.3L354.5 733.1L355.0 730.4L355.5 730.6L356.0 729.3L356.5 730.4L357.0 731.2L357.5 731.1L358.0 730.9L358.5 733.3L359.0 729.9L359.5 732.0L360.0 729.1L360.5 731.3L361.0 730.2L361.5 732.7L362.0 732.4L362.5 728.4L363.0 726.0L363.5 727.5L364.0 727.3L364.5 727.5L365.0 722.8L365.5 725.6L366.0 725.4L366.5 726.9L367.0 728.0L367.5 730.8L368.0 730.6L368.5 733.5L369.0 735.3L369.5 736.5L370.0 733.0L370.5 730.8L371.0 729.2L371.5 728.9L372.0 724.9L372.5 723.9L373.0 721.8L373.5 724.8L374.0 724.2L374.5 726.4L375.0 727.2L375.5 724.8L376.0 719.4L376.5 713.5L377.0 710.4L377.5 709.3L378.0 709.4L378.5 705.5L379.0 704.6L379.5 698.9L380.0 699.7L380.5 701.6L381.0 703.7L381.5 705.4L382.0 705.9L382.5 707.5L383.0 709.7L383.5 711.5L384.0 714.1L384.5 717.5L385.0 714.8L385.5 718.1L386.0 715.4L386.5 721.7L387.0 724.6L387.5 728.9L388.0 731.3L388.5 733.6L389.0 737.9L389.5 736.2L390.0 737.0L390.5 737.1L391.0 733.0L391.5 731.2L392.0 731.6L392.5 731.7L393.0 727.4L393.5 725.5L394.0 718.8L394.5 715.9L395.0 714.3L395.5 718.8L396.0 718.2L396.5 716.9L397.0 711.4L397.5 708.2L398.0 705.8L398.5 705.6L399.0 703.8L399.5 706.5L400.0 705.8L400.5 712.3L401.0 713.5L401.5 715.3L402.0 713.3L402.5 713.7L403.0 718.6L403.5 721.5L404.0 725.2L404.5 722.7L405.0 723.8L405.5 725.0L406.0 723.3L406.5 726.8L407.0 726.5L407.5 727.8L408.0 728.4L408.5 731.1L409.0 734.4L409.5 737.9L410.0 739.0L410.5 738.6L411.0 738.9L411.5 735.0L412.0 735.0L412.5 731.2L413.0 730.6L413.5 727.2L414.0 726.5L414.5 725.3L415.0 723.0L415.5 719.8L416.0 721.4L416.5 720.7L417.0 720.1L417.5 718.8L418.0 718.7L418.5 718.3L419.0 716.7L419.5 712.1L420.0 710.5L420.5 708.6L421.0 704.9L421.5 704.0L422.0 704.6L422.5 705.9L423.0 705.2L423.5 710.1L424.0 705.9L424.5 708.0L425.0 707.1L425.5 708.4L426.0 712.8L426.5 714.1L427.0 717.2L427.5 720.7L428.0 723.0L428.5 723.5L429.0 721.0L429.5 722.4L430.0 720.8L430.5 720.7L431.0 721.5L431.5 722.0L432.0 718.9L432.5 716.8L433.0 716.4L433.5 717.9L434.0 717.0L434.5 720.3L435.0 720.9L435.5 724.3L436.0 727.3L436.5 728.3L437.0 727.8L437.5 730.8L438.0 732.8L438.5 734.1L439.0 733.4L439.5 736.2L440.0 735.4L440.5 737.3L441.0 736.3L441.5 733.4L442.0 730.0L442.5 729.9L443.0 727.0L443.5 721.0L444.0 713.7L444.5 717.0L445.0 719.0L445.5 720.1L446.0 713.2L446.5 707.7L447.0 701.3L447.5 697.9L448.0 695.1L448.5 693.8L449.0 692.2L449.5 693.7L450.0 695.4L450.5 694.4L451.0 694.6L451.5 695.5L452.0 699.0L452.5 699.1L453.0 700.3L453.5 704.3L454.0 709.3L454.5 710.0L455.0 714.3L455.5 714.0L456.0 714.3L456.5 711.4L457.0 711.4L457.5 712.1L458.0 716.7L458.5 717.1L459.0 715.4L459.5 719.1L460.0 722.8L460.5 722.3L461.0 720.0L461.5 719.2L462.0 718.8L462.5 719.7L463.0 717.9L463.5 716.5L464.0 718.2L464.5 716.2L465.0 716.8L465.5 712.5L466.0 712.5L466.5 711.8L467.0 711.0L467.5 709.6L468.0 710.6L468.5 710.1L469.0 710.9L469.5 711.5L470.0 712.6L470.5 713.3L471.0 712.9L471.5 712.9L472.0 711.2L472.5 708.6L473.0 701.7L473.5 696.7L474.0 693.7L474.5 691.3L475.0 692.3L475.5 690.7L476.0 691.7L476.5 691.2L477.0 693.1L477.5 691.4L478.0 693.2L478.5 695.1L479.0 696.7L479.5 700.1L480.0 702.2L480.5 708.6L481.0 706.7L481.5 707.7L482.0 707.4L482.5 708.1L483.0 710.1L483.5 716.3L484.0 716.0L484.5 720.9L485.0 721.1L485.5 725.1L486.0 724.3L486.5 728.4L487.0 730.9L487.5 734.4L488.0 733.3L488.5 730.0L489.0 725.4L489.5 722.2L490.0 718.7L490.5 713.5L491.0 706.8L491.5 704.4L492.0 708.7L492.5 705.0L493.0 701.4L493.5 696.8L494.0 693.4L494.5 691.0L495.0 691.2L495.5 692.5L496.0 692.1L496.5 692.8L497.0 692.6L497.5 693.8L498.0 694.4L498.5 696.8L499.0 700.2L499.5 701.0L500.0 704.6L500.5 706.5L501.0 711.3L501.5 708.9L502.0 711.1L502.5 710.0L503.0 709.5L503.5 710.4L504.0 710.3L504.5 714.2L505.0 716.4L505.5 716.5L506.0 717.8L506.5 719.3L507.0 723.6L507.5 727.5L508.0 726.7L508.5 730.9L509.0 728.7L509.5 729.7L510.0 730.1L510.5 733.7L511.0 730.7L511.5 725.6L512.0 725.6L512.5 722.4L513.0 720.4L513.5 718.7L514.0 720.6L514.5 716.9L515.0 705.2L515.5 700.6L516.0 700.1L516.5 698.4L517.0 696.0L517.5 691.1L518.0 689.1L518.5 689.6L519.0 693.6L519.5 697.4L520.0 701.4L520.5 711.3L521.0 718.9L521.5 719.8L522.0 719.4L522.5 721.3L523.0 726.2L523.5 728.2L524.0 728.2L524.5 726.7L525.0 727.3L525.5 728.4L526.0 726.1L526.5 728.1L527.0 726.4L527.5 726.9L528.0 728.0L528.5 727.0L529.0 726.9L529.5 722.0L530.0 719.9L530.5 720.2L531.0 718.9L531.5 718.9L532.0 719.8L532.5 720.0L533.0 715.9L533.5 714.6L534.0 711.9L534.5 714.0L535.0 716.3L535.5 716.4L536.0 714.8L536.5 712.6L537.0 717.3L537.5 714.1L538.0 711.8L538.5 712.4L539.0 714.3L539.5 716.3L540.0 716.9L540.5 712.7L541.0 707.9L541.5 706.2L542.0 706.3L542.5 708.7L543.0 703.2L543.5 699.6L544.0 696.4L544.5 695.1L545.0 694.5L545.5 694.5L546.0 694.1L546.5 694.5L547.0 697.1L547.5 698.4L548.0 702.1L548.5 704.7L549.0 707.9L549.5 706.5L550.0 711.2L550.5 713.1L551.0 715.9L551.5 713.9L552.0 716.1L552.5 716.3L553.0 717.8L553.5 717.5L554.0 715.0L554.5 715.9L555.0 713.7L555.5 716.1L556.0 718.2L556.5 714.0L557.0 715.0L557.5 717.2L558.0 721.6L558.5 725.0L559.0 730.7L559.5 730.1L560.0 732.5L560.5 731.6L561.0 733.2L561.5 734.1L562.0 733.2L562.5 733.6L563.0 730.8L563.5 731.3L564.0 729.0L564.5 724.3L565.0 719.8L565.5 717.6L566.0 719.3L566.5 718.3L567.0 716.1L567.5 713.3L568.0 708.5L568.5 704.5L569.0 700.8L569.5 699.9L570.0 695.0L570.5 693.5L571.0 693.0L571.5 695.2L572.0 697.4L572.5 703.1L573.0 704.1L573.5 707.6L574.0 711.3L574.5 715.5L575.0 715.6L575.5 722.1L576.0 722.8L576.5 726.0L577.0 724.1L577.5 723.1L578.0 722.6L578.5 723.2L579.0 724.8L579.5 730.2L580.0 734.3L580.5 735.4L581.0 733.7L581.5 732.4L582.0 735.7L582.5 736.4L583.0 740.8L583.5 740.6L584.0 740.0L584.5 735.7L585.0 733.3L585.5 732.5L586.0 731.2L586.5 732.2L587.0 727.7L587.5 729.8L588.0 731.1L588.5 731.2L589.0 727.7L589.5 724.9L590.0 724.3L590.5 726.3L591.0 728.4L591.5 728.0L592.0 725.8L592.5 726.2L593.0 725.6L593.5 723.6L594.0 723.6L594.5 723.8L595.0 724.3L595.5 726.2L596.0 725.2L596.5 726.8L597.0 728.6L597.5 725.1L598.0 725.8L598.5 726.4L599.0 724.2L599.5 721.9L600.0 718.3L600.5 718.2L601.0 712.9L601.5 712.2L602.0 712.8L602.5 714.9L603.0 711.1L603.5 710.3L604.0 709.5L604.5 708.3L605.0 707.7L605.5 714.4L606.0 719.8L606.5 723.9L607.0 721.6L607.5 721.9L608.0 724.5L608.5 727.7L609.0 728.5L609.5 730.3L610.0 729.0L610.5 732.8L611.0 731.5L611.5 733.9L612.0 731.9L612.5 729.5L613.0 728.5L613.5 727.3L614.0 728.4L614.5 728.4L615.0 726.4L615.5 722.2L616.0 722.9L616.5 724.5L617.0 725.9L617.5 726.9L618.0 725.1L618.5 723.2L619.0 723.6L619.5 722.8L620.0 726.4L620.5 723.5L621.0 726.8L621.5 725.6L622.0 729.3L622.5 729.2L623.0 729.3L623.5 727.9L624.0 725.9L624.5 724.9L625.0 724.4L625.5 724.0L626.0 722.3L626.5 720.9L627.0 724.0L627.5 723.6L628.0 726.0L628.5 724.6L629.0 724.2L629.5 722.5L630.0 721.7L630.5 720.1L631.0 719.7L631.5 723.3L632.0 725.0L632.5 726.2L633.0 726.8L633.5 729.1L634.0 726.3L634.5 722.3L635.0 721.9L635.5 722.4L636.0 726.0L636.5 726.3L637.0 727.8L637.5 727.9L638.0 722.3L638.5 724.2L639.0 723.9L639.5 724.4L640.0 724.2L640.5 724.6L641.0 721.8L641.5 725.9L642.0 723.8L642.5 725.5L643.0 723.1L643.5 721.0L644.0 721.0L644.5 723.9L645.0 724.4L645.5 724.3L646.0 722.2L646.5 722.9L647.0 722.7L647.5 724.1L648.0 723.9L648.5 726.2L649.0 724.5L649.5 726.7L650.0 724.2L650.5 725.8L651.0 724.7L651.5 727.4L652.0 725.1L652.5 727.3L653.0 726.6L653.5 726.9L654.0 725.7L654.5 722.3L655.0 723.1L655.5 721.7L656.0 724.9L656.5 723.5L657.0 723.5L657.5 722.9L658.0 723.1L658.5 725.9L659.0 727.2L659.5 728.1L660.0 727.7L660.5 726.4L661.0 728.9L661.5 727.3L662.0 731.3L662.5 733.5L663.0 732.4L663.5 732.4L664.0 732.9L664.5 730.2L665.0 729.0L665.5 728.1L666.0 728.6L666.5 729.3L667.0 728.2L667.5 728.9L668.0 729.8L668.5 732.3L669.0 731.7L669.5 732.7L670.0 735.1L670.5 736.1L671.0 738.5L671.5 738.8L672.0 738.4L672.5 737.1L673.0 739.0L673.5 737.7L674.0 737.8L674.5 736.0L675.0 739.3L675.5 740.9L676.0 743.2L676.5 743.2L677.0 745.7L677.5 743.8L678.0 743.7L678.5 741.7L679.0 740.7L679.5 742.7L680.0 741.8L680.5 743.7L681.0 742.3L681.5 740.5L682.0 743.4L682.5 745.5L683.0 745.9L683.5 742.2L684.0 742.5L684.5 740.8L685.0 745.6L685.5 743.3L686.0 742.3L686.5 738.0L687.0 739.2L687.5 741.3L688.0 737.9L688.5 734.4L689.0 724.7L689.5 714.1L690.0 699.8L690.5 675.1L691.0 691.5L691.5 703.0L692.0 711.9L692.5 721.3L693.0 728.2L693.5 732.7L694.0 733.4L694.5 739.4L695.0 739.6L695.5 742.0L696.0 740.0L696.5 741.0L697.0 741.7L697.5 743.0L698.0 742.5L698.5 746.8L699.0 744.9L699.5 747.1L700.0 744.0L700.5 747.8L701.0 749.1L701.5 751.0L702.0 749.2L702.5 746.4L703.0 744.4L703.5 744.5L704.0 746.0L704.5 748.5L705.0 746.1L705.5 745.6L706.0 746.1L706.5 748.4L707.0 747.3L707.5 743.1L708.0 743.2L708.5 746.8L709.0 750.0L709.5 746.5L710.0 746.5L710.5 742.6L711.0 746.9L711.5 746.4L712.0 744.3L712.5 739.4L713.0 740.1L713.5 737.4L714.0 738.3L714.5 735.3L715.0 731.1L715.5 725.0L716.0 713.2L716.5 700.6L717.0 675.3L717.5 692.7L718.0 702.7L718.5 713.7L719.0 721.2L719.5 728.2L720.0 733.9L720.5 736.9L721.0 736.3L721.5 739.3L722.0 736.1L722.5 735.9L723.0 736.1L723.5 740.5L724.0 743.1L724.5 741.0L725.0 741.9L725.5 741.0L726.0 739.7L726.5 741.3L727.0 742.6L727.5 745.9L728.0 745.7L728.5 745.5L729.0 744.9L729.5 742.3L730.0 738.4L730.5 739.8L731.0 739.3L731.5 740.5L732.0 741.7L732.5 742.1L733.0 742.7L733.5 738.2L734.0 739.5L734.5 741.8L735.0 741.7L735.5 741.8L736.0 740.5L736.5 740.1L737.0 736.7L737.5 739.4L738.0 740.8L738.5 744.1L739.0 743.1L739.5 746.6L740.0 747.5L740.5 745.6L741.0 741.9L741.5 740.6L742.0 738.9L742.5 737.3L743.0 740.0L743.5 741.7L744.0 738.8L744.5 743.1L745.0 741.8L745.5 743.0L746.0 740.6L746.5 742.6L747.0 743.6L747.5 745.9L748.0 744.0L748.5 741.1L749.0 739.9L749.5 739.4L750.0 741.4L750.0 753.7L749.5 751.8L749.0 751.7L748.5 756.2L748.0 759.1L747.5 759.6L747.0 758.0L746.5 756.3L746.0 755.8L745.5 755.7L745.0 756.6L744.5 756.9L744.0 753.3L743.5 755.7L743.0 752.2L742.5 750.5L742.0 751.6L741.5 753.0L741.0 756.6L740.5 757.7L740.0 761.4L739.5 760.4L739.0 756.7L738.5 756.3L738.0 756.5L737.5 753.9L737.0 751.0L736.5 751.7L736.0 754.2L735.5 755.2L735.0 754.3L734.5 756.5L734.0 752.8L733.5 752.8L733.0 756.2L732.5 755.5L732.0 756.3L731.5 754.6L731.0 753.1L730.5 753.0L730.0 753.4L729.5 755.6L729.0 756.4L728.5 758.3L728.0 759.5L727.5 757.8L727.0 756.9L726.5 753.0L726.0 753.6L725.5 754.5L725.0 755.4L724.5 754.2L724.0 756.4L723.5 752.7L723.0 750.8L722.5 748.9L722.0 751.0L721.5 751.1L721.0 750.2L720.5 751.1L720.0 746.5L719.5 741.9L719.0 734.7L718.5 725.4L718.0 714.9L717.5 706.6L717.0 689.6L716.5 713.4L716.0 726.2L715.5 739.9L715.0 746.4L714.5 748.5L714.0 750.4L713.5 751.7L713.0 751.1L712.5 752.2L712.0 757.3L711.5 760.4L711.0 758.6L710.5 757.0L710.0 758.2L709.5 761.2L709.0 762.1L708.5 759.9L708.0 756.5L707.5 757.4L707.0 761.3L706.5 761.9L706.0 760.1L705.5 759.2L705.0 759.9L704.5 761.1L704.0 758.5L703.5 759.6L703.0 758.3L702.5 759.8L702.0 761.2L701.5 765.0L701.0 760.9L700.5 760.6L700.0 756.2L699.5 760.7L699.0 758.2L698.5 760.5L698.0 755.6L697.5 757.9L697.0 755.2L696.5 754.2L696.0 753.3L695.5 753.5L695.0 753.0L694.5 752.3L694.0 748.6L693.5 746.0L693.0 741.4L692.5 734.9L692.0 725.0L691.5 716.2L691.0 704.2L690.5 689.5L690.0 713.3L689.5 727.1L689.0 736.8L688.5 746.4L688.0 751.3L687.5 755.2L687.0 753.8L686.5 752.9L686.0 754.7L685.5 755.0L685.0 757.7L684.5 755.5L684.0 757.0L683.5 755.8L683.0 760.2L682.5 757.8L682.0 757.7L681.5 753.7L681.0 754.1L680.5 756.7L680.0 756.9L679.5 755.3L679.0 754.5L678.5 755.4L678.0 755.9L677.5 758.1L677.0 758.5L676.5 755.4L676.0 756.6L675.5 752.1L675.0 752.5L674.5 749.3L674.0 750.1L673.5 749.8L673.0 751.0L672.5 751.7L672.0 752.0L671.5 751.1L671.0 752.7L670.5 750.1L670.0 747.3L669.5 745.8L669.0 745.9L668.5 744.8L668.0 740.8L667.5 741.5L667.0 741.5L666.5 740.8L666.0 740.3L665.5 742.4L665.0 744.1L664.5 743.4L664.0 745.9L663.5 744.3L663.0 745.1L662.5 744.9L662.0 745.2L661.5 740.2L661.0 740.7L660.5 741.3L660.0 741.6L659.5 742.5L659.0 739.7L658.5 740.4L658.0 735.2L657.5 738.3L657.0 736.4L656.5 736.8L656.0 736.7L655.5 734.7L655.0 736.4L654.5 736.9L654.0 737.9L653.5 741.3L653.0 738.1L652.5 740.3L652.0 738.9L651.5 738.8L651.0 738.7L650.5 740.0L650.0 737.3L649.5 737.6L649.0 737.6L648.5 740.0L648.0 737.5L647.5 737.5L647.0 735.4L646.5 735.1L646.0 735.7L645.5 736.7L645.0 736.6L644.5 737.3L644.0 733.5L643.5 734.1L643.0 735.1L642.5 738.3L642.0 737.8L641.5 738.8L641.0 736.5L640.5 739.3L640.0 736.6L639.5 739.6L639.0 737.1L638.5 736.8L638.0 736.3L637.5 738.7L637.0 741.0L636.5 740.9L636.0 737.1L635.5 733.9L635.0 735.2L634.5 733.7L634.0 737.7L633.5 741.4L633.0 739.8L632.5 737.8L632.0 739.6L631.5 738.0L631.0 732.4L630.5 733.1L630.0 734.1L629.5 736.1L629.0 737.6L628.5 737.9L628.0 740.6L627.5 736.2L627.0 735.6L626.5 733.7L626.0 736.0L625.5 735.3L625.0 735.4L624.5 736.4L624.0 737.5L623.5 740.5L623.0 743.3L622.5 741.0L622.0 742.3L621.5 737.6L621.0 738.8L620.5 737.1L620.0 737.6L619.5 735.7L619.0 737.3L618.5 738.2L618.0 737.4L617.5 737.5L617.0 737.6L616.5 737.5L616.0 734.4L615.5 735.3L615.0 738.8L614.5 741.3L614.0 740.6L613.5 740.3L613.0 741.2L612.5 743.2L612.0 745.9L611.5 746.6L611.0 744.0L610.5 742.9L610.0 741.2L609.5 741.6L609.0 740.2L608.5 739.7L608.0 736.7L607.5 733.9L607.0 735.1L606.5 736.3L606.0 731.5L605.5 726.3L605.0 722.3L604.5 721.4L604.0 721.4L603.5 722.9L603.0 724.3L602.5 726.0L602.0 724.5L601.5 724.8L601.0 724.9L600.5 731.1L600.0 732.1L599.5 735.9L599.0 736.0L598.5 738.2L598.0 738.9L597.5 739.2L597.0 739.1L596.5 741.0L596.0 739.9L595.5 739.2L595.0 736.9L594.5 737.8L594.0 735.4L593.5 736.8L593.0 737.4L592.5 738.3L592.0 740.1L591.5 740.9L591.0 740.6L590.5 739.6L590.0 736.7L589.5 739.3L589.0 741.3L588.5 743.3L588.0 741.5L587.5 741.2L587.0 741.0L586.5 743.3L586.0 744.8L585.5 743.7L585.0 746.1L584.5 747.8L584.0 751.0L583.5 752.0L583.0 753.5L582.5 748.6L582.0 746.8L581.5 745.4L581.0 746.4L580.5 748.3L580.0 747.1L579.5 742.3L579.0 737.2L578.5 735.2L578.0 733.7L577.5 737.2L577.0 737.9L576.5 739.4L576.0 735.5L575.5 734.4L575.0 727.9L574.5 728.8L574.0 721.9L573.5 719.6L573.0 714.9L572.5 715.0L572.0 709.3L571.5 707.6L571.0 704.5L570.5 707.3L570.0 708.9L569.5 711.3L569.0 713.1L568.5 716.2L568.0 721.2L567.5 724.3L567.0 728.7L566.5 732.2L566.0 731.1L565.5 730.0L565.0 732.5L564.5 737.4L564.0 741.6L563.5 743.2L563.0 742.6L562.5 746.6L562.0 745.1L561.5 745.1L561.0 744.0L560.5 744.4L560.0 744.7L559.5 743.4L559.0 742.3L558.5 738.3L558.0 733.1L557.5 729.4L557.0 725.9L556.5 728.3L556.0 730.0L555.5 729.2L555.0 726.0L554.5 728.4L554.0 727.2L553.5 730.5L553.0 731.1L552.5 729.0L552.0 728.7L551.5 726.9L551.0 729.9L550.5 727.2L550.0 722.4L549.5 720.7L549.0 719.7L548.5 716.8L548.0 713.3L547.5 712.0L547.0 709.4L546.5 705.2L546.0 708.4L545.5 707.5L545.0 706.4L544.5 708.7L544.0 708.9L543.5 714.0L543.0 714.3L542.5 719.0L542.0 720.7L541.5 717.9L541.0 720.6L540.5 725.8L540.0 727.8L539.5 729.2L539.0 726.4L538.5 724.3L538.0 724.3L537.5 725.1L537.0 729.5L536.5 726.5L536.0 727.3L535.5 727.0L535.0 729.0L534.5 727.3L534.0 725.7L533.5 726.6L533.0 728.7L532.5 731.1L532.0 732.0L531.5 733.7L531.0 731.3L530.5 730.8L530.0 731.5L529.5 734.7L529.0 737.1L528.5 740.2L528.0 739.3L527.5 740.7L527.0 738.9L526.5 739.7L526.0 740.2L525.5 740.0L525.0 739.7L524.5 739.6L524.0 740.4L523.5 740.4L523.0 738.6L522.5 735.9L522.0 731.6L521.5 733.7L521.0 729.6L520.5 722.0L520.0 714.6L519.5 709.8L519.0 704.3L518.5 700.5L518.0 702.9L517.5 704.4L517.0 708.5L516.5 709.8L516.0 710.9L515.5 714.1L515.0 718.1L514.5 728.3L514.0 731.7L513.5 731.3L513.0 732.3L512.5 736.2L512.0 738.0L511.5 740.0L511.0 741.7L510.5 744.9L510.0 742.6L509.5 742.2L509.0 741.0L508.5 743.9L508.0 739.9L507.5 738.8L507.0 734.3L506.5 731.7L506.0 729.1L505.5 728.2L505.0 729.6L504.5 727.4L504.0 722.1L503.5 721.6L503.0 722.0L502.5 722.7L502.0 723.7L501.5 723.5L501.0 724.0L500.5 718.8L500.0 717.4L499.5 711.8L499.0 711.1L498.5 710.9L498.0 706.4L497.5 706.9L497.0 705.3L496.5 706.7L496.0 706.1L495.5 703.6L495.0 704.7L494.5 702.3L494.0 704.3L493.5 709.5L493.0 715.6L492.5 716.3L492.0 720.5L491.5 717.0L491.0 717.9L490.5 724.6L490.0 731.0L489.5 734.4L489.0 737.7L488.5 743.6L488.0 746.6L487.5 746.2L487.0 742.6L486.5 740.6L486.0 737.6L485.5 737.6L485.0 733.3L484.5 733.1L484.0 728.7L483.5 727.7L483.0 723.6L482.5 722.6L482.0 720.1L481.5 720.9L481.0 721.1L480.5 719.6L480.0 715.0L479.5 712.9L479.0 708.8L478.5 706.8L478.0 705.7L477.5 705.6L477.0 704.7L476.5 704.7L476.0 704.7L475.5 703.8L475.0 705.5L474.5 703.9L474.0 706.8L473.5 708.4L473.0 714.2L472.5 719.8L472.0 722.7L471.5 725.5L471.0 723.9L470.5 724.3L470.0 725.8L469.5 722.4L469.0 724.9L468.5 722.6L468.0 721.6L467.5 721.7L467.0 722.1L466.5 722.5L466.0 725.8L465.5 725.3L465.0 729.7L464.5 728.3L464.0 732.2L463.5 729.5L463.0 730.3L462.5 732.1L462.0 730.8L461.5 731.4L461.0 731.5L460.5 736.0L460.0 734.3L459.5 731.6L459.0 729.1L458.5 729.3L458.0 730.0L457.5 726.5L457.0 723.7L456.5 724.6L456.0 727.3L455.5 727.8L455.0 726.4L454.5 723.9L454.0 720.2L453.5 717.0L453.0 712.9L452.5 710.7L452.0 710.9L451.5 707.7L451.0 705.9L450.5 706.9L450.0 708.9L449.5 706.2L449.0 705.1L448.5 707.5L448.0 709.2L447.5 711.7L447.0 713.2L446.5 720.1L446.0 726.5L445.5 730.9L445.0 730.0L444.5 728.0L444.0 726.6L443.5 733.9L443.0 738.8L442.5 742.4L442.0 743.0L441.5 747.1L441.0 749.0L440.5 748.6L440.0 747.8L439.5 749.1L439.0 746.2L438.5 745.9L438.0 745.4L437.5 741.9L437.0 741.2L436.5 739.1L436.0 740.2L435.5 737.1L435.0 733.0L434.5 732.9L434.0 730.3L433.5 731.3L433.0 727.8L432.5 731.1L432.0 730.9L431.5 735.1L431.0 734.5L430.5 735.2L430.0 732.7L429.5 735.3L429.0 733.8L428.5 737.1L428.0 736.0L427.5 734.7L427.0 730.6L426.5 726.7L426.0 724.5L425.5 722.6L425.0 719.8L424.5 720.1L424.0 719.5L423.5 721.8L423.0 716.9L422.5 717.6L422.0 717.0L421.5 718.8L421.0 719.0L420.5 720.2L420.0 724.2L419.5 724.9L419.0 727.5L418.5 730.9L418.0 732.7L417.5 730.1L417.0 732.4L416.5 733.6L416.0 733.0L415.5 734.1L415.0 735.4L414.5 738.9L414.0 740.3L413.5 740.0L413.0 742.7L412.5 742.7L412.0 748.0L411.5 748.8L411.0 752.1L410.5 750.7L410.0 752.3L409.5 750.4L409.0 748.6L408.5 744.6L408.0 740.4L407.5 739.3L407.0 738.4L406.5 738.7L406.0 735.3L405.5 737.2L405.0 736.0L404.5 735.1L404.0 739.0L403.5 734.0L403.0 732.5L402.5 726.9L402.0 726.8L401.5 726.9L401.0 726.5L400.5 724.7L400.0 719.9L399.5 717.4L399.0 716.2L398.5 717.7L398.0 719.4L397.5 722.0L397.0 723.1L396.5 728.0L396.0 730.4L395.5 731.7L395.0 727.3L394.5 730.2L394.0 730.4L393.5 736.1L393.0 738.7L392.5 742.3L392.0 743.2L391.5 744.8L391.0 747.2L390.5 747.3L390.0 749.5L389.5 749.5L389.0 748.3L388.5 747.2L388.0 745.8L387.5 740.5L387.0 737.0L386.5 732.6L386.0 729.6L385.5 729.2L385.0 727.4L384.5 728.6L384.0 725.9L383.5 723.8L383.0 720.9L382.5 721.3L382.0 716.6L381.5 717.2L381.0 715.7L380.5 715.2L380.0 712.3L379.5 711.5L379.0 718.0L378.5 719.0L378.0 722.2L377.5 723.1L377.0 723.1L376.5 724.7L376.0 731.1L375.5 737.0L375.0 737.8L374.5 738.2L374.0 737.0L373.5 735.7L373.0 735.7L372.5 737.6L372.0 737.3L371.5 739.4L371.0 741.6L370.5 743.0L370.0 746.1L369.5 748.2L369.0 750.0L368.5 746.6L368.0 742.9L367.5 742.4L367.0 741.1L366.5 739.4L366.0 738.4L365.5 735.8L365.0 736.3L364.5 739.6L364.0 737.8L363.5 739.2L363.0 739.7L362.5 741.4L362.0 744.1L361.5 744.7L361.0 744.0L360.5 744.2L360.0 740.3L359.5 744.6L359.0 741.1L358.5 743.7L358.0 744.6L357.5 744.1L357.0 744.6L356.5 744.6L356.0 742.7L355.5 741.0L355.0 742.5L354.5 745.2L354.0 743.2L353.5 738.7L353.0 736.8L352.5 737.1L352.0 738.8L351.5 738.8L351.0 735.5L350.5 736.4L350.0 741.2L349.5 740.2L349.0 740.9L348.5 737.6L348.0 744.7L347.5 743.6L347.0 746.5L346.5 744.4L346.0 741.7L345.5 745.5L345.0 745.0L344.5 744.5L344.0 742.6L343.5 738.4L343.0 734.6L342.5 729.0L342.0 731.4L341.5 730.8L341.0 732.6L340.5 731.3L340.0 730.7L339.5 727.6L339.0 723.1L338.5 720.6L338.0 718.9L337.5 718.2L337.0 718.9L336.5 718.6L336.0 718.8L335.5 722.4L335.0 722.0L334.5 725.4L334.0 725.4L333.5 726.0L333.0 732.6L332.5 733.6L332.0 734.2L331.5 729.8L331.0 727.8L330.5 728.8L330.0 730.9L329.5 727.9L329.0 727.5L328.5 729.1L328.0 730.9L327.5 731.9L327.0 728.8L326.5 729.9L326.0 729.0L325.5 728.0L325.0 726.1L324.5 728.5L324.0 729.0L323.5 730.4L323.0 728.9L322.5 728.6L322.0 730.9L321.5 730.2L321.0 733.2L320.5 732.4L320.0 736.2L319.5 736.9L319.0 734.1L318.5 733.2L318.0 732.1L317.5 731.3L317.0 731.7L316.5 730.6L316.0 733.0L315.5 732.9L315.0 734.9L314.5 732.6L314.0 730.7L313.5 734.6L313.0 737.5L312.5 738.4L312.0 734.9L311.5 734.3L311.0 729.7L310.5 730.1L310.0 728.9L309.5 727.4L309.0 731.2L308.5 731.2L308.0 733.4L307.5 733.4L307.0 735.2L306.5 736.6L306.0 735.2L305.5 734.0L305.0 731.7L304.5 731.4L304.0 730.7L303.5 731.2L303.0 729.6L302.5 730.5L302.0 733.4L301.5 731.6L301.0 730.3L300.5 728.6L300.0 730.0L299.5 729.3L299.0 728.4L298.5 731.7L298.0 732.1L297.5 732.2L297.0 731.4L296.5 730.4L296.0 728.0L295.5 730.0L295.0 731.8L294.5 732.9L294.0 732.8L293.5 734.6L293.0 733.6L292.5 734.7L292.0 732.1L291.5 732.7L291.0 730.3L290.5 729.5L290.0 730.7L289.5 728.3L289.0 733.0L288.5 733.3L288.0 735.7L287.5 735.0L287.0 735.4L286.5 734.5L286.0 734.7L285.5 732.6L285.0 735.9L284.5 738.0L284.0 737.2L283.5 735.8L283.0 736.0L282.5 737.6L282.0 738.2L281.5 737.0L281.0 734.7L280.5 738.8L280.0 740.7L279.5 738.7L279.0 737.4L278.5 737.5L278.0 738.8L277.5 736.8L277.0 737.4L276.5 733.5L276.0 734.1L275.5 735.5L275.0 737.5L274.5 737.7L274.0 737.5L273.5 735.8L273.0 736.2L272.5 734.7L272.0 736.3L271.5 735.9L271.0 739.5L270.5 743.5L270.0 743.3L269.5 744.1L269.0 743.6L268.5 745.4L268.0 744.1L267.5 742.9L267.0 739.9L266.5 742.0L266.0 739.3L265.5 735.1L265.0 731.7L264.5 731.6L264.0 729.9L263.5 722.8L263.0 720.8L262.5 716.8L262.0 711.2L261.5 710.4L261.0 712.1L260.5 714.5L260.0 711.4L259.5 711.2L259.0 710.2L258.5 716.7L258.0 718.4L257.5 722.5L257.0 723.1L256.5 728.7L256.0 729.7L255.5 732.1L255.0 730.5L254.5 731.2L254.0 732.7L253.5 736.4L253.0 736.2L252.5 740.2L252.0 744.2L251.5 749.3L251.0 752.1L250.5 751.9L250.0 752.2L249.5 754.8L249.0 752.5L248.5 750.8L248.0 749.9L247.5 748.2L247.0 745.0L246.5 743.2L246.0 738.9L245.5 738.3L245.0 736.2L244.5 733.6L244.0 727.6L243.5 721.4L243.0 718.7L242.5 716.6L242.0 717.1L241.5 718.7L241.0 716.3L240.5 712.8L240.0 710.7L239.5 714.6L239.0 719.7L238.5 725.0L238.0 730.4L237.5 732.8L237.0 741.7L236.5 748.7L236.0 751.0L235.5 755.8L235.0 756.4L234.5 755.8L234.0 753.6L233.5 751.8L233.0 746.9L232.5 742.7L232.0 739.8L231.5 737.6L231.0 738.2L230.5 734.5L230.0 730.2L229.5 726.5L229.0 724.2L228.5 721.8L228.0 720.0L227.5 719.0L227.0 719.8L226.5 714.1L226.0 714.8L225.5 714.3L225.0 721.0L224.5 727.4L224.0 730.6L223.5 737.6L223.0 739.6L222.5 736.4L222.0 738.0L221.5 745.1L221.0 751.8L220.5 756.9L220.0 761.6L219.5 767.2L219.0 770.1L218.5 770.3L218.0 767.3L217.5 767.5L217.0 766.6L216.5 764.0L216.0 762.6L215.5 759.2L215.0 755.0L214.5 748.7L214.0 741.9L213.5 741.0L213.0 737.0L212.5 730.9L212.0 724.8L211.5 719.4L211.0 716.3L210.5 711.6L210.0 709.3L209.5 709.1L209.0 705.2L208.5 703.5L208.0 707.4L207.5 716.1L207.0 726.2L206.5 735.4L206.0 740.4L205.5 752.6L205.0 762.3L204.5 766.0L204.0 767.5L203.5 764.5L203.0 763.4L202.5 763.2L202.0 759.4L201.5 757.8L201.0 750.7L200.5 747.3L200.0 739.9L199.5 736.2L199.0 732.6L198.5 732.8L198.0 725.9L197.5 721.9L197.0 721.2L196.5 721.1L196.0 721.9L195.5 722.1L195.0 726.0L194.5 728.9L194.0 729.5L193.5 731.0L193.0 734.8L192.5 742.3L192.0 745.5L191.5 749.6L191.0 753.8L190.5 757.2L190.0 762.9L189.5 757.3L189.0 749.0L188.5 739.4L188.0 730.7L187.5 722.6L187.0 721.8L186.5 716.5L186.0 715.1L185.5 711.2L185.0 709.9L184.5 709.0L184.0 709.0L183.5 708.1Z" fill="#000" stroke="#111" stroke-width="1.5" stroke-linejoin="round"/>
<path d="M183.5 705.6L184.0 706.9L184.5 706.9L185.0 708.5L185.5 709.7L186.0 712.6L186.5 714.7L187.0 718.4L187.5 721.0L188.0 728.1L188.5 736.3L189.0 745.6L189.5 753.6L190.0 759.2L190.5 755.9L191.0 751.7L191.5 746.4L192.0 744.0L192.5 740.0L193.0 732.0L193.5 728.8L194.0 727.3L194.5 727.4L195.0 723.2L195.5 720.7L196.0 719.9L196.5 719.1L197.0 719.5L197.5 719.0L198.0 722.7L198.5 729.2L199.0 730.3L199.5 732.9L200.0 736.2L200.5 744.3L201.0 748.2L201.5 754.9L202.0 756.7L202.5 759.6L203.0 760.6L203.5 762.7L204.0 764.5L204.5 764.1L205.0 759.7L205.5 749.1L206.0 738.6L206.5 732.0L207.0 722.6L207.5 714.4L208.0 705.8L208.5 701.6L209.0 702.2L209.5 705.5L210.0 707.4L210.5 709.8L211.0 713.3L211.5 716.8L212.0 722.5L212.5 728.0L213.0 733.4L213.5 737.4L214.0 740.1L214.5 746.1L215.0 751.5L215.5 755.4L216.0 760.7L216.5 762.4L217.0 763.1L217.5 765.2L218.0 765.2L218.5 766.8L219.0 767.3L219.5 765.1L220.0 759.9L220.5 753.9L221.0 748.3L221.5 742.4L222.0 735.3L222.5 733.9L223.0 735.8L223.5 734.0L224.0 729.0L224.5 723.8L225.0 717.7L225.5 711.9L226.0 711.8L226.5 712.6L227.0 716.0L227.5 716.8L228.0 717.2L228.5 718.3L229.0 720.5L229.5 724.1L230.0 726.9L230.5 732.5L231.0 734.8L231.5 735.7L232.0 737.6L232.5 739.8L233.0 743.3L233.5 748.5L234.0 751.1L234.5 753.7L235.0 752.6L235.5 752.3L236.0 749.3L236.5 744.8L237.0 738.3L237.5 729.5L238.0 728.3L238.5 723.0L239.0 716.9L239.5 712.2L240.0 708.1L240.5 710.1L241.0 713.6L241.5 715.8L242.0 715.5L242.5 714.8L243.0 716.6L243.5 719.2L244.0 723.9L244.5 729.6L245.0 733.3L245.5 735.5L246.0 737.0L246.5 740.1L247.0 742.7L247.5 745.2L248.0 746.5L248.5 748.8L249.0 749.6L249.5 751.9L250.0 748.9L250.5 750.0L251.0 748.3L251.5 745.9L252.0 740.2L252.5 736.9L253.0 734.2L253.5 732.3L254.0 729.2L254.5 727.7L255.0 728.0L255.5 729.1L256.0 727.3L256.5 726.2L257.0 721.0L257.5 719.0L258.0 715.3L258.5 713.1L259.0 708.0L259.5 707.8L260.0 708.4L260.5 711.2L261.0 708.3L261.5 706.9L262.0 709.2L262.5 713.4L263.0 718.9L263.5 720.8L264.0 727.2L264.5 728.2L265.0 727.5L265.5 732.8L266.0 735.7L266.5 738.9L267.0 736.5L267.5 739.2L268.0 740.6L268.5 742.8L269.0 740.6L269.5 739.7L270.0 738.3L270.5 738.7L271.0 735.0L271.5 732.6L272.0 730.7L272.5 730.3L273.0 730.6L273.5 729.8L274.0 732.1L274.5 732.3L275.0 731.8L275.5 729.4L276.0 727.7L276.5 728.3L277.0 732.0L277.5 732.1L278.0 733.7L278.5 731.0L279.0 732.6L279.5 732.9L280.0 733.6L280.5 731.9L281.0 729.3L281.5 730.2L282.0 731.6L282.5 732.5L283.0 730.0L283.5 730.0L284.0 730.5L284.5 731.1L285.0 728.9L285.5 727.6L286.0 728.6L286.5 729.0L287.0 728.6L287.5 728.2L288.0 729.8L288.5 727.6L289.0 727.2L289.5 723.6L290.0 724.2L290.5 724.0L291.0 724.3L291.5 725.7L292.0 726.0L292.5 727.9L293.0 728.5L293.5 727.7L294.0 726.9L294.5 727.5L295.0 726.3L295.5 724.9L296.0 722.9L296.5 723.9L297.0 724.7L297.5 726.6L298.0 725.6L298.5 724.9L299.0 723.2L299.5 722.9L300.0 724.7L300.5 723.8L301.0 724.4L301.5 724.7L302.0 726.4L302.5 725.2L303.0 724.8L303.5 724.4L304.0 725.8L304.5 725.1L305.0 725.3L305.5 727.1L306.0 728.9L306.5 729.9L307.0 729.0L307.5 727.0L308.0 726.6L308.5 725.2L309.0 724.3L309.5 722.0L310.0 721.6L310.5 723.3L311.0 724.4L311.5 728.2L312.0 730.0L312.5 731.8L313.0 730.9L313.5 728.3L314.0 725.6L314.5 725.9L315.0 728.2L315.5 727.8L316.0 726.1L316.5 724.1L317.0 726.1L317.5 726.2L318.0 726.9L318.5 727.0L319.0 728.2L319.5 729.7L320.0 728.9L320.5 727.0L321.0 726.6L321.5 724.4L322.0 725.6L322.5 722.0L323.0 722.7L323.5 723.0L324.0 723.7L324.5 722.4L325.0 719.0L325.5 721.4L326.0 722.7L326.5 723.6L327.0 723.4L327.5 725.2L328.0 724.8L328.5 721.8L329.0 722.1L329.5 722.9L330.0 724.5L330.5 721.8L331.0 722.2L331.5 724.3L332.0 727.6L332.5 727.0L333.0 725.2L333.5 720.3L334.0 719.7L334.5 718.3L335.0 716.9L335.5 715.7L336.0 712.2L336.5 711.5L337.0 711.4L337.5 712.4L338.0 713.2L338.5 713.6L339.0 717.6L339.5 721.2L340.0 725.6L340.5 726.2L341.0 727.1L341.5 724.8L342.0 724.1L342.5 722.5L343.0 728.8L343.5 732.3L344.0 735.6L344.5 738.4L345.0 739.9L345.5 739.4L346.0 736.5L346.5 737.5L347.0 740.0L347.5 738.2L348.0 737.3L348.5 732.5L349.0 735.1L349.5 733.4L350.0 734.6L350.5 730.1L351.0 730.2L351.5 731.4L352.0 731.5L352.5 731.1L353.0 729.7L353.5 733.3L354.0 736.7L354.5 739.2L355.0 737.5L355.5 735.7L356.0 736.1L356.5 737.3L357.0 737.5L357.5 738.3L358.0 737.2L358.5 738.7L359.0 735.0L359.5 737.3L360.0 735.1L360.5 737.8L361.0 736.8L361.5 739.1L362.0 737.9L362.5 735.1L363.0 732.5L363.5 733.3L364.0 732.7L364.5 732.5L365.0 730.0L365.5 730.6L366.0 732.0L366.5 733.6L367.0 734.8L367.5 736.6L368.0 736.8L368.5 739.9L369.0 742.7L369.5 743.2L370.0 739.8L370.5 736.6L371.0 734.6L371.5 734.2L372.0 731.4L372.5 730.8L373.0 729.2L373.5 730.0L374.0 730.9L374.5 731.6L375.0 732.4L375.5 731.5L376.0 725.6L376.5 719.2L377.0 716.5L377.5 716.0L378.0 716.3L378.5 713.0L379.0 710.6L379.5 706.3L380.0 707.1L380.5 708.1L381.0 709.3L381.5 710.5L382.0 711.0L382.5 714.5L383.0 715.2L383.5 718.0L384.0 719.2L384.5 723.4L385.0 720.8L385.5 723.8L386.0 722.8L386.5 727.3L387.0 730.8L387.5 734.6L388.0 738.6L388.5 740.9L389.0 743.0L389.5 743.6L390.0 743.4L390.5 742.2L391.0 740.1L391.5 738.2L392.0 736.6L392.5 737.1L393.0 733.0L393.5 730.8L394.0 724.3L394.5 723.0L395.0 721.6L395.5 725.6L396.0 724.2L396.5 722.1L397.0 717.5L397.5 715.0L398.0 712.5L398.5 711.5L399.0 710.2L399.5 712.1L400.0 713.0L400.5 717.8L401.0 719.1L401.5 720.4L402.0 720.0L402.5 720.9L403.0 726.0L403.5 728.7L404.0 731.9L404.5 730.1L405.0 729.9L405.5 730.5L406.0 730.1L406.5 732.3L407.0 732.0L407.5 733.4L408.0 734.9L408.5 738.5L409.0 741.6L409.5 744.2L410.0 744.9L410.5 745.0L411.0 744.7L411.5 742.0L412.0 740.6L412.5 737.1L413.0 736.6L413.5 732.8L414.0 733.4L414.5 731.8L415.0 729.9L415.5 726.8L416.0 726.7L416.5 727.7L417.0 726.7L417.5 724.5L418.0 726.1L418.5 724.0L419.0 721.9L419.5 719.3L420.0 717.1L420.5 715.2L421.0 712.1L421.5 711.4L422.0 710.3L422.5 711.5L423.0 711.6L423.5 715.4L424.0 713.1L424.5 714.4L425.0 714.2L425.5 715.8L426.0 718.2L426.5 719.7L427.0 723.5L427.5 727.3L428.0 728.8L428.5 730.6L429.0 727.6L429.5 728.4L430.0 726.2L430.5 728.2L431.0 727.3L431.5 728.7L432.0 725.8L432.5 724.3L433.0 722.6L433.5 724.1L434.0 724.1L434.5 725.6L435.0 726.3L435.5 730.4L436.0 733.0L436.5 733.7L437.0 734.5L437.5 736.2L438.0 738.0L438.5 740.0L439.0 740.2L439.5 743.1L440.0 741.9L440.5 742.9L441.0 741.5L441.5 740.0L442.0 736.4L442.5 736.6L443.0 733.7L443.5 728.4L444.0 721.0L444.5 722.1L445.0 724.2L445.5 725.3L446.0 720.2L446.5 713.9L447.0 708.0L447.5 704.3L448.0 701.7L448.5 700.3L449.0 699.1L449.5 700.0L450.0 702.0L450.5 699.4L451.0 700.6L451.5 700.5L452.0 704.0L452.5 705.0L453.0 706.9L453.5 711.3L454.0 715.0L454.5 717.4L455.0 720.0L455.5 721.5L456.0 721.7L456.5 718.8L457.0 717.9L457.5 719.5L458.0 724.2L458.5 723.3L459.0 722.8L459.5 725.3L460.0 728.5L460.5 729.7L461.0 726.2L461.5 725.8L462.0 725.5L462.5 725.2L463.0 724.8L463.5 723.0L464.0 724.9L464.5 721.8L465.0 723.3L465.5 719.5L466.0 718.6L466.5 717.0L467.0 716.9L467.5 715.8L468.0 715.9L468.5 716.1L469.0 718.3L469.5 716.9L470.0 718.4L470.5 719.0L471.0 718.2L471.5 718.9L472.0 716.7L472.5 714.3L473.0 707.8L473.5 702.8L474.0 699.5L474.5 698.1L475.0 698.2L475.5 697.2L476.0 698.5L476.5 698.2L477.0 699.3L477.5 698.7L478.0 698.9L478.5 701.2L479.0 702.8L479.5 705.9L480.0 709.0L480.5 714.1L481.0 714.1L481.5 714.3L482.0 712.6L482.5 715.5L483.0 717.1L483.5 721.6L484.0 722.7L484.5 727.1L485.0 727.9L485.5 730.1L486.0 730.8L486.5 734.4L487.0 736.9L487.5 739.5L488.0 739.6L488.5 736.1L489.0 732.6L489.5 729.0L490.0 724.9L490.5 719.3L491.0 712.9L491.5 711.7L492.0 713.8L492.5 710.7L493.0 708.9L493.5 702.0L494.0 699.2L494.5 696.4L495.0 697.9L495.5 698.3L496.0 698.9L496.5 700.1L497.0 699.6L497.5 700.0L498.0 701.2L498.5 703.6L499.0 706.0L499.5 706.6L500.0 710.9L500.5 713.7L501.0 717.3L501.5 716.1L502.0 717.0L502.5 716.0L503.0 715.6L503.5 716.3L504.0 716.2L504.5 720.7L505.0 723.1L505.5 723.1L506.0 722.9L506.5 726.0L507.0 728.6L507.5 733.6L508.0 734.1L508.5 737.6L509.0 735.2L509.5 736.6L510.0 736.4L510.5 738.9L511.0 736.2L511.5 732.9L512.0 731.8L512.5 729.0L513.0 726.6L513.5 725.7L514.0 725.8L514.5 721.9L515.0 712.1L515.5 707.4L516.0 705.6L516.5 704.8L517.0 702.6L517.5 697.8L518.0 695.5L518.5 695.2L519.0 699.1L519.5 703.2L520.0 708.5L520.5 716.4L521.0 724.1L521.5 727.0L522.0 725.9L522.5 728.7L523.0 732.5L523.5 734.6L524.0 733.4L524.5 733.1L525.0 733.7L525.5 733.6L526.0 733.0L526.5 733.4L527.0 731.7L527.5 733.5L528.0 733.5L528.5 733.8L529.0 731.9L529.5 728.0L530.0 726.0L530.5 725.6L531.0 725.5L531.5 726.3L532.0 725.0L532.5 725.1L533.0 723.2L533.5 720.9L534.0 718.3L534.5 720.1L535.0 721.5L535.5 721.6L536.0 721.4L536.5 719.7L537.0 722.8L537.5 719.8L538.0 718.5L538.5 718.2L539.0 720.9L539.5 722.6L540.0 722.5L540.5 718.5L541.0 714.6L541.5 712.5L542.0 713.6L542.5 713.7L543.0 709.2L543.5 706.6L544.0 702.5L544.5 701.5L545.0 701.3L545.5 701.8L546.0 700.9L546.5 699.9L547.0 702.6L547.5 704.7L548.0 707.8L548.5 710.9L549.0 713.0L549.5 713.9L550.0 716.4L550.5 720.5L551.0 722.8L551.5 720.7L552.0 721.8L552.5 722.0L553.0 723.6L553.5 723.6L554.0 721.5L554.5 720.9L555.0 720.9L555.5 722.5L556.0 723.3L556.5 721.3L557.0 720.8L557.5 722.4L558.0 727.4L558.5 732.3L559.0 736.7L559.5 737.3L560.0 739.4L560.5 738.5L561.0 738.8L561.5 739.4L562.0 738.6L562.5 739.3L563.0 737.4L563.5 737.3L564.0 735.9L564.5 731.3L565.0 726.5L565.5 723.3L566.0 724.3L566.5 725.4L567.0 722.8L567.5 718.3L568.0 713.8L568.5 710.7L569.0 706.8L569.5 705.4L570.0 701.8L570.5 700.4L571.0 698.6L571.5 702.0L572.0 704.1L572.5 708.5L573.0 709.6L573.5 713.9L574.0 716.4L574.5 721.4L575.0 722.7L575.5 727.9L576.0 729.7L576.5 732.3L577.0 730.6L577.5 730.6L578.0 728.0L578.5 729.2L579.0 730.9L579.5 735.4L580.0 739.7L580.5 741.7L581.0 740.7L581.5 738.9L582.0 740.8L582.5 743.5L583.0 746.7L583.5 745.9L584.0 745.3L584.5 741.9L585.0 739.5L585.5 738.0L586.0 737.4L586.5 737.8L587.0 734.9L587.5 735.3L588.0 736.1L588.5 737.5L589.0 734.6L589.5 732.2L590.0 729.9L590.5 733.3L591.0 733.7L591.5 733.5L592.0 732.7L592.5 732.0L593.0 731.8L593.5 730.1L594.0 729.4L594.5 730.9L595.0 731.2L595.5 732.2L596.0 732.5L596.5 733.8L597.0 733.8L597.5 732.5L598.0 731.7L598.5 731.9L599.0 729.7L599.5 728.7L600.0 725.5L600.5 723.9L601.0 719.2L601.5 719.7L602.0 719.1L602.5 720.2L603.0 716.9L603.5 716.8L604.0 715.5L604.5 715.2L605.0 715.1L605.5 719.8L606.0 726.4L606.5 731.0L607.0 728.1L607.5 727.6L608.0 731.2L608.5 734.2L609.0 734.7L609.5 735.5L610.0 735.9L610.5 737.9L611.0 737.5L611.5 739.2L612.0 738.6L612.5 736.7L613.0 736.0L613.5 734.5L614.0 735.3L614.5 734.8L615.0 733.2L615.5 729.7L616.0 729.1L616.5 730.1L617.0 732.1L617.5 732.1L618.0 732.3L618.5 730.6L619.0 730.5L619.5 730.1L620.0 731.9L620.5 730.0L621.0 733.0L621.5 731.9L622.0 736.0L622.5 735.3L623.0 736.1L623.5 734.3L624.0 731.9L624.5 730.3L625.0 729.8L625.5 729.1L626.0 729.7L626.5 727.8L627.0 729.6L627.5 730.5L628.0 733.1L628.5 730.9L629.0 730.9L629.5 728.9L630.0 727.6L630.5 725.6L631.0 727.2L631.5 730.5L632.0 732.3L632.5 732.0L633.0 733.9L633.5 734.3L634.0 731.9L634.5 728.2L635.0 728.2L635.5 728.3L636.0 731.8L636.5 733.3L637.0 734.8L637.5 733.3L638.0 729.7L638.5 730.6L639.0 729.7L639.5 732.0L640.0 730.3L640.5 731.8L641.0 729.1L641.5 731.2L642.0 730.5L642.5 731.3L643.0 729.0L643.5 727.1L644.0 727.8L644.5 729.8L645.0 731.0L645.5 730.4L646.0 728.8L646.5 728.8L647.0 729.4L647.5 729.8L648.0 731.3L648.5 732.8L649.0 731.0L649.5 732.1L650.0 730.9L650.5 732.7L651.0 731.1L651.5 733.5L652.0 732.0L652.5 733.5L653.0 732.6L653.5 734.0L654.0 731.0L654.5 729.4L655.0 729.3L655.5 728.9L656.0 730.2L656.5 729.7L657.0 730.0L657.5 730.7L658.0 729.5L658.5 732.7L659.0 732.5L659.5 734.7L660.0 734.3L660.5 733.6L661.0 735.3L661.5 734.9L662.0 738.1L662.5 739.2L663.0 739.1L663.5 738.1L664.0 738.2L664.5 737.3L665.0 736.5L665.5 734.8L666.0 735.0L666.5 735.1L667.0 734.9L667.5 735.5L668.0 735.3L668.5 737.7L669.0 739.1L669.5 739.2L670.0 741.5L670.5 743.3L671.0 746.1L671.5 745.1L672.0 745.5L672.5 744.0L673.0 744.8L673.5 743.8L674.0 744.3L674.5 742.9L675.0 745.1L675.5 746.4L676.0 749.0L676.5 750.0L677.0 752.4L677.5 751.1L678.0 749.6L678.5 748.5L679.0 747.2L679.5 748.2L680.0 749.2L680.5 749.9L681.0 748.4L681.5 747.9L682.0 751.2L682.5 751.5L683.0 752.7L683.5 749.3L684.0 750.2L684.5 748.0L685.0 751.2L685.5 749.6L686.0 748.4L686.5 745.8L687.0 746.9L687.5 747.7L688.0 744.6L688.5 740.1L689.0 730.9L689.5 721.0L690.0 705.9L690.5 682.0L691.0 698.3L691.5 709.2L692.0 719.2L692.5 727.8L693.0 733.7L693.5 739.6L694.0 740.7L694.5 744.8L695.0 745.9L695.5 747.5L696.0 747.8L696.5 747.8L697.0 749.0L697.5 750.1L698.0 750.0L698.5 753.3L699.0 751.5L699.5 753.8L700.0 750.6L700.5 753.8L701.0 755.3L701.5 757.5L702.0 754.6L702.5 752.3L703.0 752.0L703.5 752.0L704.0 752.9L704.5 754.2L705.0 753.6L705.5 752.3L706.0 752.5L706.5 755.3L707.0 754.2L707.5 750.7L708.0 749.7L708.5 752.8L709.0 756.2L709.5 754.0L710.0 752.4L710.5 750.3L711.0 753.0L711.5 752.7L712.0 750.3L712.5 746.5L713.0 745.6L713.5 744.6L714.0 744.4L714.5 741.8L715.0 738.9L715.5 732.7L716.0 720.6L716.5 706.7L717.0 682.4L717.5 699.8L718.0 709.2L718.5 719.5L719.0 727.4L719.5 735.2L720.0 740.9L720.5 743.3L721.0 744.2L721.5 745.4L722.0 744.1L722.5 742.9L723.0 743.9L723.5 747.0L724.0 749.0L724.5 746.7L725.0 747.9L725.5 747.2L726.0 747.2L726.5 747.2L727.0 749.4L727.5 751.8L728.0 751.8L728.5 752.6L729.0 750.8L729.5 748.0L730.0 746.4L730.5 746.3L731.0 746.7L731.5 746.8L732.0 748.9L732.5 749.8L733.0 748.8L733.5 746.0L734.0 747.2L734.5 748.5L735.0 748.7L735.5 748.6L736.0 746.5L736.5 746.0L737.0 744.0L737.5 746.9L738.0 748.7L738.5 750.4L739.0 751.0L739.5 752.9L740.0 753.5L740.5 751.7L741.0 750.0L741.5 746.7L742.0 745.3L742.5 744.9L743.0 746.3L743.5 748.1L744.0 746.4L744.5 749.0L745.0 748.8L745.5 749.5L746.0 748.3L746.5 748.7L747.0 751.0L747.5 752.4L748.0 751.9L748.5 749.1L749.0 745.9L749.5 745.8L750.0 747.9" fill="none" stroke="#111" stroke-width="3.4" stroke-linejoin="round" stroke-linecap="round"/>
<path d="M749.5 746.2L750.0 743.1L750.5 743.6L751.0 745.8L751.5 746.1L752.0 742.7L752.5 742.7L753.0 743.0L753.5 740.4L754.0 736.2L754.5 730.2L755.0 720.0L755.5 701.4L756.0 668.0L756.5 689.3L757.0 705.7L757.5 717.9L758.0 726.8L758.5 732.1L759.0 735.1L759.5 738.9L760.0 741.8L760.5 743.2L761.0 744.5L761.5 745.2L762.0 745.1L762.5 747.2L763.0 748.5L763.5 748.9L764.0 748.0L764.5 749.6L765.0 749.1L765.5 748.7L766.0 748.8L766.5 748.7L767.0 749.2L767.5 749.4L768.0 749.0L768.5 749.1L769.0 750.4L769.5 749.9L770.0 749.8L770.5 748.4L771.0 746.6L771.5 748.0L772.0 746.5L772.5 745.6L773.0 747.8L773.5 746.7L774.0 747.0L774.5 745.9L775.0 746.1L775.5 747.9L776.0 746.8L776.5 749.1L777.0 746.9L777.5 747.8L778.0 748.0L778.5 748.1L779.0 748.9L779.5 750.2L780.0 748.1L780.5 746.4L781.0 747.5L781.5 746.0L782.0 741.6L782.5 735.0L783.0 723.0L783.5 702.7L784.0 667.5L784.5 689.0L785.0 703.6L785.5 714.7L786.0 723.6L786.5 729.5L787.0 732.3L787.5 735.1L788.0 738.0L788.5 740.1L789.0 739.7L789.5 740.4L790.0 741.1L790.5 743.0L791.0 743.2L791.5 743.4L792.0 742.1L792.5 741.4L793.0 739.8L793.5 740.6L794.0 739.9L794.5 741.9L795.0 739.8L795.5 741.4L796.0 740.3L796.5 741.5L797.0 740.4L797.5 740.2L798.0 741.3L798.5 739.1L799.0 738.1L799.5 740.7L800.0 738.9L800.5 739.9L801.0 739.8L801.5 739.2L802.0 737.8L802.5 735.6L803.0 733.7L803.5 727.5L804.0 719.3L804.5 703.3L805.0 673.7L805.5 691.1L806.0 704.8L806.5 715.1L807.0 722.9L807.5 729.0L808.0 732.5L808.5 734.7L809.0 738.9L809.5 739.6L810.0 741.1L810.5 742.2L811.0 742.4L811.5 744.8L812.0 743.1L812.5 740.7L813.0 741.2L813.5 741.7L814.0 741.8L814.5 743.0L815.0 741.6L815.5 742.5L816.0 741.4L816.5 741.5L817.0 741.9L817.5 740.6L818.0 738.3L818.5 739.0L819.0 739.8L819.5 737.5L820.0 738.9L820.5 739.5L821.0 737.2L821.5 736.2L822.0 736.7L822.5 733.8L823.0 731.1L823.5 725.6L824.0 718.2L824.5 702.5L825.0 676.0L825.5 693.8L826.0 705.9L826.5 714.6L827.0 720.2L827.5 724.9L828.0 728.2L828.5 729.3L829.0 731.5L829.5 733.6L830.0 735.0L830.5 733.8L831.0 734.9L831.5 736.0L832.0 736.3L832.5 735.1L833.0 734.3L833.5 736.1L834.0 734.5L834.5 732.7L835.0 735.0L835.5 734.1L836.0 735.0L836.5 735.0L837.0 735.1L837.5 734.4L838.0 736.2L838.5 733.4L839.0 733.5L839.5 733.4L840.0 732.0L840.5 732.8L841.0 731.9L841.5 732.1L842.0 730.8L842.5 730.8L843.0 730.7L843.5 729.7L844.0 728.2L844.5 723.5L845.0 718.6L845.5 709.9L846.0 694.3L846.5 667.5L847.0 683.2L847.5 695.7L848.0 704.3L848.5 711.2L849.0 715.9L849.5 718.1L850.0 720.3L850.5 724.1L851.0 725.6L851.5 725.7L852.0 727.0L852.5 727.7L853.0 727.0L853.5 727.7L854.0 726.9L854.5 728.7L855.0 728.8L855.5 726.0L856.0 728.8L856.5 728.0L857.0 729.5L857.5 729.9L858.0 730.9L858.5 729.7L859.0 730.3L859.5 731.6L860.0 729.6L860.5 730.4L861.0 732.2L861.5 732.1L862.0 731.3L862.5 730.9L863.0 731.4L863.5 730.9L864.0 730.1L864.5 726.3L865.0 724.0L865.5 718.2L866.0 710.9L866.5 694.9L867.0 668.0L867.5 684.7L868.0 698.0L868.5 707.3L869.0 714.1L869.5 718.3L870.0 721.9L870.5 723.4L871.0 726.6L871.5 728.3L872.0 728.3L872.5 730.1L873.0 731.8L873.5 730.1L874.0 730.0L874.5 729.7L875.0 729.6L875.5 729.2L876.0 728.5L876.5 729.5L877.0 727.2L877.5 727.5L878.0 726.4L878.5 728.3L879.0 725.9L879.5 725.5L880.0 726.3L880.5 725.8L881.0 724.5L881.5 725.4L882.0 726.4L882.5 726.1L883.0 727.2L883.5 726.2L884.0 722.9L884.5 718.9L885.0 712.1L885.5 698.0L886.0 673.7L886.5 689.7L887.0 701.8L887.5 709.6L888.0 715.3L888.5 719.7L889.0 722.2L889.5 724.0L890.0 726.9L890.5 727.9L891.0 728.8L891.5 727.6L892.0 730.1L892.5 729.2L893.0 731.1L893.5 731.7L894.0 730.7L894.5 730.4L895.0 732.1L895.5 730.9L896.0 731.2L896.5 733.2L897.0 731.5L897.5 732.8L898.0 732.5L898.5 731.8L899.0 732.2L899.5 733.2L900.0 734.0L900.5 731.4L901.0 732.3L901.5 730.7L902.0 733.0L902.5 732.7L903.0 732.0L903.5 731.3L904.0 731.3L904.5 730.7L905.0 727.7L905.5 725.7L906.0 716.3L906.5 701.2L907.0 675.0L907.5 692.4L908.0 705.3L908.5 715.7L909.0 723.6L909.5 728.7L910.0 731.7L910.5 735.4L911.0 738.4L911.5 739.9L912.0 742.7L912.5 742.3L913.0 743.3L913.5 745.7L914.0 745.6L914.5 745.8L915.0 746.0L915.5 745.5L916.0 747.5L916.5 744.7L917.0 746.5L917.5 745.8L918.0 744.2L918.5 744.8L919.0 744.9L919.5 745.1L920.0 745.5L920.5 744.3L921.0 743.5L921.5 744.0L922.0 742.8L922.5 741.9L923.0 741.2L923.5 737.5L924.0 733.0L924.5 725.8L925.0 712.6L925.5 689.0L926.0 705.0L926.5 716.0L927.0 724.0L927.5 728.0L928.0 730.8L928.5 733.4L929.0 737.5L929.5 738.1L930.0 740.0L930.5 741.8L931.0 743.0L931.5 744.9L932.0 744.6L932.5 745.8L933.0 744.8L933.5 743.5L934.0 743.7L934.5 744.3L935.0 745.3L935.5 744.9L936.0 746.1L936.5 745.9L937.0 744.5L937.5 744.4L938.0 745.4L938.5 743.8L939.0 744.3L939.5 744.4L940.0 743.7L940.5 745.6L941.0 744.7L941.5 744.9L942.0 744.8L942.5 743.3L943.0 740.5L943.5 740.8L944.0 737.6L944.5 732.9L945.0 724.0L945.5 708.0L946.0 679.0L946.5 697.5L947.0 710.9L947.5 720.8L948.0 727.8L948.5 733.0L949.0 736.6L949.5 738.6L950.0 740.7L950.5 742.2L951.0 745.3L951.5 745.5L952.0 743.9L952.5 745.3L953.0 745.5L953.5 746.4L954.0 748.4L954.5 746.9L955.0 746.8L955.5 749.0L956.0 749.4L956.5 748.6L957.0 750.5L957.5 748.5L958.0 749.2L958.5 748.4L959.0 749.7L959.5 747.0L960.0 747.2L960.5 748.1L961.0 744.7L961.5 744.5L962.0 739.4L962.5 731.4L963.0 716.3L963.5 691.0L964.0 706.6L964.5 717.4L965.0 724.8L965.5 731.3L966.0 736.0L966.5 738.9L967.0 740.7L967.5 743.3L968.0 743.4L968.5 743.5L969.0 745.1L969.5 743.6L970.0 744.9L970.5 744.2L971.0 744.8L971.5 745.0L972.0 745.7L972.5 748.1L973.0 748.2L973.5 746.6L974.0 747.1L974.5 747.9L975.0 748.7L975.5 751.8L976.0 750.0L976.5 749.0L977.0 750.0L977.5 747.6L978.0 745.2L978.5 741.0L979.0 732.4L979.5 718.0L980.0 692.0L980.5 707.8L981.0 719.8L981.5 728.5L982.0 735.0L982.5 737.4L983.0 741.3L983.5 744.6L984.0 743.9L984.5 746.0L985.0 747.2L985.5 747.8L986.0 747.6L986.5 749.4L987.0 750.7L987.5 748.8L988.0 749.5L988.5 752.6L989.0 750.3L989.5 750.9L990.0 749.7L990.5 750.0L991.0 750.0L991.5 750.3L992.0 750.8L992.5 751.3L993.0 751.6L993.5 751.0L994.0 750.8L994.5 753.6L995.0 752.1L995.5 753.2L996.0 750.2L996.5 749.6L997.0 749.8L997.5 748.3L998.0 747.8L998.5 745.1L999.0 741.9L999.5 733.4L1000.0 718.6L1000.5 691.6L1001.0 709.7L1001.5 722.0L1002.0 731.4L1002.5 737.2L1003.0 741.5L1003.5 745.2L1004.0 748.3L1004.5 750.5L1005.0 751.4L1005.5 753.7L1006.0 752.8L1006.5 754.3L1007.0 753.0L1007.5 753.3L1008.0 752.2L1008.5 751.2L1009.0 751.6L1009.5 751.0L1010.0 752.1L1010.5 752.9L1011.0 752.7L1011.5 753.7L1012.0 750.5L1012.5 753.1L1013.0 752.5L1013.5 753.5L1014.0 753.1L1014.5 751.7L1015.0 753.1L1015.5 752.4L1016.0 752.4L1016.5 752.7L1017.0 752.7L1017.5 749.9L1018.0 749.2L1018.5 745.7L1019.0 740.7L1019.5 731.3L1020.0 715.1L1020.5 684.6L1021.0 704.1L1021.5 717.9L1022.0 728.4L1022.5 736.1L1023.0 741.8L1023.5 744.3L1024.0 746.9L1024.5 748.6L1025.0 751.9L1025.5 752.1L1026.0 753.4L1026.5 753.5L1027.0 754.2L1027.5 756.8L1028.0 756.7L1028.5 755.3L1029.0 757.3L1029.5 756.4L1030.0 757.2L1030.5 757.2L1031.0 753.8L1031.5 755.0L1032.0 754.5L1032.5 753.1L1033.0 748.5L1033.5 742.9L1034.0 729.6L1034.5 707.6L1035.0 667.5L1035.5 691.7L1036.0 710.0L1036.5 723.9L1037.0 733.9L1037.5 741.0L1038.0 745.3L1038.5 749.1L1039.0 752.4L1039.5 752.1L1040.0 754.3L1040.5 753.8L1041.0 753.9L1041.5 755.1L1042.0 757.1L1042.5 756.1L1043.0 756.3L1043.5 755.3L1044.0 755.1L1044.5 756.1L1045.0 754.6L1045.5 756.2L1046.0 755.7L1046.5 754.6L1047.0 755.1L1047.5 755.0L1048.0 752.9L1048.5 750.1L1049.0 747.9L1049.5 739.7L1050.0 723.8L1050.5 698.0L1051.0 654.0L1051.5 682.2L1052.0 702.6L1052.5 718.1L1053.0 729.4L1053.5 738.2L1054.0 742.4L1054.5 746.3L1055.0 748.5L1055.5 750.1L1056.0 752.7L1056.5 754.2L1057.0 752.2L1057.5 753.3L1058.0 753.2L1058.5 752.9L1059.0 753.9L1059.5 753.2L1060.0 752.5L1060.5 752.6L1061.0 751.5L1061.5 751.3L1062.0 752.4L1062.5 752.7L1063.0 753.0L1063.5 752.4L1064.0 750.7L1064.5 750.2L1065.0 751.2L1065.5 750.3L1066.0 750.3L1066.5 748.4L1067.0 744.8L1067.5 740.6L1068.0 732.1L1068.5 716.5L1069.0 691.2L1069.5 645.7L1070.0 673.8L1070.5 695.8L1071.0 710.6L1071.5 722.9L1072.0 732.1L1072.5 738.0L1073.0 742.1L1073.5 745.9L1074.0 748.7L1074.5 748.9L1075.0 750.8L1075.5 753.1L1076.0 753.4L1076.5 754.8L1077.0 752.9L1077.0 768.4L1076.5 768.5L1076.0 769.1L1075.5 770.2L1075.0 767.8L1074.5 766.7L1074.0 766.5L1073.5 765.3L1073.0 764.1L1072.5 761.4L1072.0 757.3L1071.5 750.3L1071.0 739.2L1070.5 723.3L1070.0 695.1L1069.5 650.7L1069.0 715.2L1068.5 742.4L1068.0 755.1L1067.5 761.4L1067.0 763.2L1066.5 764.6L1066.0 766.5L1065.5 767.2L1065.0 765.5L1064.5 768.0L1064.0 768.3L1063.5 768.1L1063.0 768.3L1062.5 768.5L1062.0 767.2L1061.5 766.5L1061.0 768.6L1060.5 768.8L1060.0 766.8L1059.5 769.5L1059.0 768.3L1058.5 770.4L1058.0 770.3L1057.5 770.1L1057.0 769.4L1056.5 769.8L1056.0 771.1L1055.5 769.3L1055.0 769.1L1054.5 767.4L1054.0 765.6L1053.5 763.1L1053.0 756.3L1052.5 746.2L1052.0 729.6L1051.5 703.1L1051.0 659.0L1050.5 721.6L1050.0 749.2L1049.5 762.4L1049.0 768.3L1048.5 769.5L1048.0 771.7L1047.5 771.4L1047.0 770.3L1046.5 770.0L1046.0 772.7L1045.5 769.5L1045.0 771.0L1044.5 770.3L1044.0 771.6L1043.5 772.4L1043.0 771.8L1042.5 772.6L1042.0 770.8L1041.5 772.2L1041.0 771.7L1040.5 772.3L1040.0 772.4L1039.5 771.3L1039.0 771.6L1038.5 770.4L1038.0 767.1L1037.5 764.2L1037.0 758.8L1036.5 749.7L1036.0 734.7L1035.5 710.8L1035.0 672.5L1034.5 729.3L1034.0 753.1L1033.5 764.6L1033.0 769.0L1032.5 771.3L1032.0 771.3L1031.5 772.8L1031.0 771.6L1030.5 771.5L1030.0 772.0L1029.5 770.8L1029.0 770.8L1028.5 771.3L1028.0 773.0L1027.5 772.5L1027.0 771.9L1026.5 769.9L1026.0 770.0L1025.5 768.7L1025.0 768.5L1024.5 768.0L1024.0 765.5L1023.5 765.6L1023.0 762.7L1022.5 757.7L1022.0 750.5L1021.5 739.0L1021.0 720.6L1020.5 689.6L1020.0 733.7L1019.5 751.7L1019.0 760.8L1018.5 763.2L1018.0 767.4L1017.5 767.4L1017.0 768.9L1016.5 768.8L1016.0 767.5L1015.5 767.3L1015.0 767.2L1014.5 767.0L1014.0 766.7L1013.5 767.9L1013.0 769.0L1012.5 769.1L1012.0 767.1L1011.5 767.6L1011.0 768.3L1010.5 768.9L1010.0 766.0L1009.5 768.4L1009.0 767.0L1008.5 767.6L1008.0 767.5L1007.5 768.7L1007.0 768.9L1006.5 769.7L1006.0 768.9L1005.5 770.6L1005.0 767.5L1004.5 767.8L1004.0 767.9L1003.5 765.5L1003.0 762.3L1002.5 758.1L1002.0 752.7L1001.5 742.1L1001.0 725.5L1000.5 696.6L1000.0 736.5L999.5 753.1L999.0 760.8L998.5 764.3L998.0 764.3L997.5 766.5L997.0 767.3L996.5 764.9L996.0 767.8L995.5 767.7L995.0 765.6L994.5 767.2L994.0 767.0L993.5 766.2L993.0 766.7L992.5 765.6L992.0 765.4L991.5 763.7L991.0 765.0L990.5 765.8L990.0 764.0L989.5 764.8L989.0 765.3L988.5 765.5L988.0 767.7L987.5 766.3L987.0 766.0L986.5 764.6L986.0 764.5L985.5 762.4L985.0 763.1L984.5 764.4L984.0 761.8L983.5 763.1L983.0 761.5L982.5 757.7L982.0 755.4L981.5 749.0L981.0 739.2L980.5 723.1L980.0 697.0L979.5 735.2L979.0 751.5L978.5 759.3L978.0 763.5L977.5 765.1L977.0 765.2L976.5 765.6L976.0 766.6L975.5 766.6L975.0 763.8L974.5 764.1L974.0 763.2L973.5 762.7L973.0 763.1L972.5 761.8L972.0 763.5L971.5 761.9L971.0 760.4L970.5 760.5L970.0 760.3L969.5 761.3L969.0 760.6L968.5 758.8L968.0 759.9L967.5 761.1L967.0 759.8L966.5 759.1L966.0 755.8L965.5 752.0L965.0 745.0L964.5 736.5L964.0 721.6L963.5 696.0L963.0 733.3L962.5 750.3L962.0 759.2L961.5 760.7L961.0 763.1L960.5 763.6L960.0 763.1L959.5 763.2L959.0 764.2L958.5 764.9L958.0 764.8L957.5 763.5L957.0 763.2L956.5 764.4L956.0 762.8L955.5 762.5L955.0 763.4L954.5 763.4L954.0 760.9L953.5 760.3L953.0 762.0L952.5 761.4L952.0 761.5L951.5 760.4L951.0 762.2L950.5 760.2L950.0 759.3L949.5 758.7L949.0 756.2L948.5 753.3L948.0 749.1L947.5 742.5L947.0 731.6L946.5 713.7L946.0 684.0L945.5 726.3L945.0 744.1L944.5 752.5L944.0 757.5L943.5 756.6L943.0 757.4L942.5 757.3L942.0 759.8L941.5 758.7L941.0 760.3L940.5 758.7L940.0 760.4L939.5 759.0L939.0 760.0L938.5 759.6L938.0 759.4L937.5 759.0L937.0 759.9L936.5 761.2L936.0 760.0L935.5 759.8L935.0 760.2L934.5 760.5L934.0 759.1L933.5 758.0L933.0 760.9L932.5 760.6L932.0 760.9L931.5 760.9L931.0 760.5L930.5 759.9L930.0 757.5L929.5 756.0L929.0 755.0L928.5 753.7L928.0 751.5L927.5 748.5L927.0 743.8L926.5 734.8L926.0 719.7L925.5 694.0L925.0 729.3L924.5 744.5L924.0 752.0L923.5 754.8L923.0 756.4L922.5 758.5L922.0 758.5L921.5 760.3L921.0 760.1L920.5 759.5L920.0 761.2L919.5 759.7L919.0 759.1L918.5 758.2L918.0 757.7L917.5 759.4L917.0 760.4L916.5 760.2L916.0 762.5L915.5 761.9L915.0 759.5L914.5 759.5L914.0 761.1L913.5 759.3L913.0 760.1L912.5 760.2L912.0 758.0L911.5 758.3L911.0 756.0L910.5 755.8L910.0 752.0L909.5 748.8L909.0 744.6L908.5 736.9L908.0 725.4L907.5 708.1L907.0 680.0L906.5 719.0L906.0 736.0L905.5 744.2L905.0 747.2L904.5 748.6L904.0 748.3L903.5 749.1L903.0 748.8L902.5 748.6L902.0 747.6L901.5 746.2L901.0 745.0L900.5 746.4L900.0 749.0L899.5 747.7L899.0 746.4L898.5 746.8L898.0 746.2L897.5 747.8L897.0 747.8L896.5 746.5L896.0 746.8L895.5 747.2L895.0 746.3L894.5 746.1L894.0 746.0L893.5 747.0L893.0 746.2L892.5 746.8L892.0 745.9L891.5 745.8L891.0 746.1L890.5 744.2L890.0 744.6L889.5 742.5L889.0 742.0L888.5 739.7L888.0 735.7L887.5 729.8L887.0 720.9L886.5 704.7L886.0 678.7L885.5 715.1L885.0 731.0L884.5 737.7L884.0 741.6L883.5 742.9L883.0 742.7L882.5 743.5L882.0 743.7L881.5 741.7L881.0 740.4L880.5 740.6L880.0 741.8L879.5 741.3L879.0 741.8L878.5 741.7L878.0 741.3L877.5 742.0L877.0 742.4L876.5 742.2L876.0 743.7L875.5 743.7L875.0 743.2L874.5 746.4L874.0 745.6L873.5 745.5L873.0 747.4L872.5 746.0L872.0 746.5L871.5 746.2L871.0 744.4L870.5 743.1L870.0 741.5L869.5 738.5L869.0 734.9L868.5 728.3L868.0 717.9L867.5 700.3L867.0 673.0L866.5 712.5L866.0 730.3L865.5 737.9L865.0 742.8L864.5 745.0L864.0 746.2L863.5 746.0L863.0 746.3L862.5 747.9L862.0 744.4L861.5 744.7L861.0 744.5L860.5 746.0L860.0 745.4L859.5 746.6L859.0 745.9L858.5 745.5L858.0 746.3L857.5 744.5L857.0 743.6L856.5 743.1L856.0 744.6L855.5 742.9L855.0 745.3L854.5 742.7L854.0 744.4L853.5 743.4L853.0 743.7L852.5 744.0L852.0 742.6L851.5 741.2L851.0 741.5L850.5 741.6L850.0 739.3L849.5 737.9L849.0 736.5L848.5 731.8L848.0 725.1L847.5 715.4L847.0 698.7L846.5 672.5L846.0 711.8L845.5 729.2L845.0 737.6L844.5 742.6L844.0 745.5L843.5 745.9L843.0 746.8L842.5 746.6L842.0 746.3L841.5 747.3L841.0 748.6L840.5 746.4L840.0 749.2L839.5 749.5L839.0 748.5L838.5 749.5L838.0 751.6L837.5 748.3L837.0 750.4L836.5 749.2L836.0 750.7L835.5 749.0L835.0 749.9L834.5 749.9L834.0 748.6L833.5 750.6L833.0 749.9L832.5 751.6L832.0 751.2L831.5 751.4L831.0 753.0L830.5 750.4L830.0 750.2L829.5 751.7L829.0 749.5L828.5 748.7L828.0 748.2L827.5 744.8L827.0 741.0L826.5 735.4L826.0 725.7L825.5 709.3L825.0 681.0L824.5 720.0L824.0 737.6L823.5 744.8L823.0 749.5L822.5 749.9L822.0 752.7L821.5 753.8L821.0 754.1L820.5 754.0L820.0 753.9L819.5 753.9L819.0 753.9L818.5 754.2L818.0 755.0L817.5 754.7L817.0 755.4L816.5 756.5L816.0 756.9L815.5 757.1L815.0 755.8L814.5 758.5L814.0 756.7L813.5 758.5L813.0 757.1L812.5 758.0L812.0 757.7L811.5 760.1L811.0 757.6L810.5 757.5L810.0 756.9L809.5 756.2L809.0 756.1L808.5 753.9L808.0 752.3L807.5 749.5L807.0 744.5L806.5 737.2L806.0 725.8L805.5 707.6L805.0 678.7L804.5 721.9L804.0 739.7L803.5 747.6L803.0 751.8L802.5 754.4L802.0 755.7L801.5 755.1L801.0 756.0L800.5 757.0L800.0 755.9L799.5 755.4L799.0 752.8L798.5 755.3L798.0 754.6L797.5 756.5L797.0 754.1L796.5 755.5L796.0 756.5L795.5 756.4L795.0 756.7L794.5 755.7L794.0 756.8L793.5 757.6L793.0 756.7L792.5 758.0L792.0 758.5L791.5 759.6L791.0 759.4L790.5 758.2L790.0 757.1L789.5 758.7L789.0 757.0L788.5 756.8L788.0 757.8L787.5 755.1L787.0 753.1L786.5 751.6L786.0 746.8L785.5 738.7L785.0 726.5L784.5 706.8L784.0 672.5L783.5 722.8L783.0 745.0L782.5 755.9L782.0 759.9L781.5 762.5L781.0 764.1L780.5 763.6L780.0 763.3L779.5 763.4L779.0 764.0L778.5 764.8L778.0 762.7L777.5 763.2L777.0 762.2L776.5 763.3L776.0 763.3L775.5 763.5L775.0 761.8L774.5 760.4L774.0 762.1L773.5 762.2L773.0 761.9L772.5 761.6L772.0 762.4L771.5 763.7L771.0 764.6L770.5 763.1L770.0 762.5L769.5 764.0L769.0 766.4L768.5 765.7L768.0 762.8L767.5 764.5L767.0 765.9L766.5 765.3L766.0 763.9L765.5 764.8L765.0 765.3L764.5 765.0L764.0 762.9L763.5 763.7L763.0 763.7L762.5 763.4L762.0 763.7L761.5 761.2L761.0 761.8L760.5 760.4L760.0 760.3L759.5 759.6L759.0 756.5L758.5 753.7L758.0 749.9L757.5 741.7L757.0 728.4L756.5 707.0L756.0 673.0L755.5 721.4L755.0 741.8L754.5 751.3L754.0 755.7L753.5 758.5L753.0 760.0L752.5 759.1L752.0 761.0L751.5 759.1L751.0 758.4L750.5 758.9L750.0 760.8L749.5 761.5Z" fill="url(#gC3)" stroke="url(#gC3)" stroke-width="2.0" stroke-linejoin="round"/>
<line x1="75" y1="808" x2="1067" y2="808" stroke="#000" stroke-width="4.5"/>
<line x1="189" y1="828.5" x2="618.5" y2="828.5" stroke="#000" stroke-width="4.5"/>
<text x="14.8" y="691" font-size="64" text-anchor="start" fill="#000" font-weight="bold">C</text>
<text x="174.5" y="879" font-size="43.7" text-anchor="start" fill="#000" font-weight="bold">JYGCT 5 mg/ml</text>
<text x="678.5" y="859" font-size="43.5" text-anchor="start" fill="#000" font-weight="bold">KT5823 10 µM</text>
<line x1="1079.5" y1="636" x2="1124.5" y2="636" stroke="#000" stroke-width="6.6"/>
<line x1="1101.8" y1="636" x2="1101.8" y2="779.3" stroke="#000" stroke-width="6.2"/>
<line x1="1079.5" y1="779.3" x2="1124.5" y2="779.3" stroke="#000" stroke-width="6.6"/>
<text x="1130" y="648.5" font-size="43" text-anchor="start" fill="#000" font-weight="bold">-34 mV</text>
<text x="1130" y="794" font-size="43" text-anchor="start" fill="#000" font-weight="bold">-57 mV</text>
<rect x="1595" y="430.3" width="130" height="208.09999999999997" fill="#000"/>
<rect x="1755.2" y="222" width="128.79999999999995" height="416.4" fill="#000"/>
<rect x="1914.5" y="402.2" width="130.0" height="236.2" fill="#000"/>
<rect x="2074.7" y="419.3" width="129.30000000000018" height="219.09999999999997" fill="#000"/>
<line x1="1659.6" y1="412.4" x2="1659.6" y2="432.3" stroke="#2c2c2c" stroke-width="3.3"/>
<line x1="1639.6" y1="412.4" x2="1679.6" y2="412.4" stroke="#222" stroke-width="3.5"/>
<line x1="1820" y1="187.8" x2="1820" y2="224" stroke="#2c2c2c" stroke-width="3.3"/>
<line x1="1800.5" y1="187.8" x2="1839.5" y2="187.8" stroke="#222" stroke-width="3.5"/>
<line x1="1980" y1="385.6" x2="1980" y2="404.2" stroke="#2c2c2c" stroke-width="3.3"/>
<line x1="1960.5" y1="385.6" x2="1999.5" y2="385.6" stroke="#222" stroke-width="3.5"/>
<line x1="2140.5" y1="385.6" x2="2140.5" y2="421.3" stroke="#2c2c2c" stroke-width="3.3"/>
<line x1="2121.0" y1="385.6" x2="2160.0" y2="385.6" stroke="#222" stroke-width="3.5"/>
<line x1="1580" y1="118.24999999999997" x2="1580" y2="640.3" stroke="#000" stroke-width="5.8"/>
<line x1="1569.5" y1="637.4" x2="2223" y2="637.4" stroke="#000" stroke-width="5.8"/>
<line x1="1570.5" y1="637.4" x2="1580" y2="637.4" stroke="#000" stroke-width="5.2"/>
<text x="1560" y="647.7" font-size="42.5" text-anchor="end" fill="#000" font-weight="bold">0</text>
<line x1="1570.5" y1="563.65" x2="1580" y2="563.65" stroke="#000" stroke-width="5.2"/>
<text x="1560" y="573.9" font-size="42.5" text-anchor="end" fill="#000" font-weight="bold">2</text>
<line x1="1570.5" y1="489.9" x2="1580" y2="489.9" stroke="#000" stroke-width="5.2"/>
<text x="1560" y="500.2" font-size="42.5" text-anchor="end" fill="#000" font-weight="bold">4</text>
<line x1="1570.5" y1="416.15" x2="1580" y2="416.15" stroke="#000" stroke-width="5.2"/>
<text x="1560" y="426.4" font-size="42.5" text-anchor="end" fill="#000" font-weight="bold">6</text>
<line x1="1570.5" y1="342.4" x2="1580" y2="342.4" stroke="#000" stroke-width="5.2"/>
<text x="1560" y="352.7" font-size="42.5" text-anchor="end" fill="#000" font-weight="bold">8</text>
<line x1="1570.5" y1="268.65" x2="1580" y2="268.65" stroke="#000" stroke-width="5.2"/>
<text x="1560" y="278.9" font-size="42.5" text-anchor="end" fill="#000" font-weight="bold">10</text>
<line x1="1570.5" y1="194.89999999999998" x2="1580" y2="194.89999999999998" stroke="#000" stroke-width="5.2"/>
<text x="1560" y="205.2" font-size="42.5" text-anchor="end" fill="#000" font-weight="bold">12</text>
<line x1="1570.5" y1="121.14999999999998" x2="1580" y2="121.14999999999998" stroke="#000" stroke-width="5.2"/>
<text x="1560" y="131.4" font-size="42.5" text-anchor="end" fill="#000" font-weight="bold">14</text>
<line x1="1660.0" y1="637.4" x2="1660.0" y2="646.9" stroke="#000" stroke-width="5"/>
<text x="1660.5" y="696" font-size="43" text-anchor="middle" fill="#000" font-weight="bold">CTRL</text>
<line x1="1819.6" y1="637.4" x2="1819.6" y2="646.9" stroke="#000" stroke-width="5"/>
<text x="1814.5" y="691" font-size="43" text-anchor="middle" fill="#000" font-weight="bold">SQ.</text>
<line x1="1979.5" y1="637.4" x2="1979.5" y2="646.9" stroke="#000" stroke-width="5"/>
<text x="1975" y="696" font-size="43" text-anchor="middle" fill="#000" font-weight="bold">ODQ</text>
<line x1="2139.35" y1="637.4" x2="2139.35" y2="646.9" stroke="#000" stroke-width="5"/>
<text x="2147.5" y="696" font-size="43" text-anchor="middle" fill="#000" font-weight="bold">KT5823</text>
<text x="1769.6" y="189.2" font-size="58" text-anchor="start" fill="#000" font-weight="normal" letter-spacing="2.4" stroke="#000" stroke-width="1.1" stroke-linejoin="round">****</text>
<text x="1475" y="365" font-size="40.1" text-anchor="middle" fill="#363636" font-weight="bold" transform="rotate(-90 1475 365)">Frequency (cycles/min)</text>
<line x1="1578" y1="717" x2="2228" y2="717" stroke="#000" stroke-width="4.2"/>
<text x="1889.5" y="773.5" font-size="43.7" text-anchor="middle" fill="#000" font-weight="bold">JYGCT 5 mg/ml</text>
<text x="1385" y="112.5" font-size="64" text-anchor="start" fill="#000" font-weight="bold">D</text>
<rect x="299.8" y="1564.4" width="130.7" height="43.0" fill="#000"/>
<rect x="461.5" y="1173.3" width="132.0" height="434.10000000000014" fill="#000"/>
<rect x="624.8" y="1562.2" width="131.20000000000005" height="45.200000000000045" fill="#000"/>
<rect x="786.8" y="1559.3" width="131.60000000000002" height="48.100000000000136" fill="#000"/>
<line x1="364.5" y1="1557" x2="364.5" y2="1566.4" stroke="#2c2c2c" stroke-width="3.3"/>
<line x1="346.0" y1="1557" x2="383.0" y2="1557" stroke="#222" stroke-width="3.5"/>
<line x1="527.7" y1="1151.5" x2="527.7" y2="1175.3" stroke="#2c2c2c" stroke-width="3.3"/>
<line x1="507.20000000000005" y1="1151.5" x2="548.2" y2="1151.5" stroke="#222" stroke-width="3.5"/>
<line x1="690" y1="1551" x2="690" y2="1564.2" stroke="#2c2c2c" stroke-width="3.3"/>
<line x1="670" y1="1551" x2="710" y2="1551" stroke="#222" stroke-width="3.5"/>
<line x1="852.5" y1="1549" x2="852.5" y2="1561.3" stroke="#2c2c2c" stroke-width="3.3"/>
<line x1="832.5" y1="1549" x2="872.5" y2="1549" stroke="#222" stroke-width="3.5"/>
<line x1="283" y1="1079.7" x2="283" y2="1609.3000000000002" stroke="#000" stroke-width="5.8"/>
<line x1="272.5" y1="1606.4" x2="937" y2="1606.4" stroke="#000" stroke-width="5.8"/>
<line x1="273.5" y1="1606.4" x2="283" y2="1606.4" stroke="#000" stroke-width="5.2"/>
<text x="262" y="1618.9" font-size="42.5" text-anchor="end" fill="#000" font-weight="bold">0</text>
<line x1="273.5" y1="1519.1000000000001" x2="283" y2="1519.1000000000001" stroke="#000" stroke-width="5.2"/>
<text x="262" y="1531.6" font-size="42.5" text-anchor="end" fill="#000" font-weight="bold">5</text>
<line x1="273.5" y1="1431.8000000000002" x2="283" y2="1431.8000000000002" stroke="#000" stroke-width="5.2"/>
<text x="262" y="1444.3" font-size="42.5" text-anchor="end" fill="#000" font-weight="bold">10</text>
<line x1="273.5" y1="1344.5" x2="283" y2="1344.5" stroke="#000" stroke-width="5.2"/>
<text x="262" y="1357.0" font-size="42.5" text-anchor="end" fill="#000" font-weight="bold">15</text>
<line x1="273.5" y1="1257.2" x2="283" y2="1257.2" stroke="#000" stroke-width="5.2"/>
<text x="262" y="1269.7" font-size="42.5" text-anchor="end" fill="#000" font-weight="bold">20</text>
<line x1="273.5" y1="1169.9" x2="283" y2="1169.9" stroke="#000" stroke-width="5.2"/>
<text x="262" y="1182.4" font-size="42.5" text-anchor="end" fill="#000" font-weight="bold">25</text>
<line x1="273.5" y1="1082.6000000000001" x2="283" y2="1082.6000000000001" stroke="#000" stroke-width="5.2"/>
<text x="262" y="1095.1" font-size="42.5" text-anchor="end" fill="#000" font-weight="bold">30</text>
<line x1="365.15" y1="1606.4" x2="365.15" y2="1615.9" stroke="#000" stroke-width="5"/>
<text x="361.3" y="1666" font-size="43" text-anchor="middle" fill="#000" font-weight="bold">CTRL</text>
<line x1="527.5" y1="1606.4" x2="527.5" y2="1615.9" stroke="#000" stroke-width="5"/>
<text x="522" y="1659.5" font-size="43" text-anchor="middle" fill="#000" font-weight="bold">SQ.</text>
<line x1="690.4" y1="1606.4" x2="690.4" y2="1615.9" stroke="#000" stroke-width="5"/>
<text x="682.5" y="1666" font-size="43" text-anchor="middle" fill="#000" font-weight="bold">ODQ</text>
<line x1="852.5999999999999" y1="1606.4" x2="852.5999999999999" y2="1615.9" stroke="#000" stroke-width="5"/>
<text x="859.5" y="1666" font-size="43" text-anchor="middle" fill="#000" font-weight="bold">KT5823</text>
<text x="482" y="1141.2" font-size="58" text-anchor="start" fill="#000" font-weight="normal" letter-spacing="2.4" stroke="#000" stroke-width="1.1" stroke-linejoin="round">****</text>
<text x="172" y="1287" font-size="40.1" text-anchor="middle" fill="#363636" font-weight="bold" transform="rotate(-90 172 1287)">Amplitude (mV)</text>
<line x1="286" y1="1691.7" x2="938" y2="1691.7" stroke="#000" stroke-width="4.2"/>
<text x="580" y="1745.5" font-size="43.7" text-anchor="middle" fill="#000" font-weight="bold">JYGCT 5 mg/ml</text>
<text x="97" y="1063" font-size="64" text-anchor="start" fill="#000" font-weight="bold">E</text>
<line x1="1529.7" y1="1096" x2="1529.7" y2="1681" stroke="#383838" stroke-width="3"/>
<line x1="1528.2" y1="1674.7" x2="2288" y2="1674.7" stroke="#383838" stroke-width="3"/>
<line x1="1518.7" y1="1097.2" x2="1529.7" y2="1097.2" stroke="#383838" stroke-width="2.6"/>
<text x="1506" y="1109.2" font-size="31.3" text-anchor="end" fill="#141414" font-weight="bold">0.70</text>
<line x1="1523.7" y1="1146.9" x2="1529.7" y2="1146.9" stroke="#383838" stroke-width="2.4"/>
<line x1="1518.7" y1="1196.65" x2="1529.7" y2="1196.65" stroke="#383838" stroke-width="2.6"/>
<text x="1506" y="1208.7" font-size="31.3" text-anchor="end" fill="#141414" font-weight="bold">0.65</text>
<line x1="1523.7" y1="1246.3500000000001" x2="1529.7" y2="1246.3500000000001" stroke="#383838" stroke-width="2.4"/>
<line x1="1518.7" y1="1296.1000000000001" x2="1529.7" y2="1296.1000000000001" stroke="#383838" stroke-width="2.6"/>
<text x="1506" y="1308.1" font-size="31.3" text-anchor="end" fill="#141414" font-weight="bold">0.60</text>
<line x1="1523.7" y1="1345.8000000000002" x2="1529.7" y2="1345.8000000000002" stroke="#383838" stroke-width="2.4"/>
<line x1="1518.7" y1="1395.5500000000002" x2="1529.7" y2="1395.5500000000002" stroke="#383838" stroke-width="2.6"/>
<text x="1506" y="1407.6" font-size="31.3" text-anchor="end" fill="#141414" font-weight="bold">0.55</text>
<line x1="1523.7" y1="1445.2500000000002" x2="1529.7" y2="1445.2500000000002" stroke="#383838" stroke-width="2.4"/>
<line x1="1518.7" y1="1495.0" x2="1529.7" y2="1495.0" stroke="#383838" stroke-width="2.6"/>
<text x="1506" y="1507.0" font-size="31.3" text-anchor="end" fill="#141414" font-weight="bold">0.50</text>
<line x1="1523.7" y1="1544.7" x2="1529.7" y2="1544.7" stroke="#383838" stroke-width="2.4"/>
<line x1="1518.7" y1="1594.45" x2="1529.7" y2="1594.45" stroke="#383838" stroke-width="2.6"/>
<text x="1506" y="1606.5" font-size="31.3" text-anchor="end" fill="#141414" font-weight="bold">0.45</text>
<line x1="1523.7" y1="1644.15" x2="1529.7" y2="1644.15" stroke="#383838" stroke-width="2.4"/>
<line x1="1587.2" y1="1674.7" x2="1587.2" y2="1686.2" stroke="#383838" stroke-width="2.8"/>
<text x="1585.0" y="1720.5" font-size="31.3" text-anchor="middle" fill="#141414" font-weight="bold">0</text>
<line x1="1645.5" y1="1674.7" x2="1645.5" y2="1681.7" stroke="#383838" stroke-width="2.6"/>
<line x1="1703.75" y1="1674.7" x2="1703.75" y2="1686.2" stroke="#383838" stroke-width="2.8"/>
<text x="1707.5" y="1720.5" font-size="31.3" text-anchor="middle" fill="#141414" font-weight="bold">50</text>
<line x1="1762.05" y1="1674.7" x2="1762.05" y2="1681.7" stroke="#383838" stroke-width="2.6"/>
<line x1="1820.3" y1="1674.7" x2="1820.3" y2="1686.2" stroke="#383838" stroke-width="2.8"/>
<text x="1823.6" y="1720.5" font-size="31.3" text-anchor="middle" fill="#141414" font-weight="bold">100</text>
<line x1="1878.6" y1="1674.7" x2="1878.6" y2="1681.7" stroke="#383838" stroke-width="2.6"/>
<line x1="1936.85" y1="1674.7" x2="1936.85" y2="1686.2" stroke="#383838" stroke-width="2.8"/>
<text x="1941.3" y="1720.5" font-size="31.3" text-anchor="middle" fill="#141414" font-weight="bold">150</text>
<line x1="1995.1499999999999" y1="1674.7" x2="1995.1499999999999" y2="1681.7" stroke="#383838" stroke-width="2.6"/>
<line x1="2053.4" y1="1674.7" x2="2053.4" y2="1686.2" stroke="#383838" stroke-width="2.8"/>
<text x="2056.7" y="1720.5" font-size="31.3" text-anchor="middle" fill="#141414" font-weight="bold">200</text>
<line x1="2111.7000000000003" y1="1674.7" x2="2111.7000000000003" y2="1681.7" stroke="#383838" stroke-width="2.6"/>
<line x1="2169.95" y1="1674.7" x2="2169.95" y2="1686.2" stroke="#383838" stroke-width="2.8"/>
<text x="2170.2" y="1720.5" font-size="31.3" text-anchor="middle" fill="#141414" font-weight="bold">250</text>
<line x1="2228.25" y1="1674.7" x2="2228.25" y2="1681.7" stroke="#383838" stroke-width="2.6"/>
<line x1="2286.5" y1="1674.7" x2="2286.5" y2="1686.2" stroke="#383838" stroke-width="2.8"/>
<text x="2283.7" y="1720.5" font-size="31.3" text-anchor="middle" fill="#141414" font-weight="bold">300</text>
<path d="M1589.0 1599.8L1589.5 1602.4L1590.0 1607.2L1590.5 1615.5L1591.0 1621.2L1591.5 1620.4L1592.0 1621.3L1592.5 1621.1L1593.0 1623.8L1593.5 1624.8L1594.0 1624.4L1594.5 1629.7L1595.0 1631.5L1595.5 1630.9L1596.0 1631.2L1596.5 1627.5L1597.0 1626.7L1597.5 1632.2L1598.0 1637.8L1598.5 1636.4L1599.0 1631.8L1599.5 1631.7L1600.0 1629.8L1600.5 1634.5L1601.0 1640.5L1601.5 1639.3L1602.0 1639.1L1602.5 1635.2L1603.0 1634.1L1603.5 1636.9L1604.0 1628.4L1604.5 1629.8L1605.0 1631.4L1605.5 1635.5L1606.0 1633.6L1606.5 1636.9L1607.0 1640.2L1607.5 1641.7L1608.0 1641.9L1608.5 1637.0L1609.0 1632.8L1609.5 1637.1L1610.0 1641.0L1610.5 1635.7L1611.0 1632.9L1611.5 1634.3L1612.0 1635.6L1612.5 1643.0L1613.0 1640.4L1613.5 1633.8L1614.0 1637.8L1614.5 1645.6L1615.0 1638.1L1615.5 1633.9L1616.0 1635.1L1616.5 1641.8L1617.0 1638.4L1617.5 1639.2L1618.0 1643.5L1618.5 1639.2L1619.0 1635.9L1619.5 1639.4L1620.0 1637.9L1620.5 1634.5L1621.0 1639.3L1621.5 1638.3L1622.0 1640.6L1622.5 1638.7L1623.0 1638.5L1623.5 1635.9L1624.0 1633.7L1624.5 1638.9L1625.0 1640.5L1625.5 1641.4L1626.0 1640.3L1626.5 1635.6L1627.0 1637.2L1627.5 1642.3L1628.0 1639.5L1628.5 1639.1L1629.0 1636.9L1629.5 1634.3L1630.0 1635.5L1630.5 1638.5L1631.0 1635.0L1631.5 1638.3L1632.0 1642.9L1632.5 1635.8L1633.0 1639.1L1633.5 1639.7L1634.0 1636.3L1634.5 1639.3L1635.0 1637.5L1635.5 1630.1L1636.0 1637.6L1636.5 1637.8L1637.0 1634.4L1637.5 1639.6L1638.0 1637.4L1638.5 1637.2L1639.0 1638.2L1639.5 1637.7L1640.0 1636.0L1640.5 1633.1L1641.0 1639.9L1641.5 1641.3L1642.0 1638.7L1642.5 1635.9L1643.0 1636.5L1643.5 1638.2L1644.0 1634.1L1644.5 1635.4L1645.0 1638.7L1645.5 1639.2L1646.0 1633.4L1646.5 1632.2L1647.0 1631.6L1647.5 1632.1L1648.0 1633.1L1648.5 1635.4L1649.0 1637.2L1649.5 1634.0L1650.0 1634.5L1650.5 1638.9L1651.0 1633.7L1651.5 1633.4L1652.0 1632.0L1652.5 1627.4L1653.0 1628.9L1653.5 1634.8L1654.0 1633.0L1654.5 1627.9L1655.0 1629.6L1655.5 1632.0L1656.0 1629.1L1656.5 1630.4L1657.0 1633.8L1657.5 1635.2L1658.0 1632.3L1658.5 1633.9L1659.0 1627.6L1659.5 1625.2L1660.0 1627.4L1660.5 1628.7L1661.0 1628.6L1661.5 1623.2L1662.0 1620.9L1662.5 1613.0L1663.0 1600.9L1663.5 1564.0L1664.0 1513.3L1664.5 1452.4L1665.0 1474.2L1665.5 1494.7L1666.0 1513.9L1666.5 1531.8L1667.0 1548.5L1667.5 1564.0L1668.0 1578.0L1668.5 1590.3L1669.0 1598.3L1669.5 1600.5L1670.0 1601.7L1670.5 1604.7L1671.0 1607.1L1671.5 1604.3L1672.0 1601.2L1672.5 1605.5L1673.0 1608.3L1673.5 1609.8L1674.0 1605.7L1674.5 1598.3L1675.0 1597.4L1675.5 1599.6L1676.0 1595.9L1676.5 1585.0L1677.0 1561.4L1677.5 1533.1L1678.0 1500.8L1678.5 1464.8L1679.0 1425.0L1679.5 1447.0L1680.0 1467.8L1680.5 1487.3L1681.0 1505.8L1681.5 1523.1L1682.0 1539.3L1682.5 1554.2L1683.0 1567.7L1683.5 1579.7L1684.0 1588.9L1684.5 1591.2L1685.0 1590.9L1685.5 1590.7L1686.0 1589.3L1686.5 1591.7L1687.0 1592.3L1687.5 1587.9L1688.0 1583.4L1688.5 1575.7L1689.0 1553.1L1689.5 1524.9L1690.0 1492.9L1690.5 1457.1L1691.0 1417.5L1691.5 1438.3L1692.0 1458.0L1692.5 1476.7L1693.0 1494.3L1693.5 1511.1L1694.0 1526.8L1694.5 1541.5L1695.0 1555.0L1695.5 1567.3L1696.0 1577.0L1696.5 1582.2L1697.0 1584.0L1697.5 1589.2L1698.0 1589.7L1698.5 1586.8L1699.0 1588.0L1699.5 1591.3L1700.0 1591.8L1700.5 1587.8L1701.0 1588.1L1701.5 1584.3L1702.0 1580.3L1702.5 1572.5L1703.0 1547.3L1703.5 1516.6L1704.0 1481.8L1704.5 1442.8L1705.0 1399.6L1705.5 1415.0L1706.0 1429.9L1706.5 1444.2L1707.0 1458.1L1707.5 1471.5L1708.0 1484.4L1708.5 1496.8L1709.0 1508.8L1709.5 1520.2L1710.0 1531.2L1710.5 1541.6L1711.0 1551.5L1711.5 1560.7L1712.0 1569.2L1712.5 1576.5L1713.0 1583.3L1713.5 1583.4L1714.0 1581.9L1714.5 1583.5L1715.0 1585.0L1715.5 1585.4L1716.0 1588.0L1716.5 1590.9L1717.0 1588.4L1717.5 1587.2L1718.0 1592.2L1718.5 1594.9L1719.0 1591.9L1719.5 1592.9L1720.0 1592.9L1720.5 1593.9L1721.0 1596.3L1721.5 1595.3L1722.0 1601.1L1722.5 1601.9L1723.0 1602.7L1723.5 1602.1L1724.0 1598.6L1724.5 1599.4L1725.0 1598.4L1725.5 1601.0L1726.0 1602.7L1726.5 1600.7L1727.0 1599.4L1727.5 1599.2L1728.0 1595.8L1728.5 1593.7L1729.0 1589.6L1729.5 1568.5L1730.0 1539.7L1730.5 1506.2L1731.0 1468.7L1731.5 1427.2L1732.0 1381.7L1732.5 1409.1L1733.0 1435.1L1733.5 1459.5L1734.0 1482.6L1734.5 1504.2L1735.0 1524.4L1735.5 1543.1L1736.0 1560.0L1736.5 1574.8L1737.0 1585.4L1737.5 1587.6L1738.0 1588.8L1738.5 1591.3L1739.0 1588.2L1739.5 1590.6L1740.0 1591.9L1740.5 1593.3L1741.0 1593.8L1741.5 1593.7L1742.0 1591.2L1742.5 1588.5L1743.0 1587.1L1743.5 1571.8L1744.0 1539.9L1744.5 1501.1L1745.0 1456.5L1745.5 1406.0L1746.0 1428.5L1746.5 1449.8L1747.0 1470.1L1747.5 1489.3L1748.0 1507.4L1748.5 1524.4L1749.0 1540.4L1749.5 1555.1L1750.0 1568.4L1750.5 1580.5L1751.0 1585.7L1751.5 1585.2L1752.0 1588.0L1752.5 1591.3L1753.0 1592.0L1753.5 1595.4L1754.0 1597.2L1754.5 1596.1L1755.0 1595.6L1755.5 1597.2L1756.0 1596.3L1756.5 1592.7L1757.0 1593.6L1757.5 1588.0L1758.0 1570.1L1758.5 1544.9L1759.0 1515.4L1759.5 1482.1L1760.0 1444.8L1760.5 1462.8L1761.0 1479.8L1761.5 1496.0L1762.0 1511.3L1762.5 1525.7L1763.0 1539.3L1763.5 1552.0L1764.0 1563.7L1764.5 1574.3L1765.0 1582.7L1765.5 1590.0L1766.0 1588.6L1766.5 1588.8L1767.0 1591.3L1767.5 1592.0L1768.0 1592.6L1768.5 1594.0L1769.0 1595.1L1769.5 1590.8L1770.0 1582.1L1770.5 1561.1L1771.0 1536.2L1771.5 1507.5L1772.0 1475.0L1772.5 1489.4L1773.0 1503.1L1773.5 1516.1L1774.0 1528.3L1774.5 1540.0L1775.0 1550.9L1775.5 1561.1L1776.0 1570.5L1776.5 1578.4L1777.0 1587.6L1777.5 1592.2L1778.0 1591.9L1778.5 1589.7L1779.0 1590.0L1779.5 1593.4L1780.0 1593.4L1780.5 1594.3L1781.0 1598.2L1781.5 1595.4L1782.0 1588.9L1782.5 1576.4L1783.0 1558.0L1783.5 1536.3L1784.0 1511.8L1784.5 1484.4L1785.0 1497.5L1785.5 1509.9L1786.0 1521.7L1786.5 1532.8L1787.0 1543.3L1787.5 1553.2L1788.0 1562.4L1788.5 1571.0L1789.0 1579.3L1789.5 1587.0L1790.0 1587.6L1790.5 1585.3L1791.0 1586.7L1791.5 1587.7L1792.0 1588.1L1792.5 1592.6L1793.0 1592.6L1793.5 1590.6L1794.0 1586.1L1794.5 1580.7L1795.0 1564.9L1795.5 1540.1L1796.0 1511.2L1796.5 1478.5L1797.0 1442.0L1797.5 1462.2L1798.0 1481.2L1798.5 1499.0L1799.0 1515.7L1799.5 1531.3L1800.0 1545.7L1800.5 1558.8L1801.0 1570.4L1801.5 1576.0L1802.0 1581.0L1802.5 1582.6L1803.0 1580.4L1803.5 1582.6L1804.0 1587.4L1804.5 1585.2L1805.0 1586.1L1805.5 1587.4L1806.0 1583.2L1806.5 1577.9L1807.0 1561.9L1807.5 1539.0L1808.0 1512.4L1808.5 1482.3L1809.0 1448.6L1809.5 1467.4L1810.0 1485.1L1810.5 1501.6L1811.0 1517.2L1811.5 1531.7L1812.0 1545.1L1812.5 1557.3L1813.0 1567.7L1813.5 1578.6L1814.0 1580.4L1814.5 1578.8L1815.0 1577.2L1815.5 1577.4L1816.0 1579.9L1816.5 1581.0L1817.0 1581.6L1817.5 1581.7L1818.0 1577.5L1818.5 1579.8L1819.0 1569.5L1819.5 1554.1L1820.0 1535.9L1820.5 1515.2L1821.0 1492.0L1821.5 1504.6L1822.0 1516.5L1822.5 1527.7L1823.0 1538.4L1823.5 1548.4L1824.0 1557.7L1824.5 1566.4L1825.0 1575.5L1825.5 1582.6L1826.0 1582.8L1826.5 1586.0L1827.0 1588.8L1827.5 1588.4L1828.0 1588.5L1828.5 1590.8L1829.0 1590.8L1829.5 1589.2L1830.0 1589.3L1830.5 1588.9L1831.0 1575.6L1831.5 1553.1L1832.0 1525.5L1832.5 1493.9L1833.0 1458.0L1833.5 1473.6L1834.0 1488.4L1834.5 1502.4L1835.0 1515.7L1835.5 1528.2L1836.0 1540.0L1836.5 1551.0L1837.0 1561.1L1837.5 1570.4L1838.0 1577.1L1838.5 1581.3L1839.0 1582.3L1839.5 1580.3L1840.0 1581.8L1840.5 1587.1L1841.0 1588.0L1841.5 1588.8L1842.0 1588.9L1842.5 1585.9L1843.0 1583.4L1843.5 1583.2L1844.0 1586.7L1844.5 1581.2L1845.0 1571.8L1845.5 1562.7L1846.0 1549.9L1846.5 1535.3L1847.0 1542.8L1847.5 1549.9L1848.0 1556.6L1848.5 1562.8L1849.0 1568.3L1849.5 1574.9L1850.0 1579.1L1850.5 1582.8L1851.0 1584.7L1851.5 1589.5L1852.0 1591.0L1852.5 1588.0L1853.0 1588.8L1853.5 1592.3L1854.0 1590.8L1854.5 1591.3L1855.0 1593.8L1855.5 1592.6L1856.0 1593.8L1856.5 1596.1L1857.0 1597.3L1857.5 1590.7L1858.0 1588.2L1858.5 1593.8L1859.0 1596.1L1859.5 1589.5L1860.0 1592.9L1860.5 1593.3L1861.0 1595.2L1861.5 1599.4L1862.0 1597.4L1862.5 1597.2L1863.0 1596.6L1863.5 1595.2L1864.0 1589.6L1864.5 1593.6L1865.0 1601.2L1865.5 1601.7L1866.0 1596.2L1866.5 1592.9L1867.0 1598.2L1867.5 1596.5L1868.0 1597.1L1868.5 1596.2L1869.0 1599.3L1869.5 1600.5L1870.0 1597.3L1870.5 1595.9L1871.0 1595.7L1871.5 1597.4L1872.0 1598.1L1872.5 1596.5L1873.0 1593.7L1873.5 1595.7L1874.0 1597.9L1874.5 1599.3L1875.0 1597.6L1875.5 1596.0L1876.0 1599.8L1876.5 1600.1L1877.0 1601.2L1877.5 1594.0L1878.0 1598.1L1878.5 1598.8L1879.0 1600.8L1879.5 1602.5L1880.0 1603.4L1880.5 1603.5L1881.0 1601.8L1881.5 1600.9L1882.0 1598.5L1882.5 1594.7L1883.0 1595.3L1883.5 1600.7L1884.0 1604.7L1884.5 1600.4L1885.0 1596.7L1885.5 1598.0L1886.0 1601.6L1886.5 1607.0L1887.0 1605.4L1887.5 1601.1L1888.0 1603.2L1888.5 1603.3L1889.0 1602.2L1889.5 1607.4L1890.0 1605.7L1890.5 1599.6L1891.0 1598.1L1891.5 1604.8L1892.0 1603.3L1892.5 1603.2L1893.0 1611.8L1893.5 1606.4L1894.0 1599.9L1894.5 1602.3L1895.0 1605.0L1895.5 1601.1L1896.0 1602.4L1896.5 1606.5L1897.0 1608.9L1897.5 1606.8L1898.0 1606.9L1898.5 1605.8L1899.0 1604.4L1899.5 1600.2L1900.0 1600.2L1900.5 1601.3L1901.0 1602.8L1901.5 1602.8L1902.0 1604.5L1902.5 1604.3L1903.0 1604.2L1903.5 1610.7L1904.0 1608.6L1904.5 1606.5L1905.0 1607.7L1905.5 1605.7L1906.0 1605.3L1906.5 1608.2L1907.0 1607.0L1907.5 1608.0L1908.0 1609.6L1908.5 1610.5L1909.0 1608.5L1909.5 1604.0L1910.0 1606.6L1910.5 1607.3L1911.0 1598.0L1911.5 1601.4L1912.0 1607.2L1912.5 1606.9L1913.0 1600.2L1913.5 1601.9L1914.0 1606.3L1914.5 1609.9L1915.0 1605.8L1915.5 1601.6L1916.0 1604.4L1916.5 1602.4L1917.0 1600.0L1917.5 1601.3L1918.0 1604.9L1918.5 1604.7L1919.0 1608.3L1919.5 1608.6L1920.0 1605.9L1920.5 1602.8L1921.0 1600.3L1921.5 1599.7L1922.0 1603.8L1922.5 1605.0L1923.0 1604.6L1923.5 1604.7L1924.0 1603.0L1924.5 1605.6L1925.0 1608.9L1925.5 1608.8L1926.0 1606.1L1926.5 1608.9L1927.0 1608.3L1927.5 1605.6L1928.0 1600.2L1928.5 1605.8L1929.0 1611.9L1929.5 1610.6L1930.0 1609.7L1930.5 1606.4L1931.0 1600.5L1931.5 1605.6L1932.0 1608.5L1932.5 1602.0L1933.0 1605.0L1933.5 1607.5L1934.0 1608.4L1934.5 1605.5L1935.0 1602.7L1935.5 1600.2L1936.0 1605.0L1936.5 1608.6L1937.0 1607.4L1937.5 1604.5L1938.0 1600.5L1938.5 1604.4L1939.0 1609.4L1939.5 1605.7L1940.0 1601.5L1940.5 1606.3L1941.0 1610.3L1941.5 1604.8L1942.0 1602.0L1942.5 1606.0L1943.0 1608.2L1943.5 1606.4L1944.0 1607.3L1944.5 1609.7L1945.0 1606.7L1945.5 1606.3L1946.0 1602.7L1946.5 1603.3L1947.0 1601.7L1947.5 1602.9L1948.0 1601.6L1948.5 1598.9L1949.0 1606.4L1949.5 1607.5L1950.0 1602.7L1950.5 1606.6L1951.0 1605.0L1951.5 1602.6L1952.0 1605.7L1952.5 1606.8L1953.0 1608.2L1953.5 1605.7L1954.0 1609.0L1954.5 1609.6L1955.0 1604.6L1955.5 1603.8L1956.0 1603.7L1956.5 1600.3L1957.0 1606.1L1957.5 1604.4L1958.0 1600.6L1958.5 1601.3L1959.0 1604.3L1959.5 1605.8L1960.0 1603.1L1960.5 1605.1L1961.0 1607.1L1961.5 1605.0L1962.0 1597.4L1962.5 1603.1L1963.0 1606.2L1963.5 1602.1L1964.0 1608.1L1964.5 1606.8L1965.0 1602.0L1965.5 1606.9L1966.0 1611.0L1966.5 1612.2L1967.0 1612.9L1967.5 1608.2L1968.0 1604.5L1968.5 1605.5L1969.0 1607.3L1969.5 1605.2L1970.0 1606.6L1970.5 1602.9L1971.0 1605.4L1971.5 1607.8L1972.0 1608.1L1972.5 1611.9L1973.0 1608.1L1973.5 1604.3L1974.0 1604.6L1974.5 1607.0L1975.0 1608.8L1975.5 1607.2L1976.0 1607.6L1976.5 1604.8L1977.0 1603.8L1977.5 1608.9L1978.0 1606.2L1978.5 1608.7L1979.0 1610.6L1979.5 1611.7L1980.0 1609.5L1980.5 1610.4L1981.0 1607.5L1981.5 1608.1L1982.0 1611.2L1982.5 1609.2L1983.0 1611.4L1983.5 1608.1L1984.0 1602.7L1984.5 1603.5L1985.0 1605.7L1985.5 1601.5L1986.0 1601.7L1986.5 1601.2L1987.0 1604.4L1987.5 1605.1L1988.0 1600.2L1988.5 1603.7L1989.0 1604.5L1989.5 1601.9L1990.0 1602.9L1990.5 1604.9L1991.0 1605.1L1991.5 1606.2L1992.0 1603.8L1992.5 1602.6L1993.0 1607.4L1993.5 1607.9L1994.0 1604.9L1994.5 1603.8L1995.0 1600.3L1995.5 1598.7L1996.0 1596.7L1996.5 1581.2L1997.0 1560.4L1997.5 1538.6L1998.0 1513.6L1998.5 1524.8L1999.0 1535.2L1999.5 1544.8L2000.0 1553.7L2000.5 1561.8L2001.0 1569.2L2001.5 1575.6L2002.0 1576.8L2002.5 1578.2L2003.0 1578.3L2003.5 1581.5L2004.0 1581.6L2004.5 1580.5L2005.0 1580.2L2005.5 1582.6L2006.0 1581.0L2006.5 1584.3L2007.0 1589.5L2007.5 1590.0L2008.0 1588.5L2008.5 1583.2L2009.0 1583.5L2009.5 1581.8L2010.0 1584.8L2010.5 1589.3L2011.0 1589.2L2011.5 1587.9L2012.0 1583.6L2012.5 1585.9L2013.0 1591.2L2013.5 1590.0L2014.0 1587.8L2014.5 1585.4L2015.0 1583.9L2015.5 1589.8L2016.0 1591.0L2016.5 1592.9L2017.0 1594.9L2017.5 1588.0L2018.0 1585.3L2018.5 1590.1L2019.0 1590.6L2019.5 1590.4L2020.0 1592.0L2020.5 1593.7L2021.0 1591.4L2021.5 1590.4L2022.0 1587.7L2022.5 1585.5L2023.0 1582.9L2023.5 1584.9L2024.0 1581.2L2024.5 1573.8L2025.0 1546.9L2025.5 1515.2L2026.0 1478.1L2026.5 1435.4L2027.0 1456.3L2027.5 1475.9L2028.0 1494.1L2028.5 1511.0L2029.0 1526.6L2029.5 1540.8L2030.0 1553.4L2030.5 1565.1L2031.0 1565.7L2031.5 1569.4L2032.0 1569.1L2032.5 1570.0L2033.0 1572.4L2033.5 1572.5L2034.0 1575.8L2034.5 1578.6L2035.0 1580.1L2035.5 1579.4L2036.0 1581.4L2036.5 1576.4L2037.0 1573.0L2037.5 1577.8L2038.0 1577.9L2038.5 1581.6L2039.0 1585.9L2039.5 1581.9L2040.0 1583.3L2040.5 1582.4L2041.0 1581.4L2041.5 1580.6L2042.0 1581.1L2042.5 1585.4L2043.0 1585.7L2043.5 1584.6L2044.0 1577.2L2044.5 1579.1L2045.0 1578.8L2045.5 1578.6L2046.0 1580.6L2046.5 1583.8L2047.0 1580.7L2047.5 1579.0L2048.0 1578.4L2048.5 1577.9L2049.0 1575.1L2049.5 1571.3L2050.0 1570.2L2050.5 1561.1L2051.0 1534.2L2051.5 1501.6L2052.0 1463.9L2052.5 1421.3L2053.0 1441.9L2053.5 1461.3L2054.0 1479.7L2054.5 1497.0L2055.0 1513.3L2055.5 1528.5L2056.0 1542.6L2056.5 1555.4L2057.0 1565.7L2057.5 1571.6L2058.0 1574.3L2058.5 1576.9L2059.0 1576.9L2059.5 1580.1L2060.0 1581.5L2060.5 1583.7L2061.0 1580.7L2061.5 1582.2L2062.0 1583.5L2062.5 1578.7L2063.0 1567.7L2063.5 1544.5L2064.0 1516.4L2064.5 1484.2L2065.0 1447.7L2065.5 1463.2L2066.0 1478.0L2066.5 1491.9L2067.0 1505.1L2067.5 1517.5L2068.0 1529.2L2068.5 1540.1L2069.0 1550.1L2069.5 1558.8L2070.0 1565.4L2070.5 1568.6L2071.0 1569.3L2071.5 1572.0L2072.0 1575.3L2072.5 1572.5L2073.0 1577.4L2073.5 1577.1L2074.0 1576.2L2074.5 1580.0L2075.0 1576.5L2075.5 1574.7L2076.0 1581.6L2076.5 1584.5L2077.0 1580.1L2077.5 1580.6L2078.0 1588.3L2078.5 1587.4L2079.0 1580.8L2079.5 1579.1L2080.0 1582.2L2080.5 1578.8L2081.0 1581.2L2081.5 1581.1L2082.0 1578.9L2082.5 1578.7L2083.0 1577.0L2083.5 1569.4L2084.0 1550.7L2084.5 1528.3L2085.0 1502.4L2085.5 1473.0L2086.0 1487.2L2086.5 1500.7L2087.0 1513.4L2087.5 1525.4L2088.0 1536.6L2088.5 1547.2L2089.0 1556.9L2089.5 1565.1L2090.0 1571.1L2090.5 1576.1L2091.0 1579.7L2091.5 1581.7L2092.0 1582.5L2092.5 1581.0L2093.0 1581.6L2093.5 1581.0L2094.0 1576.0L2094.5 1575.3L2095.0 1566.7L2095.5 1542.7L2096.0 1513.5L2096.5 1480.0L2097.0 1442.0L2097.5 1461.0L2098.0 1478.8L2098.5 1495.5L2099.0 1511.2L2099.5 1525.8L2100.0 1539.2L2100.5 1551.5L2101.0 1561.6L2101.5 1570.2L2102.0 1572.3L2102.5 1570.6L2103.0 1573.6L2103.5 1574.3L2104.0 1573.2L2104.5 1573.3L2105.0 1575.1L2105.5 1574.3L2106.0 1576.1L2106.5 1573.7L2107.0 1570.8L2107.5 1561.1L2108.0 1549.6L2108.5 1535.7L2109.0 1520.0L2109.5 1527.6L2110.0 1534.8L2110.5 1541.6L2111.0 1548.0L2111.5 1554.1L2112.0 1559.5L2112.5 1563.6L2113.0 1569.1L2113.5 1573.4L2114.0 1572.0L2114.5 1575.7L2115.0 1579.6L2115.5 1578.7L2116.0 1579.1L2116.5 1581.9L2117.0 1581.1L2117.5 1580.0L2118.0 1579.9L2118.5 1580.0L2119.0 1580.9L2119.5 1573.1L2120.0 1570.6L2120.5 1565.8L2121.0 1555.5L2121.5 1543.4L2122.0 1529.7L2122.5 1536.9L2123.0 1543.6L2123.5 1550.0L2124.0 1555.9L2124.5 1561.8L2125.0 1566.5L2125.5 1569.5L2126.0 1574.9L2126.5 1580.1L2127.0 1575.0L2127.5 1577.5L2128.0 1580.3L2128.5 1581.7L2129.0 1586.7L2129.5 1584.4L2130.0 1578.4L2130.5 1573.7L2131.0 1578.8L2131.5 1579.2L2132.0 1568.2L2132.5 1556.7L2133.0 1544.5L2133.5 1530.6L2134.0 1537.3L2134.5 1543.7L2135.0 1549.7L2135.5 1555.3L2136.0 1560.6L2136.5 1565.2L2137.0 1568.4L2137.5 1574.8L2138.0 1578.8L2138.5 1581.4L2139.0 1580.6L2139.5 1581.4L2140.0 1586.9L2140.5 1583.2L2141.0 1581.1L2141.5 1583.5L2142.0 1581.3L2142.5 1578.8L2143.0 1574.9L2143.5 1568.8L2144.0 1560.2L2144.5 1536.9L2145.0 1507.7L2145.5 1474.2L2146.0 1436.3L2146.5 1455.0L2147.0 1472.6L2147.5 1489.2L2148.0 1504.6L2148.5 1519.0L2149.0 1532.3L2149.5 1544.3L2150.0 1554.4L2150.5 1559.2L2151.0 1564.4L2151.5 1568.3L2152.0 1567.1L2152.5 1568.0L2153.0 1566.7L2153.5 1568.5L2154.0 1571.4L2154.5 1568.2L2155.0 1567.0L2155.5 1567.5L2156.0 1568.2L2156.5 1568.5L2157.0 1572.4L2157.5 1575.3L2158.0 1572.5L2158.5 1574.7L2159.0 1580.1L2159.5 1576.7L2160.0 1570.2L2160.5 1576.9L2161.0 1577.2L2161.5 1573.3L2162.0 1574.8L2162.5 1574.3L2163.0 1577.2L2163.5 1581.4L2164.0 1576.2L2164.5 1579.9L2165.0 1581.8L2165.5 1580.6L2166.0 1582.5L2166.5 1580.9L2167.0 1579.8L2167.5 1580.1L2168.0 1581.1L2168.5 1580.5L2169.0 1575.9L2169.5 1576.4L2170.0 1582.9L2170.5 1585.7L2171.0 1581.7L2171.5 1575.7L2172.0 1579.1L2172.5 1583.6L2173.0 1581.5L2173.5 1576.3L2174.0 1579.4L2174.5 1578.9L2175.0 1578.1L2175.5 1577.4L2176.0 1577.1L2176.5 1579.1L2177.0 1577.7L2177.5 1568.0L2178.0 1551.6L2178.5 1531.3L2179.0 1508.3L2179.5 1482.5L2180.0 1454.0L2180.5 1471.1L2181.0 1487.2L2181.5 1502.3L2182.0 1516.5L2182.5 1529.7L2183.0 1541.9L2183.5 1553.0L2184.0 1562.1L2184.5 1567.4L2185.0 1568.6L2185.5 1573.1L2186.0 1574.5L2186.5 1569.9L2187.0 1573.4L2187.5 1580.0L2188.0 1577.6L2188.5 1576.1L2189.0 1575.3L2189.5 1574.0L2190.0 1573.9L2190.5 1573.0L2191.0 1577.4L2191.5 1572.4L2192.0 1564.9L2192.5 1559.6L2193.0 1552.0L2193.5 1557.0L2194.0 1562.0L2194.5 1564.4L2195.0 1569.4L2195.5 1573.9L2196.0 1573.8L2196.5 1575.9L2197.0 1579.4L2197.5 1580.1L2198.0 1581.7L2198.5 1576.7L2199.0 1574.3L2199.5 1578.3L2200.0 1583.7L2200.5 1581.6L2201.0 1576.1L2201.5 1574.4L2202.0 1573.3L2202.5 1572.9L2203.0 1569.8L2203.5 1554.3L2204.0 1525.1L2204.5 1490.0L2205.0 1449.8L2205.5 1404.3L2206.0 1428.3L2206.5 1450.7L2207.0 1471.5L2207.5 1490.8L2208.0 1508.6L2208.5 1524.8L2209.0 1539.1L2209.5 1549.9L2210.0 1553.5L2210.5 1554.7L2211.0 1554.3L2211.5 1554.8L2212.0 1559.1L2212.5 1556.1L2213.0 1552.3L2213.5 1555.1L2214.0 1559.3L2214.5 1564.1L2215.0 1564.2L2215.5 1565.7L2216.0 1570.9L2216.5 1566.6L2216.5 1571.0L2216.0 1575.8L2215.5 1570.5L2215.0 1570.1L2214.5 1569.6L2214.0 1565.3L2213.5 1561.1L2213.0 1558.3L2212.5 1562.1L2212.0 1565.1L2211.5 1560.8L2211.0 1560.3L2210.5 1560.7L2210.0 1559.5L2209.5 1555.9L2209.0 1545.1L2208.5 1530.8L2208.0 1514.6L2207.5 1496.8L2207.0 1547.1L2206.5 1510.7L2206.0 1465.2L2205.5 1411.3L2205.0 1507.0L2204.5 1566.1L2204.0 1531.1L2203.5 1560.3L2203.0 1575.8L2202.5 1578.9L2202.0 1579.3L2201.5 1580.4L2201.0 1582.1L2200.5 1587.6L2200.0 1589.7L2199.5 1583.3L2199.0 1580.3L2198.5 1582.7L2198.0 1586.1L2197.5 1586.1L2197.0 1585.4L2196.5 1581.9L2196.0 1579.8L2195.5 1579.9L2195.0 1575.4L2194.5 1570.4L2194.0 1568.0L2193.5 1568.0L2193.0 1559.0L2192.5 1565.6L2192.0 1570.9L2191.5 1578.4L2191.0 1583.4L2190.5 1579.0L2190.0 1579.9L2189.5 1580.0L2189.0 1580.1L2188.5 1582.1L2188.0 1583.6L2187.5 1586.0L2187.0 1579.4L2186.5 1575.9L2186.0 1580.5L2185.5 1579.1L2185.0 1574.6L2184.5 1573.4L2184.0 1568.1L2183.5 1559.0L2183.0 1547.9L2182.5 1535.7L2182.0 1522.5L2181.5 1557.8L2181.0 1530.9L2180.5 1498.6L2180.0 1461.0L2179.5 1521.7L2179.0 1566.9L2178.5 1537.3L2178.0 1557.6L2177.5 1574.0L2177.0 1583.7L2176.5 1585.1L2176.0 1583.1L2175.5 1583.4L2175.0 1584.1L2174.5 1584.5L2174.0 1585.4L2173.5 1581.7L2173.0 1584.9L2172.5 1588.5L2172.0 1584.1L2171.5 1581.1L2171.0 1586.3L2170.5 1587.9L2170.0 1585.6L2169.5 1580.7L2169.0 1581.2L2168.5 1583.5L2168.0 1584.1L2167.5 1583.9L2167.0 1585.0L2166.5 1585.9L2166.0 1586.4L2165.5 1584.3L2165.0 1586.3L2164.5 1583.9L2164.0 1580.8L2163.5 1585.5L2163.0 1582.6L2162.5 1577.6L2162.0 1578.2L2161.5 1578.7L2161.0 1582.3L2160.5 1580.3L2160.0 1574.6L2159.5 1581.8L2159.0 1585.7L2158.5 1579.1L2158.0 1576.4L2157.5 1579.1L2157.0 1578.1L2156.5 1574.5L2156.0 1573.6L2155.5 1573.5L2155.0 1573.0L2154.5 1574.2L2154.0 1577.4L2153.5 1574.5L2153.0 1572.7L2152.5 1574.0L2152.0 1573.1L2151.5 1574.3L2151.0 1570.4L2150.5 1565.2L2150.0 1560.4L2149.5 1550.3L2149.0 1538.3L2148.5 1525.0L2148.0 1510.6L2147.5 1550.5L2147.0 1520.8L2146.5 1485.0L2146.0 1443.3L2145.5 1522.9L2145.0 1513.7L2144.5 1542.9L2144.0 1566.2L2143.5 1574.8L2143.0 1580.9L2142.5 1584.8L2142.0 1587.3L2141.5 1589.4L2141.0 1587.1L2140.5 1589.2L2140.0 1592.2L2139.5 1587.4L2139.0 1586.6L2138.5 1587.4L2138.0 1584.8L2137.5 1580.8L2137.0 1574.4L2136.5 1571.2L2136.0 1566.6L2135.5 1561.3L2135.0 1573.3L2134.5 1563.2L2134.0 1551.3L2133.5 1537.6L2133.0 1565.0L2132.5 1562.7L2132.0 1574.2L2131.5 1585.2L2131.0 1584.8L2130.5 1579.7L2130.0 1584.4L2129.5 1590.1L2129.0 1592.1L2128.5 1587.7L2128.0 1586.3L2127.5 1583.1L2127.0 1581.0L2126.5 1586.1L2126.0 1580.9L2125.5 1575.5L2125.0 1572.5L2124.5 1567.8L2124.0 1561.9L2123.5 1556.0L2123.0 1563.8L2122.5 1551.2L2122.0 1536.7L2121.5 1563.7L2121.0 1561.5L2120.5 1571.8L2120.0 1576.6L2119.5 1579.1L2119.0 1586.4L2118.5 1586.0L2118.0 1585.2L2117.5 1585.1L2117.0 1586.6L2116.5 1587.5L2116.0 1585.1L2115.5 1584.7L2115.0 1585.6L2114.5 1581.7L2114.0 1578.0L2113.5 1579.4L2113.0 1575.1L2112.5 1569.6L2112.0 1565.5L2111.5 1560.1L2111.0 1554.0L2110.5 1568.0L2110.0 1556.4L2109.5 1542.7L2109.0 1527.0L2108.5 1558.4L2108.0 1555.6L2107.5 1567.1L2107.0 1576.8L2106.5 1579.7L2106.0 1581.3L2105.5 1580.3L2105.0 1581.1L2104.5 1579.3L2104.0 1579.2L2103.5 1580.3L2103.0 1579.6L2102.5 1576.6L2102.0 1578.3L2101.5 1576.2L2101.0 1567.6L2100.5 1557.5L2100.0 1545.2L2099.5 1531.8L2099.0 1517.2L2098.5 1557.2L2098.0 1527.2L2097.5 1491.1L2097.0 1449.0L2096.5 1528.9L2096.0 1519.5L2095.5 1548.7L2095.0 1572.7L2094.5 1581.3L2094.0 1582.0L2093.5 1587.0L2093.0 1587.6L2092.5 1587.0L2092.0 1588.5L2091.5 1587.7L2091.0 1585.7L2090.5 1582.1L2090.0 1577.1L2089.5 1571.1L2089.0 1562.9L2088.5 1553.2L2088.0 1542.6L2087.5 1531.4L2087.0 1560.4L2086.5 1537.5L2086.0 1510.7L2085.5 1480.0L2085.0 1541.6L2084.5 1534.3L2084.0 1556.7L2083.5 1575.4L2083.0 1583.0L2082.5 1584.7L2082.0 1584.9L2081.5 1586.5L2081.0 1586.7L2080.5 1584.7L2080.0 1586.4L2079.5 1583.9L2079.0 1584.3L2078.5 1592.4L2078.0 1592.4L2077.5 1586.6L2077.0 1585.0L2076.5 1590.1L2076.0 1587.6L2075.5 1580.7L2075.0 1582.5L2074.5 1586.0L2074.0 1582.2L2073.5 1583.1L2073.0 1583.4L2072.5 1578.5L2072.0 1581.3L2071.5 1578.0L2071.0 1575.3L2070.5 1574.6L2070.0 1571.4L2069.5 1564.8L2069.0 1556.1L2068.5 1546.1L2068.0 1535.2L2067.5 1523.5L2067.0 1567.8L2066.5 1546.4L2066.0 1520.0L2065.5 1489.5L2065.0 1454.7L2064.5 1531.2L2064.0 1522.4L2063.5 1550.5L2063.0 1573.7L2062.5 1584.7L2062.0 1589.5L2061.5 1588.2L2061.0 1586.7L2060.5 1589.7L2060.0 1587.5L2059.5 1586.1L2059.0 1582.9L2058.5 1582.9L2058.0 1580.3L2057.5 1577.6L2057.0 1571.7L2056.5 1561.4L2056.0 1548.6L2055.5 1534.5L2055.0 1519.3L2054.5 1572.4L2054.0 1546.6L2053.5 1513.0L2053.0 1473.6L2052.5 1428.3L2052.0 1519.1L2051.5 1574.8L2051.0 1540.2L2050.5 1567.1L2050.0 1576.2L2049.5 1577.3L2049.0 1581.1L2048.5 1583.9L2048.0 1584.4L2047.5 1584.9L2047.0 1586.6L2046.5 1589.8L2046.0 1586.6L2045.5 1582.3L2045.0 1583.5L2044.5 1582.8L2044.0 1583.2L2043.5 1587.6L2043.0 1589.7L2042.5 1590.0L2042.0 1585.9L2041.5 1585.4L2041.0 1585.1L2040.5 1587.3L2040.0 1587.5L2039.5 1587.1L2039.0 1590.1L2038.5 1587.6L2038.0 1583.9L2037.5 1581.8L2037.0 1578.5L2036.5 1582.2L2036.0 1585.6L2035.5 1585.4L2035.0 1586.1L2034.5 1584.6L2034.0 1581.8L2033.5 1578.5L2033.0 1578.4L2032.5 1576.0L2032.0 1575.1L2031.5 1575.4L2031.0 1571.7L2030.5 1571.1L2030.0 1559.4L2029.5 1546.8L2029.0 1532.6L2028.5 1517.0L2028.0 1559.3L2027.5 1527.9L2027.0 1488.7L2026.5 1442.4L2026.0 1531.3L2025.5 1521.2L2025.0 1552.9L2024.5 1579.8L2024.0 1587.2L2023.5 1590.9L2023.0 1588.9L2022.5 1591.5L2022.0 1593.4L2021.5 1595.7L2021.0 1597.3L2020.5 1597.4L2020.0 1595.5L2019.5 1594.5L2019.0 1593.5L2018.5 1593.5L2018.0 1589.5L2017.5 1592.6L2017.0 1598.8L2016.5 1598.3L2016.0 1595.9L2015.5 1592.2L2015.0 1588.8L2014.5 1589.5L2014.0 1589.7L2013.5 1594.7L2013.0 1596.1L2012.5 1590.4L2012.0 1586.9L2011.5 1590.6L2011.0 1594.0L2010.5 1594.0L2010.0 1588.5L2009.5 1586.4L2009.0 1588.4L2008.5 1588.4L2008.0 1592.9L2007.5 1593.8L2007.0 1594.7L2006.5 1589.8L2006.0 1586.5L2005.5 1588.0L2005.0 1586.2L2004.5 1586.5L2004.0 1587.6L2003.5 1587.5L2003.0 1584.3L2002.5 1584.2L2002.0 1582.8L2001.5 1581.6L2001.0 1575.2L2000.5 1567.8L2000.0 1559.7L1999.5 1582.8L1999.0 1566.2L1998.5 1545.4L1998.0 1520.6L1997.5 1570.2L1997.0 1566.4L1996.5 1587.2L1996.0 1602.7L1995.5 1604.7L1995.0 1606.3L1994.5 1609.8L1994.0 1610.9L1993.5 1611.7L1993.0 1612.2L1992.5 1608.3L1992.0 1609.4L1991.5 1610.6L1991.0 1609.8L1990.5 1609.0L1990.0 1608.8L1989.5 1605.3L1989.0 1607.8L1988.5 1606.9L1988.0 1604.6L1987.5 1610.6L1987.0 1608.6L1986.5 1604.1L1986.0 1607.0L1985.5 1606.0L1985.0 1610.4L1984.5 1608.5L1984.0 1605.8L1983.5 1610.8L1983.0 1614.4L1982.5 1613.1L1982.0 1616.4L1981.5 1612.2L1981.0 1611.6L1980.5 1616.2L1980.0 1613.8L1979.5 1613.7L1979.0 1613.8L1978.5 1612.2L1978.0 1611.9L1977.5 1612.3L1977.0 1609.8L1976.5 1608.4L1976.0 1611.3L1975.5 1611.1L1975.0 1612.9L1974.5 1610.3L1974.0 1610.5L1973.5 1609.0L1973.0 1614.1L1972.5 1615.3L1972.0 1611.3L1971.5 1612.7L1971.0 1611.4L1970.5 1607.6L1970.0 1609.7L1969.5 1608.5L1969.0 1613.0L1968.5 1610.6L1968.0 1606.9L1967.5 1612.3L1967.0 1615.4L1966.5 1615.7L1966.0 1613.4L1965.5 1610.0L1965.0 1606.3L1964.5 1610.2L1964.0 1611.8L1963.5 1605.3L1963.0 1609.7L1962.5 1607.1L1962.0 1601.1L1961.5 1609.9L1961.0 1611.6L1960.5 1608.5L1960.0 1606.0L1959.5 1607.8L1959.0 1610.2L1958.5 1605.5L1958.0 1605.2L1957.5 1609.8L1957.0 1611.6L1956.5 1603.0L1956.0 1607.6L1955.5 1607.9L1955.0 1609.1L1954.5 1613.5L1954.0 1611.4L1953.5 1611.3L1953.0 1610.3L1952.5 1609.2L1952.0 1611.3L1951.5 1606.1L1951.0 1608.2L1950.5 1610.8L1950.0 1604.0L1949.5 1611.5L1949.0 1608.5L1948.5 1601.4L1948.0 1605.5L1947.5 1606.5L1947.0 1604.6L1946.5 1607.1L1946.0 1606.3L1945.5 1610.2L1945.0 1611.5L1944.5 1614.6L1944.0 1611.5L1943.5 1610.1L1943.0 1612.3L1942.5 1609.2L1942.0 1604.0L1941.5 1608.5L1941.0 1613.6L1940.5 1611.6L1940.0 1606.8L1939.5 1611.3L1939.0 1614.9L1938.5 1608.3L1938.0 1604.3L1937.5 1609.2L1937.0 1612.7L1936.5 1612.1L1936.0 1607.9L1935.5 1604.1L1935.0 1605.3L1934.5 1610.2L1934.0 1613.0L1933.5 1611.9L1933.0 1609.4L1932.5 1605.6L1932.0 1611.0L1931.5 1609.9L1931.0 1604.5L1930.5 1609.0L1930.0 1613.7L1929.5 1615.5L1929.0 1616.5L1928.5 1609.8L1928.0 1605.0L1927.5 1608.8L1927.0 1613.7L1926.5 1613.0L1926.0 1611.2L1925.5 1613.3L1925.0 1614.7L1924.5 1610.2L1924.0 1605.4L1923.5 1607.8L1923.0 1607.9L1922.5 1609.3L1922.0 1609.2L1921.5 1603.8L1921.0 1605.4L1920.5 1606.7L1920.0 1611.1L1919.5 1610.7L1919.0 1610.8L1918.5 1609.4L1918.0 1608.8L1917.5 1605.3L1917.0 1604.3L1916.5 1606.8L1916.0 1609.7L1915.5 1605.5L1915.0 1609.3L1914.5 1613.5L1914.0 1610.7L1913.5 1605.6L1913.0 1604.3L1912.5 1612.6L1912.0 1612.9L1911.5 1605.9L1911.0 1602.7L1910.5 1609.9L1910.0 1610.9L1909.5 1608.2L1909.0 1611.4L1908.5 1614.8L1908.0 1612.0L1907.5 1611.4L1907.0 1611.5L1906.5 1610.8L1906.0 1610.7L1905.5 1609.8L1905.0 1612.2L1904.5 1609.8L1904.0 1612.4L1903.5 1613.4L1903.0 1608.7L1902.5 1608.0L1902.0 1610.3L1901.5 1605.7L1901.0 1606.3L1900.5 1605.1L1900.0 1603.9L1899.5 1604.9L1899.0 1607.8L1898.5 1610.2L1898.0 1608.7L1897.5 1611.0L1897.0 1612.1L1896.5 1609.4L1896.0 1607.4L1895.5 1607.0L1895.0 1607.9L1894.5 1606.1L1894.0 1604.4L1893.5 1612.4L1893.0 1613.4L1892.5 1608.4L1892.0 1607.3L1891.5 1608.0L1891.0 1603.1L1890.5 1604.6L1890.0 1608.5L1889.5 1610.2L1889.0 1606.9L1888.5 1609.2L1888.0 1608.5L1887.5 1605.3L1887.0 1610.4L1886.5 1610.7L1886.0 1606.3L1885.5 1600.5L1885.0 1599.8L1884.5 1605.1L1884.0 1608.6L1883.5 1603.6L1883.0 1599.2L1882.5 1599.0L1882.0 1601.5L1881.5 1605.9L1881.0 1604.5L1880.5 1608.8L1880.0 1607.9L1879.5 1605.3L1879.0 1604.5L1878.5 1601.3L1878.0 1600.6L1877.5 1598.7L1877.0 1604.5L1876.5 1603.5L1876.0 1602.8L1875.5 1601.4L1875.0 1600.3L1874.5 1604.6L1874.0 1601.3L1873.5 1599.9L1873.0 1595.8L1872.5 1602.1L1872.0 1601.1L1871.5 1599.7L1871.0 1599.0L1870.5 1600.2L1870.0 1600.2L1869.5 1602.6L1869.0 1603.2L1868.5 1600.6L1868.0 1601.2L1867.5 1599.6L1867.0 1601.4L1866.5 1596.9L1866.0 1598.9L1865.5 1605.8L1865.0 1604.6L1864.5 1598.5L1864.0 1594.1L1863.5 1598.8L1863.0 1599.0L1862.5 1599.2L1862.0 1602.7L1861.5 1602.6L1861.0 1598.6L1860.5 1597.7L1860.0 1597.5L1859.5 1593.7L1859.0 1601.2L1858.5 1597.8L1858.0 1594.2L1857.5 1595.9L1857.0 1601.0L1856.5 1601.6L1856.0 1599.3L1855.5 1598.4L1855.0 1599.2L1854.5 1595.4L1854.0 1596.8L1853.5 1597.8L1853.0 1592.7L1852.5 1593.4L1852.0 1597.0L1851.5 1595.5L1851.0 1590.7L1850.5 1588.8L1850.0 1585.1L1849.5 1580.9L1849.0 1574.3L1848.5 1568.8L1848.0 1562.6L1847.5 1571.0L1847.0 1557.7L1846.5 1542.3L1846.0 1571.1L1845.5 1568.7L1845.0 1577.8L1844.5 1587.2L1844.0 1592.7L1843.5 1589.2L1843.0 1589.4L1842.5 1591.9L1842.0 1594.9L1841.5 1594.8L1841.0 1594.0L1840.5 1593.1L1840.0 1587.8L1839.5 1586.3L1839.0 1588.3L1838.5 1587.3L1838.0 1583.1L1837.5 1576.4L1837.0 1567.1L1836.5 1557.0L1836.0 1546.0L1835.5 1534.2L1835.0 1577.7L1834.5 1556.3L1834.0 1530.0L1833.5 1499.6L1833.0 1465.0L1832.5 1540.5L1832.0 1531.5L1831.5 1559.1L1831.0 1581.6L1830.5 1594.9L1830.0 1595.3L1829.5 1595.2L1829.0 1596.8L1828.5 1596.8L1828.0 1594.5L1827.5 1594.4L1827.0 1594.8L1826.5 1592.0L1826.0 1588.8L1825.5 1588.6L1825.0 1581.5L1824.5 1572.4L1824.0 1563.7L1823.5 1554.4L1823.0 1544.4L1822.5 1569.0L1822.0 1549.1L1821.5 1525.8L1821.0 1499.0L1820.5 1547.9L1820.0 1541.9L1819.5 1560.1L1819.0 1575.5L1818.5 1585.8L1818.0 1583.5L1817.5 1587.7L1817.0 1587.6L1816.5 1587.0L1816.0 1585.9L1815.5 1583.4L1815.0 1583.2L1814.5 1584.8L1814.0 1586.4L1813.5 1584.6L1813.0 1573.7L1812.5 1563.3L1812.0 1551.1L1811.5 1537.7L1811.0 1523.2L1810.5 1561.9L1810.0 1532.4L1809.5 1496.9L1809.0 1455.6L1808.5 1527.2L1808.0 1577.8L1807.5 1545.0L1807.0 1567.9L1806.5 1583.9L1806.0 1589.2L1805.5 1593.4L1805.0 1592.1L1804.5 1591.2L1804.0 1593.4L1803.5 1588.6L1803.0 1586.4L1802.5 1588.6L1802.0 1587.0L1801.5 1582.0L1801.0 1576.4L1800.5 1564.8L1800.0 1551.7L1799.5 1537.3L1799.0 1521.7L1798.5 1564.0L1798.0 1532.1L1797.5 1493.7L1797.0 1449.0L1796.5 1526.8L1796.0 1581.8L1795.5 1546.1L1795.0 1570.9L1794.5 1586.7L1794.0 1592.1L1793.5 1596.6L1793.0 1598.6L1792.5 1598.6L1792.0 1594.1L1791.5 1593.7L1791.0 1592.7L1790.5 1591.3L1790.0 1593.6L1789.5 1593.0L1789.0 1585.3L1788.5 1577.0L1788.0 1568.4L1787.5 1559.2L1787.0 1549.3L1786.5 1585.0L1786.0 1567.2L1785.5 1545.4L1785.0 1520.1L1784.5 1491.4L1784.0 1549.1L1783.5 1542.3L1783.0 1564.0L1782.5 1582.4L1782.0 1594.9L1781.5 1601.4L1781.0 1604.2L1780.5 1600.3L1780.0 1599.4L1779.5 1599.4L1779.0 1596.0L1778.5 1595.7L1778.0 1597.9L1777.5 1598.2L1777.0 1593.6L1776.5 1584.4L1776.0 1576.5L1775.5 1567.1L1775.0 1556.9L1774.5 1546.0L1774.0 1585.1L1773.5 1565.4L1773.0 1541.4L1772.5 1513.6L1772.0 1482.0L1771.5 1550.3L1771.0 1542.2L1770.5 1567.1L1770.0 1588.1L1769.5 1596.8L1769.0 1601.1L1768.5 1600.0L1768.0 1598.6L1767.5 1598.0L1767.0 1597.3L1766.5 1594.8L1766.0 1594.6L1765.5 1596.0L1765.0 1588.7L1764.5 1580.3L1764.0 1569.7L1763.5 1558.0L1763.0 1545.3L1762.5 1531.7L1762.0 1581.8L1761.5 1557.1L1761.0 1526.7L1760.5 1491.7L1760.0 1451.8L1759.5 1531.5L1759.0 1587.7L1758.5 1550.9L1758.0 1576.1L1757.5 1594.0L1757.0 1599.6L1756.5 1598.7L1756.0 1602.3L1755.5 1603.2L1755.0 1601.6L1754.5 1602.1L1754.0 1603.2L1753.5 1601.4L1753.0 1598.0L1752.5 1597.3L1752.0 1594.0L1751.5 1591.2L1751.0 1591.7L1750.5 1586.5L1750.0 1574.4L1749.5 1561.1L1749.0 1546.4L1748.5 1530.4L1748.0 1588.9L1747.5 1576.4L1747.0 1545.3L1746.5 1507.1L1746.0 1463.1L1745.5 1413.0L1745.0 1521.1L1744.5 1587.4L1744.0 1545.9L1743.5 1577.8L1743.0 1593.1L1742.5 1594.5L1742.0 1597.2L1741.5 1599.7L1741.0 1599.8L1740.5 1599.3L1740.0 1597.9L1739.5 1596.6L1739.0 1594.2L1738.5 1597.3L1738.0 1594.8L1737.5 1593.6L1737.0 1591.4L1736.5 1580.8L1736.0 1566.0L1735.5 1549.1L1735.0 1530.4L1734.5 1591.6L1734.0 1584.3L1733.5 1549.4L1733.0 1503.8L1732.5 1450.2L1732.0 1388.7L1731.5 1488.2L1731.0 1564.8L1730.5 1593.7L1730.0 1545.7L1729.5 1574.5L1729.0 1595.6L1728.5 1599.7L1728.0 1601.8L1727.5 1605.2L1727.0 1605.4L1726.5 1606.7L1726.0 1608.7L1725.5 1607.0L1725.0 1604.4L1724.5 1605.4L1724.0 1604.6L1723.5 1607.3L1723.0 1608.7L1722.5 1607.9L1722.0 1607.1L1721.5 1601.3L1721.0 1602.3L1720.5 1599.9L1720.0 1598.9L1719.5 1598.9L1719.0 1597.9L1718.5 1600.9L1718.0 1598.2L1717.5 1593.2L1717.0 1594.4L1716.5 1596.9L1716.0 1594.0L1715.5 1591.4L1715.0 1591.0L1714.5 1589.5L1714.0 1587.9L1713.5 1589.4L1713.0 1589.3L1712.5 1582.5L1712.0 1575.2L1711.5 1566.7L1711.0 1557.5L1710.5 1547.6L1710.0 1537.2L1709.5 1526.2L1709.0 1587.0L1708.5 1584.2L1708.0 1572.9L1707.5 1552.7L1707.0 1529.0L1706.5 1502.4L1706.0 1473.2L1705.5 1441.3L1705.0 1406.6L1704.5 1500.5L1704.0 1570.2L1703.5 1522.6L1703.0 1553.3L1702.5 1578.5L1702.0 1586.3L1701.5 1590.3L1701.0 1594.1L1700.5 1593.8L1700.0 1597.8L1699.5 1597.3L1699.0 1594.0L1698.5 1592.8L1698.0 1595.7L1697.5 1595.2L1697.0 1590.0L1696.5 1588.2L1696.0 1583.0L1695.5 1573.3L1695.0 1561.0L1694.5 1547.5L1694.0 1532.8L1693.5 1586.9L1693.0 1575.5L1692.5 1546.8L1692.0 1511.5L1691.5 1470.8L1691.0 1424.5L1690.5 1510.2L1690.0 1574.0L1689.5 1530.9L1689.0 1559.1L1688.5 1581.7L1688.0 1589.4L1687.5 1593.9L1687.0 1598.3L1686.5 1597.7L1686.0 1595.3L1685.5 1596.7L1685.0 1596.9L1684.5 1597.2L1684.0 1594.9L1683.5 1585.7L1683.0 1573.7L1682.5 1560.2L1682.0 1545.3L1681.5 1529.1L1681.0 1588.3L1680.5 1560.4L1680.0 1524.0L1679.5 1481.2L1679.0 1432.0L1678.5 1517.8L1678.0 1581.7L1677.5 1539.1L1677.0 1567.4L1676.5 1591.0L1676.0 1601.9L1675.5 1605.6L1675.0 1603.4L1674.5 1604.3L1674.0 1611.7L1673.5 1615.8L1673.0 1614.3L1672.5 1611.5L1672.0 1607.2L1671.5 1610.3L1671.0 1613.1L1670.5 1610.7L1670.0 1607.7L1669.5 1606.5L1669.0 1604.3L1668.5 1596.3L1668.0 1584.0L1667.5 1570.0L1667.0 1554.5L1666.5 1605.8L1666.0 1584.6L1665.5 1549.9L1665.0 1508.1L1664.5 1459.4L1664.0 1583.0L1663.5 1570.0L1663.0 1606.9L1662.5 1619.0L1662.0 1626.9L1661.5 1629.2L1661.0 1634.6L1660.5 1634.6L1660.0 1631.4L1659.5 1629.1L1659.0 1632.1L1658.5 1638.3L1658.0 1636.5L1657.5 1638.1L1657.0 1639.4L1656.5 1633.0L1656.0 1631.7L1655.5 1635.0L1655.0 1635.1L1654.5 1632.3L1654.0 1637.3L1653.5 1638.3L1653.0 1633.0L1652.5 1632.1L1652.0 1634.1L1651.5 1636.2L1651.0 1637.0L1650.5 1641.3L1650.0 1636.7L1649.5 1638.4L1649.0 1642.7L1648.5 1639.6L1648.0 1637.5L1647.5 1635.7L1647.0 1634.2L1646.5 1635.2L1646.0 1638.9L1645.5 1642.0L1645.0 1641.9L1644.5 1637.5L1644.0 1638.3L1643.5 1644.0L1643.0 1640.0L1642.5 1639.9L1642.0 1642.7L1641.5 1644.3L1641.0 1644.2L1640.5 1635.3L1640.0 1638.4L1639.5 1639.4L1639.0 1641.7L1638.5 1642.8L1638.0 1643.4L1637.5 1644.2L1637.0 1636.0L1636.5 1640.7L1636.0 1640.0L1635.5 1633.8L1635.0 1639.8L1634.5 1643.6L1634.0 1640.0L1633.5 1645.3L1633.0 1641.0L1632.5 1639.7L1632.0 1644.4L1631.5 1641.8L1631.0 1636.8L1630.5 1641.6L1630.0 1640.4L1629.5 1636.9L1629.0 1640.1L1628.5 1642.5L1628.0 1643.1L1627.5 1647.1L1627.0 1641.5L1626.5 1639.4L1626.0 1643.2L1625.5 1645.5L1625.0 1644.5L1624.5 1640.9L1624.0 1637.6L1623.5 1638.7L1623.0 1642.0L1622.5 1643.3L1622.0 1644.3L1621.5 1642.8L1621.0 1643.4L1620.5 1640.2L1620.0 1640.8L1619.5 1641.8L1619.0 1640.6L1618.5 1641.3L1618.0 1646.5L1617.5 1643.7L1617.0 1643.5L1616.5 1645.1L1616.0 1638.8L1615.5 1638.1L1615.0 1640.1L1614.5 1649.0L1614.0 1641.7L1613.5 1638.6L1613.0 1644.0L1612.5 1645.2L1612.0 1640.5L1611.5 1637.5L1611.0 1638.2L1610.5 1639.7L1610.0 1644.1L1609.5 1642.0L1609.0 1638.1L1608.5 1640.4L1608.0 1647.6L1607.5 1644.8L1607.0 1643.2L1606.5 1641.2L1606.0 1636.7L1605.5 1640.0L1605.0 1634.4L1604.5 1634.5L1604.0 1632.6L1603.5 1639.9L1603.0 1640.1L1602.5 1638.5L1602.0 1642.0L1601.5 1642.4L1601.0 1642.7L1600.5 1640.3L1600.0 1633.4L1599.5 1635.6L1599.0 1637.6L1598.5 1640.4L1598.0 1641.3L1597.5 1635.5L1597.0 1631.4L1596.5 1631.4L1596.0 1633.6L1595.5 1635.7L1595.0 1634.5L1594.5 1634.1L1594.0 1628.5L1593.5 1628.7L1593.0 1627.6L1592.5 1624.8L1592.0 1624.6L1591.5 1624.3L1591.0 1623.4L1590.5 1619.6L1590.0 1611.4L1589.5 1604.7L1589.0 1605.4Z" fill="url(#gF)" stroke="url(#gF)" stroke-width="1.7" stroke-linejoin="round"/>
<line x1="1856" y1="1380" x2="1978.3" y2="1380" stroke="#000" stroke-width="4.4"/>
<text x="1748" y="1354.5" font-size="43.8" text-anchor="start" fill="#000" font-weight="bold">JYGCT 5 mg/ml</text>
<text x="1384.5" y="1241.5" font-size="43.8" text-anchor="middle" fill="#111" font-weight="bold" transform="rotate(-90 1384.5 1241.5)">F340/380</text>
<text x="2110" y="1788.3" font-size="43.1" text-anchor="start" fill="#000" font-weight="bold">Time (sec)</text>
<text x="1385" y="1060" font-size="64.5" text-anchor="start" fill="#000" font-weight="bold">F</text>
</g>
</svg>
</body></html>
